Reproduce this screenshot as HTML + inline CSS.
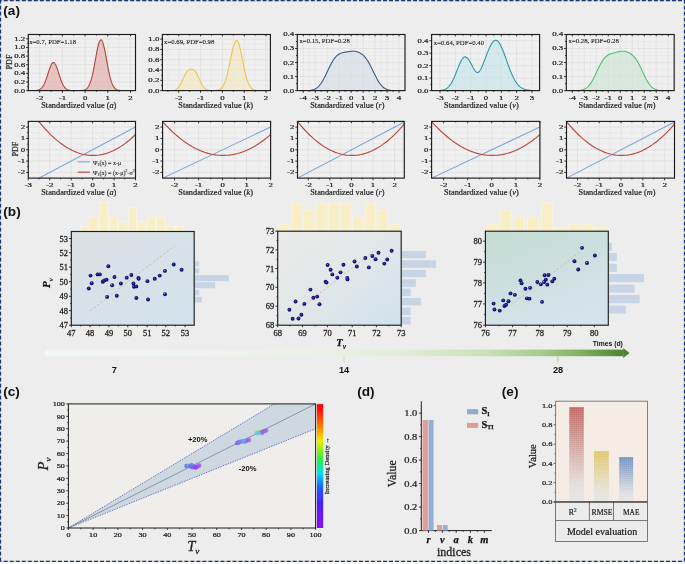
<!DOCTYPE html>
<html><head><meta charset="utf-8"><style>
html,body{margin:0;padding:0;width:685px;height:564px;overflow:hidden;background:#ededed;}
svg{display:block;will-change:transform;}
</style></head><body>
<svg width="685" height="564" viewBox="0 0 685 564">
<rect x="0" y="0" width="685" height="564" fill="#ededed"/>
<text transform="translate(3.3,14.5)" font-size="13.6" font-family="&quot;Liberation Sans&quot;, sans-serif" font-weight="bold" fill="#111" >(a)</text>
<text transform="translate(3.3,215.8)" font-size="13.6" font-family="&quot;Liberation Sans&quot;, sans-serif" font-weight="bold" fill="#111" >(b)</text>
<text transform="translate(3.2,395.8)" font-size="13.6" font-family="&quot;Liberation Sans&quot;, sans-serif" font-weight="bold" fill="#111" >(c)</text>
<text transform="translate(357.2,395.7)" font-size="13.6" font-family="&quot;Liberation Sans&quot;, sans-serif" font-weight="bold" fill="#111" >(d)</text>
<text transform="translate(501.8,395.7)" font-size="13.6" font-family="&quot;Liberation Sans&quot;, sans-serif" font-weight="bold" fill="#111" >(e)</text>
<rect x="28.3" y="34.5" width="107.2" height="56.1" fill="#f0f0f0" />
<line x1="51.01" y1="34.5" x2="51.01" y2="90.6" stroke="#e0e0e0" stroke-width="0.6" stroke-dasharray="1.6 1"/>
<line x1="73.72" y1="34.5" x2="73.72" y2="90.6" stroke="#e0e0e0" stroke-width="0.6" stroke-dasharray="1.6 1"/>
<line x1="96.44" y1="34.5" x2="96.44" y2="90.6" stroke="#e0e0e0" stroke-width="0.6" stroke-dasharray="1.6 1"/>
<line x1="119.15" y1="34.5" x2="119.15" y2="90.6" stroke="#e0e0e0" stroke-width="0.6" stroke-dasharray="1.6 1"/>
<line x1="28.3" y1="86.28" x2="135.5" y2="86.28" stroke="#e0e0e0" stroke-width="0.6" stroke-dasharray="1.6 1"/>
<line x1="28.3" y1="77.65" x2="135.5" y2="77.65" stroke="#e0e0e0" stroke-width="0.6" stroke-dasharray="1.6 1"/>
<line x1="28.3" y1="69.02" x2="135.5" y2="69.02" stroke="#e0e0e0" stroke-width="0.6" stroke-dasharray="1.6 1"/>
<line x1="28.3" y1="60.39" x2="135.5" y2="60.39" stroke="#e0e0e0" stroke-width="0.6" stroke-dasharray="1.6 1"/>
<line x1="28.3" y1="51.76" x2="135.5" y2="51.76" stroke="#e0e0e0" stroke-width="0.6" stroke-dasharray="1.6 1"/>
<line x1="28.3" y1="43.13" x2="135.5" y2="43.13" stroke="#e0e0e0" stroke-width="0.6" stroke-dasharray="1.6 1"/>
<line x1="39.66" y1="34.5" x2="39.66" y2="90.6" stroke="#dcdcdc" stroke-width="0.7" />
<line x1="62.37" y1="34.5" x2="62.37" y2="90.6" stroke="#dcdcdc" stroke-width="0.7" />
<line x1="85.08" y1="34.5" x2="85.08" y2="90.6" stroke="#dcdcdc" stroke-width="0.7" />
<line x1="107.79" y1="34.5" x2="107.79" y2="90.6" stroke="#dcdcdc" stroke-width="0.7" />
<line x1="130.5" y1="34.5" x2="130.5" y2="90.6" stroke="#dcdcdc" stroke-width="0.7" />
<line x1="28.3" y1="90.6" x2="135.5" y2="90.6" stroke="#dcdcdc" stroke-width="0.7" />
<line x1="28.3" y1="81.97" x2="135.5" y2="81.97" stroke="#dcdcdc" stroke-width="0.7" />
<line x1="28.3" y1="73.34" x2="135.5" y2="73.34" stroke="#dcdcdc" stroke-width="0.7" />
<line x1="28.3" y1="64.71" x2="135.5" y2="64.71" stroke="#dcdcdc" stroke-width="0.7" />
<line x1="28.3" y1="56.08" x2="135.5" y2="56.08" stroke="#dcdcdc" stroke-width="0.7" />
<line x1="28.3" y1="47.45" x2="135.5" y2="47.45" stroke="#dcdcdc" stroke-width="0.7" />
<line x1="28.3" y1="38.82" x2="135.5" y2="38.82" stroke="#dcdcdc" stroke-width="0.7" />
<path d="M28.3,90.6 L28.3,90.6 L29.2,90.6 L30.1,90.6 L31,90.59 L31.9,90.59 L32.8,90.58 L33.71,90.56 L34.61,90.53 L35.51,90.48 L36.41,90.4 L37.31,90.27 L38.21,90.06 L39.11,89.76 L40.01,89.31 L40.91,88.67 L41.81,87.8 L42.71,86.65 L43.61,85.19 L44.52,83.38 L45.42,81.23 L46.32,78.77 L47.22,76.08 L48.12,73.26 L49.02,70.46 L49.92,67.85 L50.82,65.61 L51.72,63.9 L52.62,62.85 L53.52,62.56 L54.42,63.03 L55.33,64.24 L56.23,66.09 L57.13,68.43 L58.03,71.1 L58.93,73.91 L59.83,76.71 L60.73,79.36 L61.63,81.75 L62.53,83.83 L63.43,85.56 L64.33,86.95 L65.23,88.03 L66.14,88.84 L67.04,89.43 L67.94,89.84 L68.84,90.12 L69.74,90.31 L70.64,90.42 L71.54,90.5 L72.44,90.54 L73.34,90.57 L74.24,90.58 L75.14,90.59 L76.04,90.59 L76.95,90.59 L77.85,90.59 L78.75,90.58 L79.65,90.57 L80.55,90.54 L81.45,90.49 L82.35,90.41 L83.25,90.28 L84.15,90.07 L85.05,89.75 L85.95,89.27 L86.85,88.57 L87.76,87.57 L88.66,86.21 L89.56,84.4 L90.46,82.07 L91.36,79.17 L92.26,75.68 L93.16,71.62 L94.06,67.08 L94.96,62.21 L95.86,57.23 L96.76,52.37 L97.66,47.95 L98.57,44.25 L99.47,41.52 L100.37,39.98 L101.27,39.75 L102.17,40.83 L103.07,43.15 L103.97,46.54 L104.87,50.74 L105.77,55.47 L106.67,60.44 L107.57,65.38 L108.47,70.05 L109.38,74.29 L110.28,78 L111.18,81.11 L112.08,83.64 L112.98,85.62 L113.88,87.14 L114.78,88.25 L115.68,89.05 L116.58,89.6 L117.48,89.97 L118.38,90.22 L119.28,90.37 L120.19,90.47 L121.09,90.53 L121.99,90.56 L122.89,90.58 L123.79,90.59 L124.69,90.59 L125.59,90.6 L126.49,90.6 L127.39,90.6 L128.29,90.6 L129.19,90.6 L130.09,90.6 L131,90.6 L131.9,90.6 L132.8,90.6 L133.7,90.6 L134.6,90.6 L135.5,90.6 L135.5,90.6 Z" fill="#e1a7a2" fill-opacity="0.6"/>
<path d="M35.51,90.48 L36.41,90.4 L37.31,90.27 L38.21,90.06 L39.11,89.76 L40.01,89.31 L40.91,88.67 L41.81,87.8 L42.71,86.65 L43.61,85.19 L44.52,83.38 L45.42,81.23 L46.32,78.77 L47.22,76.08 L48.12,73.26 L49.02,70.46 L49.92,67.85 L50.82,65.61 L51.72,63.9 L52.62,62.85 L53.52,62.56 L54.42,63.03 L55.33,64.24 L56.23,66.09 L57.13,68.43 L58.03,71.1 L58.93,73.91 L59.83,76.71 L60.73,79.36 L61.63,81.75 L62.53,83.83 L63.43,85.56 L64.33,86.95 L65.23,88.03 L66.14,88.84 L67.04,89.43 L67.94,89.84 L68.84,90.12 L69.74,90.31 L70.64,90.42 L71.54,90.5 L81.45,90.49 L82.35,90.41 L83.25,90.28 L84.15,90.07 L85.05,89.75 L85.95,89.27 L86.85,88.57 L87.76,87.57 L88.66,86.21 L89.56,84.4 L90.46,82.07 L91.36,79.17 L92.26,75.68 L93.16,71.62 L94.06,67.08 L94.96,62.21 L95.86,57.23 L96.76,52.37 L97.66,47.95 L98.57,44.25 L99.47,41.52 L100.37,39.98 L101.27,39.75 L102.17,40.83 L103.07,43.15 L103.97,46.54 L104.87,50.74 L105.77,55.47 L106.67,60.44 L107.57,65.38 L108.47,70.05 L109.38,74.29 L110.28,78 L111.18,81.11 L112.08,83.64 L112.98,85.62 L113.88,87.14 L114.78,88.25 L115.68,89.05 L116.58,89.6 L117.48,89.97 L118.38,90.22 L119.28,90.37 L120.19,90.47" stroke="#b5453d" stroke-width="1.1" fill="none" stroke-linejoin="round"/>
<line x1="26.1" y1="90.6" x2="28.3" y2="90.6" stroke="#1c1c1c" stroke-width="0.9" />
<line x1="26.1" y1="81.97" x2="28.3" y2="81.97" stroke="#1c1c1c" stroke-width="0.9" />
<line x1="26.1" y1="73.34" x2="28.3" y2="73.34" stroke="#1c1c1c" stroke-width="0.9" />
<line x1="26.1" y1="64.71" x2="28.3" y2="64.71" stroke="#1c1c1c" stroke-width="0.9" />
<line x1="26.1" y1="56.08" x2="28.3" y2="56.08" stroke="#1c1c1c" stroke-width="0.9" />
<line x1="26.1" y1="47.45" x2="28.3" y2="47.45" stroke="#1c1c1c" stroke-width="0.9" />
<line x1="26.1" y1="38.82" x2="28.3" y2="38.82" stroke="#1c1c1c" stroke-width="0.9" />
<line x1="27" y1="86.28" x2="28.3" y2="86.28" stroke="#1c1c1c" stroke-width="0.8" />
<line x1="27" y1="77.65" x2="28.3" y2="77.65" stroke="#1c1c1c" stroke-width="0.8" />
<line x1="27" y1="69.02" x2="28.3" y2="69.02" stroke="#1c1c1c" stroke-width="0.8" />
<line x1="27" y1="60.39" x2="28.3" y2="60.39" stroke="#1c1c1c" stroke-width="0.8" />
<line x1="27" y1="51.76" x2="28.3" y2="51.76" stroke="#1c1c1c" stroke-width="0.8" />
<line x1="27" y1="43.13" x2="28.3" y2="43.13" stroke="#1c1c1c" stroke-width="0.8" />
<line x1="39.66" y1="90.6" x2="39.66" y2="92.8" stroke="#1c1c1c" stroke-width="0.9" />
<line x1="39.66" y1="34.5" x2="39.66" y2="36.3" stroke="#1c1c1c" stroke-width="0.9" />
<line x1="62.37" y1="90.6" x2="62.37" y2="92.8" stroke="#1c1c1c" stroke-width="0.9" />
<line x1="62.37" y1="34.5" x2="62.37" y2="36.3" stroke="#1c1c1c" stroke-width="0.9" />
<line x1="85.08" y1="90.6" x2="85.08" y2="92.8" stroke="#1c1c1c" stroke-width="0.9" />
<line x1="85.08" y1="34.5" x2="85.08" y2="36.3" stroke="#1c1c1c" stroke-width="0.9" />
<line x1="107.79" y1="90.6" x2="107.79" y2="92.8" stroke="#1c1c1c" stroke-width="0.9" />
<line x1="107.79" y1="34.5" x2="107.79" y2="36.3" stroke="#1c1c1c" stroke-width="0.9" />
<line x1="130.5" y1="90.6" x2="130.5" y2="92.8" stroke="#1c1c1c" stroke-width="0.9" />
<line x1="130.5" y1="34.5" x2="130.5" y2="36.3" stroke="#1c1c1c" stroke-width="0.9" />
<line x1="51.01" y1="90.6" x2="51.01" y2="91.9" stroke="#1c1c1c" stroke-width="0.8" />
<line x1="51.01" y1="34.5" x2="51.01" y2="35.6" stroke="#1c1c1c" stroke-width="0.8" />
<line x1="73.72" y1="90.6" x2="73.72" y2="91.9" stroke="#1c1c1c" stroke-width="0.8" />
<line x1="73.72" y1="34.5" x2="73.72" y2="35.6" stroke="#1c1c1c" stroke-width="0.8" />
<line x1="96.44" y1="90.6" x2="96.44" y2="91.9" stroke="#1c1c1c" stroke-width="0.8" />
<line x1="96.44" y1="34.5" x2="96.44" y2="35.6" stroke="#1c1c1c" stroke-width="0.8" />
<line x1="119.15" y1="90.6" x2="119.15" y2="91.9" stroke="#1c1c1c" stroke-width="0.8" />
<line x1="119.15" y1="34.5" x2="119.15" y2="35.6" stroke="#1c1c1c" stroke-width="0.8" />
<rect x="28.3" y="34.5" width="107.2" height="56.1" fill="none" stroke="#1c1c1c" stroke-width="1.15"/>
<text transform="translate(25.2,92.55) scale(1,0.74)" font-size="8.8" text-anchor="end" font-family="&quot;Liberation Serif&quot;, serif" fill="#1c1c1c" stroke="#1c1c1c" stroke-width="0.28">0.0</text>
<text transform="translate(25.2,83.92) scale(1,0.74)" font-size="8.8" text-anchor="end" font-family="&quot;Liberation Serif&quot;, serif" fill="#1c1c1c" stroke="#1c1c1c" stroke-width="0.28">0.2</text>
<text transform="translate(25.2,75.29) scale(1,0.74)" font-size="8.8" text-anchor="end" font-family="&quot;Liberation Serif&quot;, serif" fill="#1c1c1c" stroke="#1c1c1c" stroke-width="0.28">0.4</text>
<text transform="translate(25.2,66.66) scale(1,0.74)" font-size="8.8" text-anchor="end" font-family="&quot;Liberation Serif&quot;, serif" fill="#1c1c1c" stroke="#1c1c1c" stroke-width="0.28">0.6</text>
<text transform="translate(25.2,58.03) scale(1,0.74)" font-size="8.8" text-anchor="end" font-family="&quot;Liberation Serif&quot;, serif" fill="#1c1c1c" stroke="#1c1c1c" stroke-width="0.28">0.8</text>
<text transform="translate(25.2,49.4) scale(1,0.74)" font-size="8.8" text-anchor="end" font-family="&quot;Liberation Serif&quot;, serif" fill="#1c1c1c" stroke="#1c1c1c" stroke-width="0.28">1.0</text>
<text transform="translate(25.2,40.77) scale(1,0.74)" font-size="8.8" text-anchor="end" font-family="&quot;Liberation Serif&quot;, serif" fill="#1c1c1c" stroke="#1c1c1c" stroke-width="0.28">1.2</text>
<text transform="translate(39.66,100.4) scale(1,0.74)" font-size="8.8" text-anchor="middle" font-family="&quot;Liberation Serif&quot;, serif" fill="#1c1c1c" stroke="#1c1c1c" stroke-width="0.28">-2</text>
<text transform="translate(62.37,100.4) scale(1,0.74)" font-size="8.8" text-anchor="middle" font-family="&quot;Liberation Serif&quot;, serif" fill="#1c1c1c" stroke="#1c1c1c" stroke-width="0.28">-1</text>
<text transform="translate(85.08,100.4) scale(1,0.74)" font-size="8.8" text-anchor="middle" font-family="&quot;Liberation Serif&quot;, serif" fill="#1c1c1c" stroke="#1c1c1c" stroke-width="0.28">0</text>
<text transform="translate(107.79,100.4) scale(1,0.74)" font-size="8.8" text-anchor="middle" font-family="&quot;Liberation Serif&quot;, serif" fill="#1c1c1c" stroke="#1c1c1c" stroke-width="0.28">1</text>
<text transform="translate(130.5,100.4) scale(1,0.74)" font-size="8.8" text-anchor="middle" font-family="&quot;Liberation Serif&quot;, serif" fill="#1c1c1c" stroke="#1c1c1c" stroke-width="0.28">2</text>
<text transform="translate(78.8,107.9)" font-size="8.3" text-anchor="middle" font-family="&quot;Liberation Serif&quot;, serif" fill="#1c1c1c"  stroke="#1c1c1c" stroke-width="0.20">Standardized value (<tspan font-style="italic">a</tspan>)</text>
<text transform="translate(29.2,43.5) scale(1,0.88)" font-size="6.75" font-family="&quot;Liberation Serif&quot;, serif" fill="#1c1c1c" stroke="#1c1c1c" stroke-width="0.12">x=0.7, PDF=1.18</text>
<rect x="162.4" y="34.5" width="108" height="56.1" fill="#f0f0f0" />
<line x1="167.85" y1="34.5" x2="167.85" y2="90.6" stroke="#e0e0e0" stroke-width="0.6" stroke-dasharray="1.6 1"/>
<line x1="189.67" y1="34.5" x2="189.67" y2="90.6" stroke="#e0e0e0" stroke-width="0.6" stroke-dasharray="1.6 1"/>
<line x1="211.49" y1="34.5" x2="211.49" y2="90.6" stroke="#e0e0e0" stroke-width="0.6" stroke-dasharray="1.6 1"/>
<line x1="233.31" y1="34.5" x2="233.31" y2="90.6" stroke="#e0e0e0" stroke-width="0.6" stroke-dasharray="1.6 1"/>
<line x1="255.13" y1="34.5" x2="255.13" y2="90.6" stroke="#e0e0e0" stroke-width="0.6" stroke-dasharray="1.6 1"/>
<line x1="162.4" y1="85.45" x2="270.4" y2="85.45" stroke="#e0e0e0" stroke-width="0.6" stroke-dasharray="1.6 1"/>
<line x1="162.4" y1="75.16" x2="270.4" y2="75.16" stroke="#e0e0e0" stroke-width="0.6" stroke-dasharray="1.6 1"/>
<line x1="162.4" y1="64.87" x2="270.4" y2="64.87" stroke="#e0e0e0" stroke-width="0.6" stroke-dasharray="1.6 1"/>
<line x1="162.4" y1="54.57" x2="270.4" y2="54.57" stroke="#e0e0e0" stroke-width="0.6" stroke-dasharray="1.6 1"/>
<line x1="162.4" y1="44.28" x2="270.4" y2="44.28" stroke="#e0e0e0" stroke-width="0.6" stroke-dasharray="1.6 1"/>
<line x1="178.76" y1="34.5" x2="178.76" y2="90.6" stroke="#dcdcdc" stroke-width="0.7" />
<line x1="200.58" y1="34.5" x2="200.58" y2="90.6" stroke="#dcdcdc" stroke-width="0.7" />
<line x1="222.4" y1="34.5" x2="222.4" y2="90.6" stroke="#dcdcdc" stroke-width="0.7" />
<line x1="244.22" y1="34.5" x2="244.22" y2="90.6" stroke="#dcdcdc" stroke-width="0.7" />
<line x1="266.04" y1="34.5" x2="266.04" y2="90.6" stroke="#dcdcdc" stroke-width="0.7" />
<line x1="162.4" y1="90.6" x2="270.4" y2="90.6" stroke="#dcdcdc" stroke-width="0.7" />
<line x1="162.4" y1="80.31" x2="270.4" y2="80.31" stroke="#dcdcdc" stroke-width="0.7" />
<line x1="162.4" y1="70.01" x2="270.4" y2="70.01" stroke="#dcdcdc" stroke-width="0.7" />
<line x1="162.4" y1="59.72" x2="270.4" y2="59.72" stroke="#dcdcdc" stroke-width="0.7" />
<line x1="162.4" y1="49.43" x2="270.4" y2="49.43" stroke="#dcdcdc" stroke-width="0.7" />
<line x1="162.4" y1="39.13" x2="270.4" y2="39.13" stroke="#dcdcdc" stroke-width="0.7" />
<path d="M162.4,90.6 L162.4,90.6 L163.31,90.6 L164.22,90.6 L165.12,90.6 L166.03,90.6 L166.94,90.6 L167.85,90.6 L168.75,90.59 L169.66,90.59 L170.57,90.57 L171.48,90.54 L172.38,90.48 L173.29,90.37 L174.2,90.2 L175.11,89.94 L176.01,89.53 L176.92,88.95 L177.83,88.15 L178.74,87.11 L179.64,85.81 L180.55,84.26 L181.46,82.5 L182.37,80.57 L183.27,78.57 L184.18,76.59 L185.09,74.72 L186,73.06 L186.9,71.68 L187.81,70.61 L188.72,69.87 L189.63,69.44 L190.53,69.26 L191.44,69.24 L192.35,69.33 L193.26,69.64 L194.16,70.23 L195.07,71.14 L195.98,72.38 L196.89,73.92 L197.79,75.7 L198.7,77.64 L199.61,79.64 L200.52,81.61 L201.43,83.46 L202.33,85.12 L203.24,86.54 L204.15,87.7 L205.06,88.61 L205.96,89.28 L206.87,89.77 L207.78,90.09 L208.69,90.3 L209.59,90.43 L210.5,90.51 L211.41,90.54 L212.32,90.56 L213.22,90.55 L214.13,90.53 L215.04,90.49 L215.95,90.42 L216.85,90.31 L217.76,90.14 L218.67,89.88 L219.58,89.5 L220.48,88.97 L221.39,88.22 L222.3,87.2 L223.21,85.85 L224.11,84.12 L225.02,81.94 L225.93,79.28 L226.84,76.13 L227.74,72.52 L228.65,68.49 L229.56,64.15 L230.47,59.65 L231.37,55.17 L232.28,50.94 L233.19,47.17 L234.1,44.07 L235.01,41.85 L235.91,40.63 L236.82,40.5 L237.73,41.47 L238.64,43.47 L239.54,46.37 L240.45,50 L241.36,54.15 L242.27,58.59 L243.17,63.1 L244.08,67.49 L244.99,71.61 L245.9,75.33 L246.8,78.59 L247.71,81.36 L248.62,83.65 L249.53,85.48 L250.43,86.91 L251.34,88 L252.25,88.81 L253.16,89.39 L254.06,89.81 L254.97,90.09 L255.88,90.28 L256.79,90.4 L257.69,90.48 L258.6,90.53 L259.51,90.56 L260.42,90.58 L261.32,90.59 L262.23,90.59 L263.14,90.6 L264.05,90.6 L264.95,90.6 L265.86,90.6 L266.77,90.6 L267.68,90.6 L268.58,90.6 L269.49,90.6 L270.4,90.6 L270.4,90.6 Z" fill="#f3e8be" fill-opacity="0.6"/>
<path d="M172.38,90.48 L173.29,90.37 L174.2,90.2 L175.11,89.94 L176.01,89.53 L176.92,88.95 L177.83,88.15 L178.74,87.11 L179.64,85.81 L180.55,84.26 L181.46,82.5 L182.37,80.57 L183.27,78.57 L184.18,76.59 L185.09,74.72 L186,73.06 L186.9,71.68 L187.81,70.61 L188.72,69.87 L189.63,69.44 L190.53,69.26 L191.44,69.24 L192.35,69.33 L193.26,69.64 L194.16,70.23 L195.07,71.14 L195.98,72.38 L196.89,73.92 L197.79,75.7 L198.7,77.64 L199.61,79.64 L200.52,81.61 L201.43,83.46 L202.33,85.12 L203.24,86.54 L204.15,87.7 L205.06,88.61 L205.96,89.28 L206.87,89.77 L207.78,90.09 L208.69,90.3 L209.59,90.43 L215.04,90.49 L215.95,90.42 L216.85,90.31 L217.76,90.14 L218.67,89.88 L219.58,89.5 L220.48,88.97 L221.39,88.22 L222.3,87.2 L223.21,85.85 L224.11,84.12 L225.02,81.94 L225.93,79.28 L226.84,76.13 L227.74,72.52 L228.65,68.49 L229.56,64.15 L230.47,59.65 L231.37,55.17 L232.28,50.94 L233.19,47.17 L234.1,44.07 L235.01,41.85 L235.91,40.63 L236.82,40.5 L237.73,41.47 L238.64,43.47 L239.54,46.37 L240.45,50 L241.36,54.15 L242.27,58.59 L243.17,63.1 L244.08,67.49 L244.99,71.61 L245.9,75.33 L246.8,78.59 L247.71,81.36 L248.62,83.65 L249.53,85.48 L250.43,86.91 L251.34,88 L252.25,88.81 L253.16,89.39 L254.06,89.81 L254.97,90.09 L255.88,90.28 L256.79,90.4 L257.69,90.48" stroke="#e9c84c" stroke-width="1.1" fill="none" stroke-linejoin="round"/>
<line x1="160.2" y1="90.6" x2="162.4" y2="90.6" stroke="#1c1c1c" stroke-width="0.9" />
<line x1="160.2" y1="80.31" x2="162.4" y2="80.31" stroke="#1c1c1c" stroke-width="0.9" />
<line x1="160.2" y1="70.01" x2="162.4" y2="70.01" stroke="#1c1c1c" stroke-width="0.9" />
<line x1="160.2" y1="59.72" x2="162.4" y2="59.72" stroke="#1c1c1c" stroke-width="0.9" />
<line x1="160.2" y1="49.43" x2="162.4" y2="49.43" stroke="#1c1c1c" stroke-width="0.9" />
<line x1="160.2" y1="39.13" x2="162.4" y2="39.13" stroke="#1c1c1c" stroke-width="0.9" />
<line x1="161.1" y1="85.45" x2="162.4" y2="85.45" stroke="#1c1c1c" stroke-width="0.8" />
<line x1="161.1" y1="75.16" x2="162.4" y2="75.16" stroke="#1c1c1c" stroke-width="0.8" />
<line x1="161.1" y1="64.87" x2="162.4" y2="64.87" stroke="#1c1c1c" stroke-width="0.8" />
<line x1="161.1" y1="54.57" x2="162.4" y2="54.57" stroke="#1c1c1c" stroke-width="0.8" />
<line x1="161.1" y1="44.28" x2="162.4" y2="44.28" stroke="#1c1c1c" stroke-width="0.8" />
<line x1="178.76" y1="90.6" x2="178.76" y2="92.8" stroke="#1c1c1c" stroke-width="0.9" />
<line x1="178.76" y1="34.5" x2="178.76" y2="36.3" stroke="#1c1c1c" stroke-width="0.9" />
<line x1="200.58" y1="90.6" x2="200.58" y2="92.8" stroke="#1c1c1c" stroke-width="0.9" />
<line x1="200.58" y1="34.5" x2="200.58" y2="36.3" stroke="#1c1c1c" stroke-width="0.9" />
<line x1="222.4" y1="90.6" x2="222.4" y2="92.8" stroke="#1c1c1c" stroke-width="0.9" />
<line x1="222.4" y1="34.5" x2="222.4" y2="36.3" stroke="#1c1c1c" stroke-width="0.9" />
<line x1="244.22" y1="90.6" x2="244.22" y2="92.8" stroke="#1c1c1c" stroke-width="0.9" />
<line x1="244.22" y1="34.5" x2="244.22" y2="36.3" stroke="#1c1c1c" stroke-width="0.9" />
<line x1="266.04" y1="90.6" x2="266.04" y2="92.8" stroke="#1c1c1c" stroke-width="0.9" />
<line x1="266.04" y1="34.5" x2="266.04" y2="36.3" stroke="#1c1c1c" stroke-width="0.9" />
<line x1="167.85" y1="90.6" x2="167.85" y2="91.9" stroke="#1c1c1c" stroke-width="0.8" />
<line x1="167.85" y1="34.5" x2="167.85" y2="35.6" stroke="#1c1c1c" stroke-width="0.8" />
<line x1="189.67" y1="90.6" x2="189.67" y2="91.9" stroke="#1c1c1c" stroke-width="0.8" />
<line x1="189.67" y1="34.5" x2="189.67" y2="35.6" stroke="#1c1c1c" stroke-width="0.8" />
<line x1="211.49" y1="90.6" x2="211.49" y2="91.9" stroke="#1c1c1c" stroke-width="0.8" />
<line x1="211.49" y1="34.5" x2="211.49" y2="35.6" stroke="#1c1c1c" stroke-width="0.8" />
<line x1="233.31" y1="90.6" x2="233.31" y2="91.9" stroke="#1c1c1c" stroke-width="0.8" />
<line x1="233.31" y1="34.5" x2="233.31" y2="35.6" stroke="#1c1c1c" stroke-width="0.8" />
<line x1="255.13" y1="90.6" x2="255.13" y2="91.9" stroke="#1c1c1c" stroke-width="0.8" />
<line x1="255.13" y1="34.5" x2="255.13" y2="35.6" stroke="#1c1c1c" stroke-width="0.8" />
<rect x="162.4" y="34.5" width="108" height="56.1" fill="none" stroke="#1c1c1c" stroke-width="1.15"/>
<text transform="translate(159.3,92.55) scale(1,0.74)" font-size="8.8" text-anchor="end" font-family="&quot;Liberation Serif&quot;, serif" fill="#1c1c1c" stroke="#1c1c1c" stroke-width="0.28">0.0</text>
<text transform="translate(159.3,82.26) scale(1,0.74)" font-size="8.8" text-anchor="end" font-family="&quot;Liberation Serif&quot;, serif" fill="#1c1c1c" stroke="#1c1c1c" stroke-width="0.28">0.2</text>
<text transform="translate(159.3,71.96) scale(1,0.74)" font-size="8.8" text-anchor="end" font-family="&quot;Liberation Serif&quot;, serif" fill="#1c1c1c" stroke="#1c1c1c" stroke-width="0.28">0.4</text>
<text transform="translate(159.3,61.67) scale(1,0.74)" font-size="8.8" text-anchor="end" font-family="&quot;Liberation Serif&quot;, serif" fill="#1c1c1c" stroke="#1c1c1c" stroke-width="0.28">0.6</text>
<text transform="translate(159.3,51.38) scale(1,0.74)" font-size="8.8" text-anchor="end" font-family="&quot;Liberation Serif&quot;, serif" fill="#1c1c1c" stroke="#1c1c1c" stroke-width="0.28">0.8</text>
<text transform="translate(159.3,41.08) scale(1,0.74)" font-size="8.8" text-anchor="end" font-family="&quot;Liberation Serif&quot;, serif" fill="#1c1c1c" stroke="#1c1c1c" stroke-width="0.28">1.0</text>
<text transform="translate(178.76,100.4) scale(1,0.74)" font-size="8.8" text-anchor="middle" font-family="&quot;Liberation Serif&quot;, serif" fill="#1c1c1c" stroke="#1c1c1c" stroke-width="0.28">-2</text>
<text transform="translate(200.58,100.4) scale(1,0.74)" font-size="8.8" text-anchor="middle" font-family="&quot;Liberation Serif&quot;, serif" fill="#1c1c1c" stroke="#1c1c1c" stroke-width="0.28">-1</text>
<text transform="translate(222.4,100.4) scale(1,0.74)" font-size="8.8" text-anchor="middle" font-family="&quot;Liberation Serif&quot;, serif" fill="#1c1c1c" stroke="#1c1c1c" stroke-width="0.28">0</text>
<text transform="translate(244.22,100.4) scale(1,0.74)" font-size="8.8" text-anchor="middle" font-family="&quot;Liberation Serif&quot;, serif" fill="#1c1c1c" stroke="#1c1c1c" stroke-width="0.28">1</text>
<text transform="translate(266.04,100.4) scale(1,0.74)" font-size="8.8" text-anchor="middle" font-family="&quot;Liberation Serif&quot;, serif" fill="#1c1c1c" stroke="#1c1c1c" stroke-width="0.28">2</text>
<text transform="translate(215.6,107.9)" font-size="8.3" text-anchor="middle" font-family="&quot;Liberation Serif&quot;, serif" fill="#1c1c1c"  stroke="#1c1c1c" stroke-width="0.20">Standardized value (<tspan font-style="italic">k</tspan>)</text>
<text transform="translate(164.1,43.6) scale(1,0.88)" font-size="6.75" font-family="&quot;Liberation Serif&quot;, serif" fill="#1c1c1c" stroke="#1c1c1c" stroke-width="0.12">x=0.69, PDF=0.98</text>
<rect x="297.3" y="34.5" width="107.7" height="56.1" fill="#f0f0f0" />
<line x1="309.27" y1="34.5" x2="309.27" y2="90.6" stroke="#e0e0e0" stroke-width="0.6" stroke-dasharray="1.6 1"/>
<line x1="321.23" y1="34.5" x2="321.23" y2="90.6" stroke="#e0e0e0" stroke-width="0.6" stroke-dasharray="1.6 1"/>
<line x1="333.2" y1="34.5" x2="333.2" y2="90.6" stroke="#e0e0e0" stroke-width="0.6" stroke-dasharray="1.6 1"/>
<line x1="345.17" y1="34.5" x2="345.17" y2="90.6" stroke="#e0e0e0" stroke-width="0.6" stroke-dasharray="1.6 1"/>
<line x1="357.13" y1="34.5" x2="357.13" y2="90.6" stroke="#e0e0e0" stroke-width="0.6" stroke-dasharray="1.6 1"/>
<line x1="369.1" y1="34.5" x2="369.1" y2="90.6" stroke="#e0e0e0" stroke-width="0.6" stroke-dasharray="1.6 1"/>
<line x1="381.07" y1="34.5" x2="381.07" y2="90.6" stroke="#e0e0e0" stroke-width="0.6" stroke-dasharray="1.6 1"/>
<line x1="393.03" y1="34.5" x2="393.03" y2="90.6" stroke="#e0e0e0" stroke-width="0.6" stroke-dasharray="1.6 1"/>
<line x1="297.3" y1="83.59" x2="405" y2="83.59" stroke="#e0e0e0" stroke-width="0.6" stroke-dasharray="1.6 1"/>
<line x1="297.3" y1="69.56" x2="405" y2="69.56" stroke="#e0e0e0" stroke-width="0.6" stroke-dasharray="1.6 1"/>
<line x1="297.3" y1="55.54" x2="405" y2="55.54" stroke="#e0e0e0" stroke-width="0.6" stroke-dasharray="1.6 1"/>
<line x1="297.3" y1="41.51" x2="405" y2="41.51" stroke="#e0e0e0" stroke-width="0.6" stroke-dasharray="1.6 1"/>
<line x1="303.28" y1="34.5" x2="303.28" y2="90.6" stroke="#dcdcdc" stroke-width="0.7" />
<line x1="315.25" y1="34.5" x2="315.25" y2="90.6" stroke="#dcdcdc" stroke-width="0.7" />
<line x1="327.22" y1="34.5" x2="327.22" y2="90.6" stroke="#dcdcdc" stroke-width="0.7" />
<line x1="339.18" y1="34.5" x2="339.18" y2="90.6" stroke="#dcdcdc" stroke-width="0.7" />
<line x1="351.15" y1="34.5" x2="351.15" y2="90.6" stroke="#dcdcdc" stroke-width="0.7" />
<line x1="363.12" y1="34.5" x2="363.12" y2="90.6" stroke="#dcdcdc" stroke-width="0.7" />
<line x1="375.08" y1="34.5" x2="375.08" y2="90.6" stroke="#dcdcdc" stroke-width="0.7" />
<line x1="387.05" y1="34.5" x2="387.05" y2="90.6" stroke="#dcdcdc" stroke-width="0.7" />
<line x1="399.02" y1="34.5" x2="399.02" y2="90.6" stroke="#dcdcdc" stroke-width="0.7" />
<line x1="297.3" y1="90.6" x2="405" y2="90.6" stroke="#dcdcdc" stroke-width="0.7" />
<line x1="297.3" y1="76.57" x2="405" y2="76.57" stroke="#dcdcdc" stroke-width="0.7" />
<line x1="297.3" y1="62.55" x2="405" y2="62.55" stroke="#dcdcdc" stroke-width="0.7" />
<line x1="297.3" y1="48.53" x2="405" y2="48.53" stroke="#dcdcdc" stroke-width="0.7" />
<line x1="297.3" y1="34.5" x2="405" y2="34.5" stroke="#dcdcdc" stroke-width="0.7" />
<path d="M297.3,90.6 L297.3,90.6 L298.21,90.6 L299.11,90.6 L300.02,90.6 L300.92,90.6 L301.83,90.59 L302.73,90.59 L303.64,90.58 L304.54,90.57 L305.45,90.56 L306.35,90.54 L307.26,90.5 L308.16,90.46 L309.07,90.4 L309.97,90.31 L310.88,90.19 L311.78,90.03 L312.69,89.83 L313.59,89.56 L314.5,89.22 L315.4,88.79 L316.31,88.26 L317.21,87.62 L318.12,86.86 L319.02,85.95 L319.93,84.91 L320.83,83.71 L321.74,82.37 L322.64,80.89 L323.55,79.28 L324.45,77.56 L325.36,75.74 L326.26,73.86 L327.17,71.93 L328.07,70 L328.98,68.08 L329.88,66.22 L330.79,64.43 L331.69,62.75 L332.6,61.18 L333.5,59.75 L334.41,58.46 L335.31,57.32 L336.22,56.33 L337.12,55.47 L338.03,54.75 L338.93,54.15 L339.84,53.66 L340.74,53.26 L341.65,52.94 L342.55,52.68 L343.46,52.48 L344.36,52.3 L345.27,52.16 L346.17,52.02 L347.08,51.89 L347.98,51.75 L348.89,51.62 L349.79,51.48 L350.7,51.36 L351.6,51.25 L352.51,51.18 L353.41,51.16 L354.32,51.19 L355.22,51.29 L356.13,51.46 L357.03,51.7 L357.94,52.01 L358.84,52.39 L359.75,52.84 L360.65,53.36 L361.56,53.95 L362.46,54.64 L363.37,55.42 L364.27,56.31 L365.18,57.32 L366.08,58.46 L366.99,59.73 L367.89,61.13 L368.8,62.65 L369.7,64.29 L370.61,66.02 L371.51,67.83 L372.42,69.68 L373.32,71.57 L374.23,73.44 L375.13,75.29 L376.04,77.08 L376.94,78.79 L377.85,80.39 L378.75,81.87 L379.66,83.23 L380.56,84.45 L381.47,85.52 L382.37,86.46 L383.28,87.27 L384.18,87.95 L385.09,88.52 L385.99,88.99 L386.9,89.37 L387.8,89.67 L388.71,89.91 L389.61,90.09 L390.52,90.23 L391.42,90.34 L392.33,90.41 L393.23,90.47 L394.14,90.51 L395.04,90.54 L395.95,90.56 L396.85,90.57 L397.76,90.58 L398.66,90.59 L399.57,90.59 L400.47,90.6 L401.38,90.6 L402.28,90.6 L403.19,90.6 L404.09,90.6 L405,90.6 L405,90.6 Z" fill="#d4dce8" fill-opacity="0.6"/>
<path d="M309.97,90.31 L310.88,90.19 L311.78,90.03 L312.69,89.83 L313.59,89.56 L314.5,89.22 L315.4,88.79 L316.31,88.26 L317.21,87.62 L318.12,86.86 L319.02,85.95 L319.93,84.91 L320.83,83.71 L321.74,82.37 L322.64,80.89 L323.55,79.28 L324.45,77.56 L325.36,75.74 L326.26,73.86 L327.17,71.93 L328.07,70 L328.98,68.08 L329.88,66.22 L330.79,64.43 L331.69,62.75 L332.6,61.18 L333.5,59.75 L334.41,58.46 L335.31,57.32 L336.22,56.33 L337.12,55.47 L338.03,54.75 L338.93,54.15 L339.84,53.66 L340.74,53.26 L341.65,52.94 L342.55,52.68 L343.46,52.48 L344.36,52.3 L345.27,52.16 L346.17,52.02 L347.08,51.89 L347.98,51.75 L348.89,51.62 L349.79,51.48 L350.7,51.36 L351.6,51.25 L352.51,51.18 L353.41,51.16 L354.32,51.19 L355.22,51.29 L356.13,51.46 L357.03,51.7 L357.94,52.01 L358.84,52.39 L359.75,52.84 L360.65,53.36 L361.56,53.95 L362.46,54.64 L363.37,55.42 L364.27,56.31 L365.18,57.32 L366.08,58.46 L366.99,59.73 L367.89,61.13 L368.8,62.65 L369.7,64.29 L370.61,66.02 L371.51,67.83 L372.42,69.68 L373.32,71.57 L374.23,73.44 L375.13,75.29 L376.04,77.08 L376.94,78.79 L377.85,80.39 L378.75,81.87 L379.66,83.23 L380.56,84.45 L381.47,85.52 L382.37,86.46 L383.28,87.27 L384.18,87.95 L385.09,88.52 L385.99,88.99 L386.9,89.37 L387.8,89.67 L388.71,89.91 L389.61,90.09 L390.52,90.23" stroke="#3b5b86" stroke-width="1.1" fill="none" stroke-linejoin="round"/>
<line x1="295.1" y1="90.6" x2="297.3" y2="90.6" stroke="#1c1c1c" stroke-width="0.9" />
<line x1="295.1" y1="76.57" x2="297.3" y2="76.57" stroke="#1c1c1c" stroke-width="0.9" />
<line x1="295.1" y1="62.55" x2="297.3" y2="62.55" stroke="#1c1c1c" stroke-width="0.9" />
<line x1="295.1" y1="48.53" x2="297.3" y2="48.53" stroke="#1c1c1c" stroke-width="0.9" />
<line x1="295.1" y1="34.5" x2="297.3" y2="34.5" stroke="#1c1c1c" stroke-width="0.9" />
<line x1="296" y1="83.59" x2="297.3" y2="83.59" stroke="#1c1c1c" stroke-width="0.8" />
<line x1="296" y1="69.56" x2="297.3" y2="69.56" stroke="#1c1c1c" stroke-width="0.8" />
<line x1="296" y1="55.54" x2="297.3" y2="55.54" stroke="#1c1c1c" stroke-width="0.8" />
<line x1="296" y1="41.51" x2="297.3" y2="41.51" stroke="#1c1c1c" stroke-width="0.8" />
<line x1="303.28" y1="90.6" x2="303.28" y2="92.8" stroke="#1c1c1c" stroke-width="0.9" />
<line x1="303.28" y1="34.5" x2="303.28" y2="36.3" stroke="#1c1c1c" stroke-width="0.9" />
<line x1="315.25" y1="90.6" x2="315.25" y2="92.8" stroke="#1c1c1c" stroke-width="0.9" />
<line x1="315.25" y1="34.5" x2="315.25" y2="36.3" stroke="#1c1c1c" stroke-width="0.9" />
<line x1="327.22" y1="90.6" x2="327.22" y2="92.8" stroke="#1c1c1c" stroke-width="0.9" />
<line x1="327.22" y1="34.5" x2="327.22" y2="36.3" stroke="#1c1c1c" stroke-width="0.9" />
<line x1="339.18" y1="90.6" x2="339.18" y2="92.8" stroke="#1c1c1c" stroke-width="0.9" />
<line x1="339.18" y1="34.5" x2="339.18" y2="36.3" stroke="#1c1c1c" stroke-width="0.9" />
<line x1="351.15" y1="90.6" x2="351.15" y2="92.8" stroke="#1c1c1c" stroke-width="0.9" />
<line x1="351.15" y1="34.5" x2="351.15" y2="36.3" stroke="#1c1c1c" stroke-width="0.9" />
<line x1="363.12" y1="90.6" x2="363.12" y2="92.8" stroke="#1c1c1c" stroke-width="0.9" />
<line x1="363.12" y1="34.5" x2="363.12" y2="36.3" stroke="#1c1c1c" stroke-width="0.9" />
<line x1="375.08" y1="90.6" x2="375.08" y2="92.8" stroke="#1c1c1c" stroke-width="0.9" />
<line x1="375.08" y1="34.5" x2="375.08" y2="36.3" stroke="#1c1c1c" stroke-width="0.9" />
<line x1="387.05" y1="90.6" x2="387.05" y2="92.8" stroke="#1c1c1c" stroke-width="0.9" />
<line x1="387.05" y1="34.5" x2="387.05" y2="36.3" stroke="#1c1c1c" stroke-width="0.9" />
<line x1="399.02" y1="90.6" x2="399.02" y2="92.8" stroke="#1c1c1c" stroke-width="0.9" />
<line x1="399.02" y1="34.5" x2="399.02" y2="36.3" stroke="#1c1c1c" stroke-width="0.9" />
<line x1="309.27" y1="90.6" x2="309.27" y2="91.9" stroke="#1c1c1c" stroke-width="0.8" />
<line x1="309.27" y1="34.5" x2="309.27" y2="35.6" stroke="#1c1c1c" stroke-width="0.8" />
<line x1="321.23" y1="90.6" x2="321.23" y2="91.9" stroke="#1c1c1c" stroke-width="0.8" />
<line x1="321.23" y1="34.5" x2="321.23" y2="35.6" stroke="#1c1c1c" stroke-width="0.8" />
<line x1="333.2" y1="90.6" x2="333.2" y2="91.9" stroke="#1c1c1c" stroke-width="0.8" />
<line x1="333.2" y1="34.5" x2="333.2" y2="35.6" stroke="#1c1c1c" stroke-width="0.8" />
<line x1="345.17" y1="90.6" x2="345.17" y2="91.9" stroke="#1c1c1c" stroke-width="0.8" />
<line x1="345.17" y1="34.5" x2="345.17" y2="35.6" stroke="#1c1c1c" stroke-width="0.8" />
<line x1="357.13" y1="90.6" x2="357.13" y2="91.9" stroke="#1c1c1c" stroke-width="0.8" />
<line x1="357.13" y1="34.5" x2="357.13" y2="35.6" stroke="#1c1c1c" stroke-width="0.8" />
<line x1="369.1" y1="90.6" x2="369.1" y2="91.9" stroke="#1c1c1c" stroke-width="0.8" />
<line x1="369.1" y1="34.5" x2="369.1" y2="35.6" stroke="#1c1c1c" stroke-width="0.8" />
<line x1="381.07" y1="90.6" x2="381.07" y2="91.9" stroke="#1c1c1c" stroke-width="0.8" />
<line x1="381.07" y1="34.5" x2="381.07" y2="35.6" stroke="#1c1c1c" stroke-width="0.8" />
<line x1="393.03" y1="90.6" x2="393.03" y2="91.9" stroke="#1c1c1c" stroke-width="0.8" />
<line x1="393.03" y1="34.5" x2="393.03" y2="35.6" stroke="#1c1c1c" stroke-width="0.8" />
<rect x="297.3" y="34.5" width="107.7" height="56.1" fill="none" stroke="#1c1c1c" stroke-width="1.15"/>
<text transform="translate(294.2,92.55) scale(1,0.74)" font-size="8.8" text-anchor="end" font-family="&quot;Liberation Serif&quot;, serif" fill="#1c1c1c" stroke="#1c1c1c" stroke-width="0.28">0.0</text>
<text transform="translate(294.2,78.52) scale(1,0.74)" font-size="8.8" text-anchor="end" font-family="&quot;Liberation Serif&quot;, serif" fill="#1c1c1c" stroke="#1c1c1c" stroke-width="0.28">0.1</text>
<text transform="translate(294.2,64.5) scale(1,0.74)" font-size="8.8" text-anchor="end" font-family="&quot;Liberation Serif&quot;, serif" fill="#1c1c1c" stroke="#1c1c1c" stroke-width="0.28">0.2</text>
<text transform="translate(294.2,50.48) scale(1,0.74)" font-size="8.8" text-anchor="end" font-family="&quot;Liberation Serif&quot;, serif" fill="#1c1c1c" stroke="#1c1c1c" stroke-width="0.28">0.3</text>
<text transform="translate(294.2,36.45) scale(1,0.74)" font-size="8.8" text-anchor="end" font-family="&quot;Liberation Serif&quot;, serif" fill="#1c1c1c" stroke="#1c1c1c" stroke-width="0.28">0.4</text>
<text transform="translate(303.28,100.4) scale(1,0.74)" font-size="8.8" text-anchor="middle" font-family="&quot;Liberation Serif&quot;, serif" fill="#1c1c1c" stroke="#1c1c1c" stroke-width="0.28">-4</text>
<text transform="translate(315.25,100.4) scale(1,0.74)" font-size="8.8" text-anchor="middle" font-family="&quot;Liberation Serif&quot;, serif" fill="#1c1c1c" stroke="#1c1c1c" stroke-width="0.28">-3</text>
<text transform="translate(327.22,100.4) scale(1,0.74)" font-size="8.8" text-anchor="middle" font-family="&quot;Liberation Serif&quot;, serif" fill="#1c1c1c" stroke="#1c1c1c" stroke-width="0.28">-2</text>
<text transform="translate(339.18,100.4) scale(1,0.74)" font-size="8.8" text-anchor="middle" font-family="&quot;Liberation Serif&quot;, serif" fill="#1c1c1c" stroke="#1c1c1c" stroke-width="0.28">-1</text>
<text transform="translate(351.15,100.4) scale(1,0.74)" font-size="8.8" text-anchor="middle" font-family="&quot;Liberation Serif&quot;, serif" fill="#1c1c1c" stroke="#1c1c1c" stroke-width="0.28">0</text>
<text transform="translate(363.12,100.4) scale(1,0.74)" font-size="8.8" text-anchor="middle" font-family="&quot;Liberation Serif&quot;, serif" fill="#1c1c1c" stroke="#1c1c1c" stroke-width="0.28">1</text>
<text transform="translate(375.08,100.4) scale(1,0.74)" font-size="8.8" text-anchor="middle" font-family="&quot;Liberation Serif&quot;, serif" fill="#1c1c1c" stroke="#1c1c1c" stroke-width="0.28">2</text>
<text transform="translate(387.05,100.4) scale(1,0.74)" font-size="8.8" text-anchor="middle" font-family="&quot;Liberation Serif&quot;, serif" fill="#1c1c1c" stroke="#1c1c1c" stroke-width="0.28">3</text>
<text transform="translate(399.02,100.4) scale(1,0.74)" font-size="8.8" text-anchor="middle" font-family="&quot;Liberation Serif&quot;, serif" fill="#1c1c1c" stroke="#1c1c1c" stroke-width="0.28">4</text>
<text transform="translate(347.3,107.9)" font-size="8.3" text-anchor="middle" font-family="&quot;Liberation Serif&quot;, serif" fill="#1c1c1c"  stroke="#1c1c1c" stroke-width="0.20">Standardized value (<tspan font-style="italic">r</tspan>)</text>
<text transform="translate(299.5,43.2) scale(1,0.88)" font-size="6.75" font-family="&quot;Liberation Serif&quot;, serif" fill="#1c1c1c" stroke="#1c1c1c" stroke-width="0.12">x=0.15, PDF=0.28</text>
<rect x="431.6" y="34.5" width="108" height="56.1" fill="#f0f0f0" />
<line x1="447.69" y1="34.5" x2="447.69" y2="90.6" stroke="#e0e0e0" stroke-width="0.6" stroke-dasharray="1.6 1"/>
<line x1="463" y1="34.5" x2="463" y2="90.6" stroke="#e0e0e0" stroke-width="0.6" stroke-dasharray="1.6 1"/>
<line x1="478.32" y1="34.5" x2="478.32" y2="90.6" stroke="#e0e0e0" stroke-width="0.6" stroke-dasharray="1.6 1"/>
<line x1="493.64" y1="34.5" x2="493.64" y2="90.6" stroke="#e0e0e0" stroke-width="0.6" stroke-dasharray="1.6 1"/>
<line x1="508.96" y1="34.5" x2="508.96" y2="90.6" stroke="#e0e0e0" stroke-width="0.6" stroke-dasharray="1.6 1"/>
<line x1="524.28" y1="34.5" x2="524.28" y2="90.6" stroke="#e0e0e0" stroke-width="0.6" stroke-dasharray="1.6 1"/>
<line x1="431.6" y1="84.37" x2="539.6" y2="84.37" stroke="#e0e0e0" stroke-width="0.6" stroke-dasharray="1.6 1"/>
<line x1="431.6" y1="71.9" x2="539.6" y2="71.9" stroke="#e0e0e0" stroke-width="0.6" stroke-dasharray="1.6 1"/>
<line x1="431.6" y1="59.43" x2="539.6" y2="59.43" stroke="#e0e0e0" stroke-width="0.6" stroke-dasharray="1.6 1"/>
<line x1="431.6" y1="46.97" x2="539.6" y2="46.97" stroke="#e0e0e0" stroke-width="0.6" stroke-dasharray="1.6 1"/>
<line x1="440.03" y1="34.5" x2="440.03" y2="90.6" stroke="#dcdcdc" stroke-width="0.7" />
<line x1="455.34" y1="34.5" x2="455.34" y2="90.6" stroke="#dcdcdc" stroke-width="0.7" />
<line x1="470.66" y1="34.5" x2="470.66" y2="90.6" stroke="#dcdcdc" stroke-width="0.7" />
<line x1="485.98" y1="34.5" x2="485.98" y2="90.6" stroke="#dcdcdc" stroke-width="0.7" />
<line x1="501.3" y1="34.5" x2="501.3" y2="90.6" stroke="#dcdcdc" stroke-width="0.7" />
<line x1="516.62" y1="34.5" x2="516.62" y2="90.6" stroke="#dcdcdc" stroke-width="0.7" />
<line x1="531.94" y1="34.5" x2="531.94" y2="90.6" stroke="#dcdcdc" stroke-width="0.7" />
<line x1="431.6" y1="90.6" x2="539.6" y2="90.6" stroke="#dcdcdc" stroke-width="0.7" />
<line x1="431.6" y1="78.13" x2="539.6" y2="78.13" stroke="#dcdcdc" stroke-width="0.7" />
<line x1="431.6" y1="65.67" x2="539.6" y2="65.67" stroke="#dcdcdc" stroke-width="0.7" />
<line x1="431.6" y1="53.2" x2="539.6" y2="53.2" stroke="#dcdcdc" stroke-width="0.7" />
<line x1="431.6" y1="40.73" x2="539.6" y2="40.73" stroke="#dcdcdc" stroke-width="0.7" />
<path d="M431.6,90.6 L431.6,90.6 L432.51,90.59 L433.42,90.59 L434.32,90.58 L435.23,90.58 L436.14,90.56 L437.05,90.54 L437.95,90.51 L438.86,90.47 L439.77,90.41 L440.68,90.33 L441.58,90.21 L442.49,90.05 L443.4,89.84 L444.31,89.56 L445.21,89.2 L446.12,88.74 L447.03,88.15 L447.94,87.42 L448.84,86.54 L449.75,85.48 L450.66,84.22 L451.57,82.77 L452.47,81.12 L453.38,79.28 L454.29,77.25 L455.2,75.08 L456.1,72.8 L457.01,70.46 L457.92,68.12 L458.83,65.84 L459.73,63.68 L460.64,61.73 L461.55,60.05 L462.46,58.68 L463.36,57.68 L464.27,57.08 L465.18,56.88 L466.09,57.09 L466.99,57.67 L467.9,58.59 L468.81,59.8 L469.72,61.24 L470.63,62.85 L471.53,64.56 L472.44,66.31 L473.35,68.03 L474.26,69.61 L475.16,70.96 L476.07,71.97 L476.98,72.52 L477.89,72.55 L478.79,72.03 L479.7,70.99 L480.61,69.5 L481.52,67.67 L482.42,65.59 L483.33,63.34 L484.24,61.01 L485.15,58.63 L486.05,56.24 L486.96,53.88 L487.87,51.58 L488.78,49.39 L489.68,47.34 L490.59,45.49 L491.5,43.87 L492.41,42.52 L493.31,41.46 L494.22,40.73 L495.13,40.35 L496.04,40.31 L496.94,40.63 L497.85,41.3 L498.76,42.3 L499.67,43.62 L500.57,45.22 L501.48,47.08 L502.39,49.16 L503.3,51.42 L504.21,53.81 L505.11,56.31 L506.02,58.86 L506.93,61.43 L507.84,63.98 L508.74,66.48 L509.65,68.9 L510.56,71.21 L511.47,73.4 L512.37,75.45 L513.28,77.35 L514.19,79.1 L515.1,80.68 L516,82.11 L516.91,83.38 L517.82,84.51 L518.73,85.5 L519.63,86.35 L520.54,87.09 L521.45,87.72 L522.36,88.26 L523.26,88.7 L524.17,89.08 L525.08,89.39 L525.99,89.64 L526.89,89.84 L527.8,90.01 L528.71,90.14 L529.62,90.25 L530.52,90.33 L531.43,90.4 L532.34,90.45 L533.25,90.49 L534.15,90.51 L535.06,90.54 L535.97,90.55 L536.88,90.57 L537.78,90.58 L538.69,90.58 L539.6,90.59 L539.6,90.6 Z" fill="#c3e4eb" fill-opacity="0.6"/>
<path d="M440.68,90.33 L441.58,90.21 L442.49,90.05 L443.4,89.84 L444.31,89.56 L445.21,89.2 L446.12,88.74 L447.03,88.15 L447.94,87.42 L448.84,86.54 L449.75,85.48 L450.66,84.22 L451.57,82.77 L452.47,81.12 L453.38,79.28 L454.29,77.25 L455.2,75.08 L456.1,72.8 L457.01,70.46 L457.92,68.12 L458.83,65.84 L459.73,63.68 L460.64,61.73 L461.55,60.05 L462.46,58.68 L463.36,57.68 L464.27,57.08 L465.18,56.88 L466.09,57.09 L466.99,57.67 L467.9,58.59 L468.81,59.8 L469.72,61.24 L470.63,62.85 L471.53,64.56 L472.44,66.31 L473.35,68.03 L474.26,69.61 L475.16,70.96 L476.07,71.97 L476.98,72.52 L477.89,72.55 L478.79,72.03 L479.7,70.99 L480.61,69.5 L481.52,67.67 L482.42,65.59 L483.33,63.34 L484.24,61.01 L485.15,58.63 L486.05,56.24 L486.96,53.88 L487.87,51.58 L488.78,49.39 L489.68,47.34 L490.59,45.49 L491.5,43.87 L492.41,42.52 L493.31,41.46 L494.22,40.73 L495.13,40.35 L496.04,40.31 L496.94,40.63 L497.85,41.3 L498.76,42.3 L499.67,43.62 L500.57,45.22 L501.48,47.08 L502.39,49.16 L503.3,51.42 L504.21,53.81 L505.11,56.31 L506.02,58.86 L506.93,61.43 L507.84,63.98 L508.74,66.48 L509.65,68.9 L510.56,71.21 L511.47,73.4 L512.37,75.45 L513.28,77.35 L514.19,79.1 L515.1,80.68 L516,82.11 L516.91,83.38 L517.82,84.51 L518.73,85.5 L519.63,86.35 L520.54,87.09 L521.45,87.72 L522.36,88.26 L523.26,88.7 L524.17,89.08 L525.08,89.39 L525.99,89.64 L526.89,89.84 L527.8,90.01 L528.71,90.14 L529.62,90.25 L530.52,90.33" stroke="#2a9aa6" stroke-width="1.1" fill="none" stroke-linejoin="round"/>
<line x1="429.4" y1="90.6" x2="431.6" y2="90.6" stroke="#1c1c1c" stroke-width="0.9" />
<line x1="429.4" y1="78.13" x2="431.6" y2="78.13" stroke="#1c1c1c" stroke-width="0.9" />
<line x1="429.4" y1="65.67" x2="431.6" y2="65.67" stroke="#1c1c1c" stroke-width="0.9" />
<line x1="429.4" y1="53.2" x2="431.6" y2="53.2" stroke="#1c1c1c" stroke-width="0.9" />
<line x1="429.4" y1="40.73" x2="431.6" y2="40.73" stroke="#1c1c1c" stroke-width="0.9" />
<line x1="430.3" y1="84.37" x2="431.6" y2="84.37" stroke="#1c1c1c" stroke-width="0.8" />
<line x1="430.3" y1="71.9" x2="431.6" y2="71.9" stroke="#1c1c1c" stroke-width="0.8" />
<line x1="430.3" y1="59.43" x2="431.6" y2="59.43" stroke="#1c1c1c" stroke-width="0.8" />
<line x1="430.3" y1="46.97" x2="431.6" y2="46.97" stroke="#1c1c1c" stroke-width="0.8" />
<line x1="440.03" y1="90.6" x2="440.03" y2="92.8" stroke="#1c1c1c" stroke-width="0.9" />
<line x1="440.03" y1="34.5" x2="440.03" y2="36.3" stroke="#1c1c1c" stroke-width="0.9" />
<line x1="455.34" y1="90.6" x2="455.34" y2="92.8" stroke="#1c1c1c" stroke-width="0.9" />
<line x1="455.34" y1="34.5" x2="455.34" y2="36.3" stroke="#1c1c1c" stroke-width="0.9" />
<line x1="470.66" y1="90.6" x2="470.66" y2="92.8" stroke="#1c1c1c" stroke-width="0.9" />
<line x1="470.66" y1="34.5" x2="470.66" y2="36.3" stroke="#1c1c1c" stroke-width="0.9" />
<line x1="485.98" y1="90.6" x2="485.98" y2="92.8" stroke="#1c1c1c" stroke-width="0.9" />
<line x1="485.98" y1="34.5" x2="485.98" y2="36.3" stroke="#1c1c1c" stroke-width="0.9" />
<line x1="501.3" y1="90.6" x2="501.3" y2="92.8" stroke="#1c1c1c" stroke-width="0.9" />
<line x1="501.3" y1="34.5" x2="501.3" y2="36.3" stroke="#1c1c1c" stroke-width="0.9" />
<line x1="516.62" y1="90.6" x2="516.62" y2="92.8" stroke="#1c1c1c" stroke-width="0.9" />
<line x1="516.62" y1="34.5" x2="516.62" y2="36.3" stroke="#1c1c1c" stroke-width="0.9" />
<line x1="531.94" y1="90.6" x2="531.94" y2="92.8" stroke="#1c1c1c" stroke-width="0.9" />
<line x1="531.94" y1="34.5" x2="531.94" y2="36.3" stroke="#1c1c1c" stroke-width="0.9" />
<line x1="447.69" y1="90.6" x2="447.69" y2="91.9" stroke="#1c1c1c" stroke-width="0.8" />
<line x1="447.69" y1="34.5" x2="447.69" y2="35.6" stroke="#1c1c1c" stroke-width="0.8" />
<line x1="463" y1="90.6" x2="463" y2="91.9" stroke="#1c1c1c" stroke-width="0.8" />
<line x1="463" y1="34.5" x2="463" y2="35.6" stroke="#1c1c1c" stroke-width="0.8" />
<line x1="478.32" y1="90.6" x2="478.32" y2="91.9" stroke="#1c1c1c" stroke-width="0.8" />
<line x1="478.32" y1="34.5" x2="478.32" y2="35.6" stroke="#1c1c1c" stroke-width="0.8" />
<line x1="493.64" y1="90.6" x2="493.64" y2="91.9" stroke="#1c1c1c" stroke-width="0.8" />
<line x1="493.64" y1="34.5" x2="493.64" y2="35.6" stroke="#1c1c1c" stroke-width="0.8" />
<line x1="508.96" y1="90.6" x2="508.96" y2="91.9" stroke="#1c1c1c" stroke-width="0.8" />
<line x1="508.96" y1="34.5" x2="508.96" y2="35.6" stroke="#1c1c1c" stroke-width="0.8" />
<line x1="524.28" y1="90.6" x2="524.28" y2="91.9" stroke="#1c1c1c" stroke-width="0.8" />
<line x1="524.28" y1="34.5" x2="524.28" y2="35.6" stroke="#1c1c1c" stroke-width="0.8" />
<rect x="431.6" y="34.5" width="108" height="56.1" fill="none" stroke="#1c1c1c" stroke-width="1.15"/>
<text transform="translate(428.5,92.55) scale(1,0.74)" font-size="8.8" text-anchor="end" font-family="&quot;Liberation Serif&quot;, serif" fill="#1c1c1c" stroke="#1c1c1c" stroke-width="0.28">0.0</text>
<text transform="translate(428.5,80.08) scale(1,0.74)" font-size="8.8" text-anchor="end" font-family="&quot;Liberation Serif&quot;, serif" fill="#1c1c1c" stroke="#1c1c1c" stroke-width="0.28">0.1</text>
<text transform="translate(428.5,67.62) scale(1,0.74)" font-size="8.8" text-anchor="end" font-family="&quot;Liberation Serif&quot;, serif" fill="#1c1c1c" stroke="#1c1c1c" stroke-width="0.28">0.2</text>
<text transform="translate(428.5,55.15) scale(1,0.74)" font-size="8.8" text-anchor="end" font-family="&quot;Liberation Serif&quot;, serif" fill="#1c1c1c" stroke="#1c1c1c" stroke-width="0.28">0.3</text>
<text transform="translate(428.5,42.68) scale(1,0.74)" font-size="8.8" text-anchor="end" font-family="&quot;Liberation Serif&quot;, serif" fill="#1c1c1c" stroke="#1c1c1c" stroke-width="0.28">0.4</text>
<text transform="translate(440.03,100.4) scale(1,0.74)" font-size="8.8" text-anchor="middle" font-family="&quot;Liberation Serif&quot;, serif" fill="#1c1c1c" stroke="#1c1c1c" stroke-width="0.28">-3</text>
<text transform="translate(455.34,100.4) scale(1,0.74)" font-size="8.8" text-anchor="middle" font-family="&quot;Liberation Serif&quot;, serif" fill="#1c1c1c" stroke="#1c1c1c" stroke-width="0.28">-2</text>
<text transform="translate(470.66,100.4) scale(1,0.74)" font-size="8.8" text-anchor="middle" font-family="&quot;Liberation Serif&quot;, serif" fill="#1c1c1c" stroke="#1c1c1c" stroke-width="0.28">-1</text>
<text transform="translate(485.98,100.4) scale(1,0.74)" font-size="8.8" text-anchor="middle" font-family="&quot;Liberation Serif&quot;, serif" fill="#1c1c1c" stroke="#1c1c1c" stroke-width="0.28">0</text>
<text transform="translate(501.3,100.4) scale(1,0.74)" font-size="8.8" text-anchor="middle" font-family="&quot;Liberation Serif&quot;, serif" fill="#1c1c1c" stroke="#1c1c1c" stroke-width="0.28">1</text>
<text transform="translate(516.62,100.4) scale(1,0.74)" font-size="8.8" text-anchor="middle" font-family="&quot;Liberation Serif&quot;, serif" fill="#1c1c1c" stroke="#1c1c1c" stroke-width="0.28">2</text>
<text transform="translate(531.94,100.4) scale(1,0.74)" font-size="8.8" text-anchor="middle" font-family="&quot;Liberation Serif&quot;, serif" fill="#1c1c1c" stroke="#1c1c1c" stroke-width="0.28">3</text>
<text transform="translate(481.4,107.9)" font-size="8.3" text-anchor="middle" font-family="&quot;Liberation Serif&quot;, serif" fill="#1c1c1c"  stroke="#1c1c1c" stroke-width="0.20">Standardized value (<tspan font-style="italic">v</tspan>)</text>
<text transform="translate(433.8,44.7) scale(1,0.88)" font-size="6.75" font-family="&quot;Liberation Serif&quot;, serif" fill="#1c1c1c" stroke="#1c1c1c" stroke-width="0.12">x=0.64, PDF=0.40</text>
<rect x="566.3" y="34.5" width="107.9" height="56.1" fill="#f0f0f0" />
<line x1="578.29" y1="34.5" x2="578.29" y2="90.6" stroke="#e0e0e0" stroke-width="0.6" stroke-dasharray="1.6 1"/>
<line x1="590.28" y1="34.5" x2="590.28" y2="90.6" stroke="#e0e0e0" stroke-width="0.6" stroke-dasharray="1.6 1"/>
<line x1="602.27" y1="34.5" x2="602.27" y2="90.6" stroke="#e0e0e0" stroke-width="0.6" stroke-dasharray="1.6 1"/>
<line x1="614.26" y1="34.5" x2="614.26" y2="90.6" stroke="#e0e0e0" stroke-width="0.6" stroke-dasharray="1.6 1"/>
<line x1="626.24" y1="34.5" x2="626.24" y2="90.6" stroke="#e0e0e0" stroke-width="0.6" stroke-dasharray="1.6 1"/>
<line x1="638.23" y1="34.5" x2="638.23" y2="90.6" stroke="#e0e0e0" stroke-width="0.6" stroke-dasharray="1.6 1"/>
<line x1="650.22" y1="34.5" x2="650.22" y2="90.6" stroke="#e0e0e0" stroke-width="0.6" stroke-dasharray="1.6 1"/>
<line x1="662.21" y1="34.5" x2="662.21" y2="90.6" stroke="#e0e0e0" stroke-width="0.6" stroke-dasharray="1.6 1"/>
<line x1="566.3" y1="83.59" x2="674.2" y2="83.59" stroke="#e0e0e0" stroke-width="0.6" stroke-dasharray="1.6 1"/>
<line x1="566.3" y1="69.56" x2="674.2" y2="69.56" stroke="#e0e0e0" stroke-width="0.6" stroke-dasharray="1.6 1"/>
<line x1="566.3" y1="55.54" x2="674.2" y2="55.54" stroke="#e0e0e0" stroke-width="0.6" stroke-dasharray="1.6 1"/>
<line x1="566.3" y1="41.51" x2="674.2" y2="41.51" stroke="#e0e0e0" stroke-width="0.6" stroke-dasharray="1.6 1"/>
<line x1="572.29" y1="34.5" x2="572.29" y2="90.6" stroke="#dcdcdc" stroke-width="0.7" />
<line x1="584.28" y1="34.5" x2="584.28" y2="90.6" stroke="#dcdcdc" stroke-width="0.7" />
<line x1="596.27" y1="34.5" x2="596.27" y2="90.6" stroke="#dcdcdc" stroke-width="0.7" />
<line x1="608.26" y1="34.5" x2="608.26" y2="90.6" stroke="#dcdcdc" stroke-width="0.7" />
<line x1="620.25" y1="34.5" x2="620.25" y2="90.6" stroke="#dcdcdc" stroke-width="0.7" />
<line x1="632.24" y1="34.5" x2="632.24" y2="90.6" stroke="#dcdcdc" stroke-width="0.7" />
<line x1="644.23" y1="34.5" x2="644.23" y2="90.6" stroke="#dcdcdc" stroke-width="0.7" />
<line x1="656.22" y1="34.5" x2="656.22" y2="90.6" stroke="#dcdcdc" stroke-width="0.7" />
<line x1="668.21" y1="34.5" x2="668.21" y2="90.6" stroke="#dcdcdc" stroke-width="0.7" />
<line x1="566.3" y1="90.6" x2="674.2" y2="90.6" stroke="#dcdcdc" stroke-width="0.7" />
<line x1="566.3" y1="76.57" x2="674.2" y2="76.57" stroke="#dcdcdc" stroke-width="0.7" />
<line x1="566.3" y1="62.55" x2="674.2" y2="62.55" stroke="#dcdcdc" stroke-width="0.7" />
<line x1="566.3" y1="48.53" x2="674.2" y2="48.53" stroke="#dcdcdc" stroke-width="0.7" />
<line x1="566.3" y1="34.5" x2="674.2" y2="34.5" stroke="#dcdcdc" stroke-width="0.7" />
<path d="M566.3,90.6 L566.3,90.6 L567.21,90.6 L568.11,90.6 L569.02,90.6 L569.93,90.6 L570.83,90.6 L571.74,90.59 L572.65,90.59 L573.55,90.58 L574.46,90.57 L575.37,90.56 L576.27,90.54 L577.18,90.5 L578.09,90.46 L578.99,90.39 L579.9,90.3 L580.81,90.17 L581.71,90 L582.62,89.78 L583.53,89.49 L584.43,89.12 L585.34,88.65 L586.25,88.08 L587.15,87.38 L588.06,86.55 L588.97,85.57 L589.87,84.44 L590.78,83.16 L591.69,81.73 L592.59,80.16 L593.5,78.47 L594.41,76.68 L595.32,74.8 L596.22,72.88 L597.13,70.95 L598.04,69.03 L598.94,67.15 L599.85,65.35 L600.76,63.66 L601.66,62.09 L602.57,60.65 L603.48,59.37 L604.38,58.23 L605.29,57.24 L606.2,56.39 L607.1,55.67 L608.01,55.06 L608.92,54.56 L609.82,54.13 L610.73,53.77 L611.64,53.46 L612.54,53.19 L613.45,52.93 L614.36,52.69 L615.26,52.46 L616.17,52.24 L617.08,52.02 L617.98,51.81 L618.89,51.62 L619.8,51.45 L620.7,51.32 L621.61,51.23 L622.52,51.19 L623.42,51.21 L624.33,51.3 L625.24,51.44 L626.14,51.66 L627.05,51.94 L627.96,52.29 L628.86,52.72 L629.77,53.21 L630.68,53.79 L631.58,54.46 L632.49,55.22 L633.4,56.09 L634.3,57.08 L635.21,58.19 L636.12,59.44 L637.02,60.82 L637.93,62.34 L638.84,63.98 L639.74,65.73 L640.65,67.57 L641.56,69.48 L642.46,71.42 L643.37,73.37 L644.28,75.29 L645.18,77.15 L646.09,78.93 L647,80.6 L647.91,82.14 L648.81,83.53 L649.72,84.77 L650.63,85.86 L651.53,86.8 L652.44,87.6 L653.35,88.26 L654.25,88.8 L655.16,89.24 L656.07,89.58 L656.97,89.85 L657.88,90.06 L658.79,90.21 L659.69,90.33 L660.6,90.41 L661.51,90.47 L662.41,90.51 L663.32,90.54 L664.23,90.56 L665.13,90.58 L666.04,90.59 L666.95,90.59 L667.85,90.59 L668.76,90.6 L669.67,90.6 L670.57,90.6 L671.48,90.6 L672.39,90.6 L673.29,90.6 L674.2,90.6 L674.2,90.6 Z" fill="#cbe4d2" fill-opacity="0.6"/>
<path d="M579.9,90.3 L580.81,90.17 L581.71,90 L582.62,89.78 L583.53,89.49 L584.43,89.12 L585.34,88.65 L586.25,88.08 L587.15,87.38 L588.06,86.55 L588.97,85.57 L589.87,84.44 L590.78,83.16 L591.69,81.73 L592.59,80.16 L593.5,78.47 L594.41,76.68 L595.32,74.8 L596.22,72.88 L597.13,70.95 L598.04,69.03 L598.94,67.15 L599.85,65.35 L600.76,63.66 L601.66,62.09 L602.57,60.65 L603.48,59.37 L604.38,58.23 L605.29,57.24 L606.2,56.39 L607.1,55.67 L608.01,55.06 L608.92,54.56 L609.82,54.13 L610.73,53.77 L611.64,53.46 L612.54,53.19 L613.45,52.93 L614.36,52.69 L615.26,52.46 L616.17,52.24 L617.08,52.02 L617.98,51.81 L618.89,51.62 L619.8,51.45 L620.7,51.32 L621.61,51.23 L622.52,51.19 L623.42,51.21 L624.33,51.3 L625.24,51.44 L626.14,51.66 L627.05,51.94 L627.96,52.29 L628.86,52.72 L629.77,53.21 L630.68,53.79 L631.58,54.46 L632.49,55.22 L633.4,56.09 L634.3,57.08 L635.21,58.19 L636.12,59.44 L637.02,60.82 L637.93,62.34 L638.84,63.98 L639.74,65.73 L640.65,67.57 L641.56,69.48 L642.46,71.42 L643.37,73.37 L644.28,75.29 L645.18,77.15 L646.09,78.93 L647,80.6 L647.91,82.14 L648.81,83.53 L649.72,84.77 L650.63,85.86 L651.53,86.8 L652.44,87.6 L653.35,88.26 L654.25,88.8 L655.16,89.24 L656.07,89.58 L656.97,89.85 L657.88,90.06 L658.79,90.21" stroke="#4cc26e" stroke-width="1.1" fill="none" stroke-linejoin="round"/>
<line x1="564.1" y1="90.6" x2="566.3" y2="90.6" stroke="#1c1c1c" stroke-width="0.9" />
<line x1="564.1" y1="76.57" x2="566.3" y2="76.57" stroke="#1c1c1c" stroke-width="0.9" />
<line x1="564.1" y1="62.55" x2="566.3" y2="62.55" stroke="#1c1c1c" stroke-width="0.9" />
<line x1="564.1" y1="48.53" x2="566.3" y2="48.53" stroke="#1c1c1c" stroke-width="0.9" />
<line x1="564.1" y1="34.5" x2="566.3" y2="34.5" stroke="#1c1c1c" stroke-width="0.9" />
<line x1="565" y1="83.59" x2="566.3" y2="83.59" stroke="#1c1c1c" stroke-width="0.8" />
<line x1="565" y1="69.56" x2="566.3" y2="69.56" stroke="#1c1c1c" stroke-width="0.8" />
<line x1="565" y1="55.54" x2="566.3" y2="55.54" stroke="#1c1c1c" stroke-width="0.8" />
<line x1="565" y1="41.51" x2="566.3" y2="41.51" stroke="#1c1c1c" stroke-width="0.8" />
<line x1="572.29" y1="90.6" x2="572.29" y2="92.8" stroke="#1c1c1c" stroke-width="0.9" />
<line x1="572.29" y1="34.5" x2="572.29" y2="36.3" stroke="#1c1c1c" stroke-width="0.9" />
<line x1="584.28" y1="90.6" x2="584.28" y2="92.8" stroke="#1c1c1c" stroke-width="0.9" />
<line x1="584.28" y1="34.5" x2="584.28" y2="36.3" stroke="#1c1c1c" stroke-width="0.9" />
<line x1="596.27" y1="90.6" x2="596.27" y2="92.8" stroke="#1c1c1c" stroke-width="0.9" />
<line x1="596.27" y1="34.5" x2="596.27" y2="36.3" stroke="#1c1c1c" stroke-width="0.9" />
<line x1="608.26" y1="90.6" x2="608.26" y2="92.8" stroke="#1c1c1c" stroke-width="0.9" />
<line x1="608.26" y1="34.5" x2="608.26" y2="36.3" stroke="#1c1c1c" stroke-width="0.9" />
<line x1="620.25" y1="90.6" x2="620.25" y2="92.8" stroke="#1c1c1c" stroke-width="0.9" />
<line x1="620.25" y1="34.5" x2="620.25" y2="36.3" stroke="#1c1c1c" stroke-width="0.9" />
<line x1="632.24" y1="90.6" x2="632.24" y2="92.8" stroke="#1c1c1c" stroke-width="0.9" />
<line x1="632.24" y1="34.5" x2="632.24" y2="36.3" stroke="#1c1c1c" stroke-width="0.9" />
<line x1="644.23" y1="90.6" x2="644.23" y2="92.8" stroke="#1c1c1c" stroke-width="0.9" />
<line x1="644.23" y1="34.5" x2="644.23" y2="36.3" stroke="#1c1c1c" stroke-width="0.9" />
<line x1="656.22" y1="90.6" x2="656.22" y2="92.8" stroke="#1c1c1c" stroke-width="0.9" />
<line x1="656.22" y1="34.5" x2="656.22" y2="36.3" stroke="#1c1c1c" stroke-width="0.9" />
<line x1="668.21" y1="90.6" x2="668.21" y2="92.8" stroke="#1c1c1c" stroke-width="0.9" />
<line x1="668.21" y1="34.5" x2="668.21" y2="36.3" stroke="#1c1c1c" stroke-width="0.9" />
<line x1="578.29" y1="90.6" x2="578.29" y2="91.9" stroke="#1c1c1c" stroke-width="0.8" />
<line x1="578.29" y1="34.5" x2="578.29" y2="35.6" stroke="#1c1c1c" stroke-width="0.8" />
<line x1="590.28" y1="90.6" x2="590.28" y2="91.9" stroke="#1c1c1c" stroke-width="0.8" />
<line x1="590.28" y1="34.5" x2="590.28" y2="35.6" stroke="#1c1c1c" stroke-width="0.8" />
<line x1="602.27" y1="90.6" x2="602.27" y2="91.9" stroke="#1c1c1c" stroke-width="0.8" />
<line x1="602.27" y1="34.5" x2="602.27" y2="35.6" stroke="#1c1c1c" stroke-width="0.8" />
<line x1="614.26" y1="90.6" x2="614.26" y2="91.9" stroke="#1c1c1c" stroke-width="0.8" />
<line x1="614.26" y1="34.5" x2="614.26" y2="35.6" stroke="#1c1c1c" stroke-width="0.8" />
<line x1="626.24" y1="90.6" x2="626.24" y2="91.9" stroke="#1c1c1c" stroke-width="0.8" />
<line x1="626.24" y1="34.5" x2="626.24" y2="35.6" stroke="#1c1c1c" stroke-width="0.8" />
<line x1="638.23" y1="90.6" x2="638.23" y2="91.9" stroke="#1c1c1c" stroke-width="0.8" />
<line x1="638.23" y1="34.5" x2="638.23" y2="35.6" stroke="#1c1c1c" stroke-width="0.8" />
<line x1="650.22" y1="90.6" x2="650.22" y2="91.9" stroke="#1c1c1c" stroke-width="0.8" />
<line x1="650.22" y1="34.5" x2="650.22" y2="35.6" stroke="#1c1c1c" stroke-width="0.8" />
<line x1="662.21" y1="90.6" x2="662.21" y2="91.9" stroke="#1c1c1c" stroke-width="0.8" />
<line x1="662.21" y1="34.5" x2="662.21" y2="35.6" stroke="#1c1c1c" stroke-width="0.8" />
<rect x="566.3" y="34.5" width="107.9" height="56.1" fill="none" stroke="#1c1c1c" stroke-width="1.15"/>
<text transform="translate(563.2,92.55) scale(1,0.74)" font-size="8.8" text-anchor="end" font-family="&quot;Liberation Serif&quot;, serif" fill="#1c1c1c" stroke="#1c1c1c" stroke-width="0.28">0.0</text>
<text transform="translate(563.2,78.52) scale(1,0.74)" font-size="8.8" text-anchor="end" font-family="&quot;Liberation Serif&quot;, serif" fill="#1c1c1c" stroke="#1c1c1c" stroke-width="0.28">0.1</text>
<text transform="translate(563.2,64.5) scale(1,0.74)" font-size="8.8" text-anchor="end" font-family="&quot;Liberation Serif&quot;, serif" fill="#1c1c1c" stroke="#1c1c1c" stroke-width="0.28">0.2</text>
<text transform="translate(563.2,50.48) scale(1,0.74)" font-size="8.8" text-anchor="end" font-family="&quot;Liberation Serif&quot;, serif" fill="#1c1c1c" stroke="#1c1c1c" stroke-width="0.28">0.3</text>
<text transform="translate(563.2,36.45) scale(1,0.74)" font-size="8.8" text-anchor="end" font-family="&quot;Liberation Serif&quot;, serif" fill="#1c1c1c" stroke="#1c1c1c" stroke-width="0.28">0.4</text>
<text transform="translate(572.29,100.4) scale(1,0.74)" font-size="8.8" text-anchor="middle" font-family="&quot;Liberation Serif&quot;, serif" fill="#1c1c1c" stroke="#1c1c1c" stroke-width="0.28">-4</text>
<text transform="translate(584.28,100.4) scale(1,0.74)" font-size="8.8" text-anchor="middle" font-family="&quot;Liberation Serif&quot;, serif" fill="#1c1c1c" stroke="#1c1c1c" stroke-width="0.28">-3</text>
<text transform="translate(596.27,100.4) scale(1,0.74)" font-size="8.8" text-anchor="middle" font-family="&quot;Liberation Serif&quot;, serif" fill="#1c1c1c" stroke="#1c1c1c" stroke-width="0.28">-2</text>
<text transform="translate(608.26,100.4) scale(1,0.74)" font-size="8.8" text-anchor="middle" font-family="&quot;Liberation Serif&quot;, serif" fill="#1c1c1c" stroke="#1c1c1c" stroke-width="0.28">-1</text>
<text transform="translate(620.25,100.4) scale(1,0.74)" font-size="8.8" text-anchor="middle" font-family="&quot;Liberation Serif&quot;, serif" fill="#1c1c1c" stroke="#1c1c1c" stroke-width="0.28">0</text>
<text transform="translate(632.24,100.4) scale(1,0.74)" font-size="8.8" text-anchor="middle" font-family="&quot;Liberation Serif&quot;, serif" fill="#1c1c1c" stroke="#1c1c1c" stroke-width="0.28">1</text>
<text transform="translate(644.23,100.4) scale(1,0.74)" font-size="8.8" text-anchor="middle" font-family="&quot;Liberation Serif&quot;, serif" fill="#1c1c1c" stroke="#1c1c1c" stroke-width="0.28">2</text>
<text transform="translate(656.22,100.4) scale(1,0.74)" font-size="8.8" text-anchor="middle" font-family="&quot;Liberation Serif&quot;, serif" fill="#1c1c1c" stroke="#1c1c1c" stroke-width="0.28">3</text>
<text transform="translate(668.21,100.4) scale(1,0.74)" font-size="8.8" text-anchor="middle" font-family="&quot;Liberation Serif&quot;, serif" fill="#1c1c1c" stroke="#1c1c1c" stroke-width="0.28">4</text>
<text transform="translate(617,107.9)" font-size="8.3" text-anchor="middle" font-family="&quot;Liberation Serif&quot;, serif" fill="#1c1c1c"  stroke="#1c1c1c" stroke-width="0.20">Standardized value (<tspan font-style="italic">m</tspan>)</text>
<text transform="translate(568.6,43.3) scale(1,0.88)" font-size="6.75" font-family="&quot;Liberation Serif&quot;, serif" fill="#1c1c1c" stroke="#1c1c1c" stroke-width="0.12">x=0.28, PDF=0.28</text>
<text transform="translate(11.6,62) rotate(-90)" font-size="8.1" text-anchor="middle" font-family="&quot;Liberation Serif&quot;, serif" fill="#1c1c1c"  stroke="#1c1c1c" stroke-width="0.19">PDF</text>
<rect x="28.3" y="121.4" width="107.2" height="56.7" fill="#f0f0f0" />
<line x1="39.02" y1="121.4" x2="39.02" y2="178.1" stroke="#e0e0e0" stroke-width="0.6" stroke-dasharray="1.6 1"/>
<line x1="60.46" y1="121.4" x2="60.46" y2="178.1" stroke="#e0e0e0" stroke-width="0.6" stroke-dasharray="1.6 1"/>
<line x1="81.9" y1="121.4" x2="81.9" y2="178.1" stroke="#e0e0e0" stroke-width="0.6" stroke-dasharray="1.6 1"/>
<line x1="103.34" y1="121.4" x2="103.34" y2="178.1" stroke="#e0e0e0" stroke-width="0.6" stroke-dasharray="1.6 1"/>
<line x1="124.78" y1="121.4" x2="124.78" y2="178.1" stroke="#e0e0e0" stroke-width="0.6" stroke-dasharray="1.6 1"/>
<line x1="28.3" y1="166.76" x2="135.5" y2="166.76" stroke="#e0e0e0" stroke-width="0.6" stroke-dasharray="1.6 1"/>
<line x1="28.3" y1="155.42" x2="135.5" y2="155.42" stroke="#e0e0e0" stroke-width="0.6" stroke-dasharray="1.6 1"/>
<line x1="28.3" y1="144.08" x2="135.5" y2="144.08" stroke="#e0e0e0" stroke-width="0.6" stroke-dasharray="1.6 1"/>
<line x1="28.3" y1="132.74" x2="135.5" y2="132.74" stroke="#e0e0e0" stroke-width="0.6" stroke-dasharray="1.6 1"/>
<line x1="28.3" y1="121.4" x2="28.3" y2="178.1" stroke="#dcdcdc" stroke-width="0.7" />
<line x1="49.74" y1="121.4" x2="49.74" y2="178.1" stroke="#dcdcdc" stroke-width="0.7" />
<line x1="71.18" y1="121.4" x2="71.18" y2="178.1" stroke="#dcdcdc" stroke-width="0.7" />
<line x1="92.62" y1="121.4" x2="92.62" y2="178.1" stroke="#dcdcdc" stroke-width="0.7" />
<line x1="114.06" y1="121.4" x2="114.06" y2="178.1" stroke="#dcdcdc" stroke-width="0.7" />
<line x1="135.5" y1="121.4" x2="135.5" y2="178.1" stroke="#dcdcdc" stroke-width="0.7" />
<line x1="28.3" y1="172.43" x2="135.5" y2="172.43" stroke="#dcdcdc" stroke-width="0.7" />
<line x1="28.3" y1="161.09" x2="135.5" y2="161.09" stroke="#dcdcdc" stroke-width="0.7" />
<line x1="28.3" y1="149.75" x2="135.5" y2="149.75" stroke="#dcdcdc" stroke-width="0.7" />
<line x1="28.3" y1="138.41" x2="135.5" y2="138.41" stroke="#dcdcdc" stroke-width="0.7" />
<line x1="28.3" y1="127.07" x2="135.5" y2="127.07" stroke="#dcdcdc" stroke-width="0.7" />
<clipPath id="c20"><rect x="28.3" y="121.4" width="107.2" height="56.7"/></clipPath>
<line x1="28.3" y1="183.77" x2="135.5" y2="127.07" stroke="#7aa3d8" stroke-width="1.05" clip-path="url(#c20)"/>
<path d="M28.3,106.81 L30.12,109.5 L31.93,112.11 L33.75,114.65 L35.57,117.11 L37.38,119.49 L39.2,121.8 L41.02,124.03 L42.84,126.19 L44.65,128.26 L46.47,130.26 L48.29,132.19 L50.1,134.04 L51.92,135.81 L53.74,137.5 L55.55,139.12 L57.37,140.66 L59.19,142.13 L61.01,143.51 L62.82,144.83 L64.64,146.06 L66.46,147.22 L68.27,148.3 L70.09,149.31 L71.91,150.24 L73.72,151.09 L75.54,151.87 L77.36,152.57 L79.17,153.19 L80.99,153.73 L82.81,154.2 L84.63,154.6 L86.44,154.91 L88.26,155.15 L90.08,155.32 L91.89,155.4 L93.71,155.41 L95.53,155.35 L97.34,155.21 L99.16,154.99 L100.98,154.69 L102.79,154.32 L104.61,153.87 L106.43,153.34 L108.25,152.74 L110.06,152.06 L111.88,151.31 L113.7,150.48 L115.51,149.57 L117.33,148.58 L119.15,147.52 L120.96,146.38 L122.78,145.17 L124.6,143.88 L126.42,142.51 L128.23,141.07 L130.05,139.55 L131.87,137.95 L133.68,136.28 L135.5,134.53" stroke="#b94a40" stroke-width="1.15" fill="none" clip-path="url(#c20)"/>
<line x1="26.1" y1="172.43" x2="28.3" y2="172.43" stroke="#1c1c1c" stroke-width="0.9" />
<line x1="26.1" y1="161.09" x2="28.3" y2="161.09" stroke="#1c1c1c" stroke-width="0.9" />
<line x1="26.1" y1="149.75" x2="28.3" y2="149.75" stroke="#1c1c1c" stroke-width="0.9" />
<line x1="26.1" y1="138.41" x2="28.3" y2="138.41" stroke="#1c1c1c" stroke-width="0.9" />
<line x1="26.1" y1="127.07" x2="28.3" y2="127.07" stroke="#1c1c1c" stroke-width="0.9" />
<line x1="27" y1="166.76" x2="28.3" y2="166.76" stroke="#1c1c1c" stroke-width="0.8" />
<line x1="27" y1="155.42" x2="28.3" y2="155.42" stroke="#1c1c1c" stroke-width="0.8" />
<line x1="27" y1="144.08" x2="28.3" y2="144.08" stroke="#1c1c1c" stroke-width="0.8" />
<line x1="27" y1="132.74" x2="28.3" y2="132.74" stroke="#1c1c1c" stroke-width="0.8" />
<line x1="28.3" y1="178.1" x2="28.3" y2="180.3" stroke="#1c1c1c" stroke-width="0.9" />
<line x1="28.3" y1="121.4" x2="28.3" y2="123.2" stroke="#1c1c1c" stroke-width="0.9" />
<line x1="49.74" y1="178.1" x2="49.74" y2="180.3" stroke="#1c1c1c" stroke-width="0.9" />
<line x1="49.74" y1="121.4" x2="49.74" y2="123.2" stroke="#1c1c1c" stroke-width="0.9" />
<line x1="71.18" y1="178.1" x2="71.18" y2="180.3" stroke="#1c1c1c" stroke-width="0.9" />
<line x1="71.18" y1="121.4" x2="71.18" y2="123.2" stroke="#1c1c1c" stroke-width="0.9" />
<line x1="92.62" y1="178.1" x2="92.62" y2="180.3" stroke="#1c1c1c" stroke-width="0.9" />
<line x1="92.62" y1="121.4" x2="92.62" y2="123.2" stroke="#1c1c1c" stroke-width="0.9" />
<line x1="114.06" y1="178.1" x2="114.06" y2="180.3" stroke="#1c1c1c" stroke-width="0.9" />
<line x1="114.06" y1="121.4" x2="114.06" y2="123.2" stroke="#1c1c1c" stroke-width="0.9" />
<line x1="135.5" y1="178.1" x2="135.5" y2="180.3" stroke="#1c1c1c" stroke-width="0.9" />
<line x1="135.5" y1="121.4" x2="135.5" y2="123.2" stroke="#1c1c1c" stroke-width="0.9" />
<line x1="39.02" y1="178.1" x2="39.02" y2="179.4" stroke="#1c1c1c" stroke-width="0.8" />
<line x1="39.02" y1="121.4" x2="39.02" y2="122.5" stroke="#1c1c1c" stroke-width="0.8" />
<line x1="60.46" y1="178.1" x2="60.46" y2="179.4" stroke="#1c1c1c" stroke-width="0.8" />
<line x1="60.46" y1="121.4" x2="60.46" y2="122.5" stroke="#1c1c1c" stroke-width="0.8" />
<line x1="81.9" y1="178.1" x2="81.9" y2="179.4" stroke="#1c1c1c" stroke-width="0.8" />
<line x1="81.9" y1="121.4" x2="81.9" y2="122.5" stroke="#1c1c1c" stroke-width="0.8" />
<line x1="103.34" y1="178.1" x2="103.34" y2="179.4" stroke="#1c1c1c" stroke-width="0.8" />
<line x1="103.34" y1="121.4" x2="103.34" y2="122.5" stroke="#1c1c1c" stroke-width="0.8" />
<line x1="124.78" y1="178.1" x2="124.78" y2="179.4" stroke="#1c1c1c" stroke-width="0.8" />
<line x1="124.78" y1="121.4" x2="124.78" y2="122.5" stroke="#1c1c1c" stroke-width="0.8" />
<rect x="28.3" y="121.4" width="107.2" height="56.7" fill="none" stroke="#1c1c1c" stroke-width="1.15"/>
<text transform="translate(25.2,174.38) scale(1,0.74)" font-size="8.8" text-anchor="end" font-family="&quot;Liberation Serif&quot;, serif" fill="#1c1c1c" stroke="#1c1c1c" stroke-width="0.28">-2</text>
<text transform="translate(25.2,163.04) scale(1,0.74)" font-size="8.8" text-anchor="end" font-family="&quot;Liberation Serif&quot;, serif" fill="#1c1c1c" stroke="#1c1c1c" stroke-width="0.28">-1</text>
<text transform="translate(25.2,151.7) scale(1,0.74)" font-size="8.8" text-anchor="end" font-family="&quot;Liberation Serif&quot;, serif" fill="#1c1c1c" stroke="#1c1c1c" stroke-width="0.28">0</text>
<text transform="translate(25.2,140.36) scale(1,0.74)" font-size="8.8" text-anchor="end" font-family="&quot;Liberation Serif&quot;, serif" fill="#1c1c1c" stroke="#1c1c1c" stroke-width="0.28">1</text>
<text transform="translate(25.2,129.02) scale(1,0.74)" font-size="8.8" text-anchor="end" font-family="&quot;Liberation Serif&quot;, serif" fill="#1c1c1c" stroke="#1c1c1c" stroke-width="0.28">2</text>
<text transform="translate(28.3,187.4) scale(1,0.74)" font-size="8.8" text-anchor="middle" font-family="&quot;Liberation Serif&quot;, serif" fill="#1c1c1c" stroke="#1c1c1c" stroke-width="0.28">-3</text>
<text transform="translate(49.74,187.4) scale(1,0.74)" font-size="8.8" text-anchor="middle" font-family="&quot;Liberation Serif&quot;, serif" fill="#1c1c1c" stroke="#1c1c1c" stroke-width="0.28">-2</text>
<text transform="translate(71.18,187.4) scale(1,0.74)" font-size="8.8" text-anchor="middle" font-family="&quot;Liberation Serif&quot;, serif" fill="#1c1c1c" stroke="#1c1c1c" stroke-width="0.28">-1</text>
<text transform="translate(92.62,187.4) scale(1,0.74)" font-size="8.8" text-anchor="middle" font-family="&quot;Liberation Serif&quot;, serif" fill="#1c1c1c" stroke="#1c1c1c" stroke-width="0.28">0</text>
<text transform="translate(114.06,187.4) scale(1,0.74)" font-size="8.8" text-anchor="middle" font-family="&quot;Liberation Serif&quot;, serif" fill="#1c1c1c" stroke="#1c1c1c" stroke-width="0.28">1</text>
<text transform="translate(135.5,187.4) scale(1,0.74)" font-size="8.8" text-anchor="middle" font-family="&quot;Liberation Serif&quot;, serif" fill="#1c1c1c" stroke="#1c1c1c" stroke-width="0.28">2</text>
<text transform="translate(78.8,194.9)" font-size="8.3" text-anchor="middle" font-family="&quot;Liberation Serif&quot;, serif" fill="#1c1c1c"  stroke="#1c1c1c" stroke-width="0.20">Standardized value (<tspan font-style="italic">a</tspan>)</text>
<line x1="77.7" y1="161.8" x2="89.9" y2="161.8" stroke="#8aaed8" stroke-width="1.3" />
<line x1="77.7" y1="172.2" x2="89.9" y2="172.2" stroke="#c0554c" stroke-width="1.3" />
<text transform="translate(93,164.6)" font-size="6.1" font-family="&quot;Liberation Serif&quot;, serif" fill="#1c1c1c" stroke="#1c1c1c" stroke-width="0.1">Ψ<tspan font-size="3.9" dy="1.2">1</tspan><tspan dy="-1.2">(x) = x-μ</tspan></text>
<text transform="translate(93,174.5)" font-size="6.1" font-family="&quot;Liberation Serif&quot;, serif" fill="#1c1c1c" stroke="#1c1c1c" stroke-width="0.1">Ψ<tspan font-size="3.9" dy="1.2">1</tspan><tspan dy="-1.2">(x) = (x-μ)</tspan><tspan font-size="3.9" dy="-2.4">2</tspan><tspan dy="2.4">-σ</tspan><tspan font-size="3.9" dy="-2.4">2</tspan></text>
<rect x="162.6" y="121.4" width="108" height="56.7" fill="#f0f0f0" />
<line x1="186.6" y1="121.4" x2="186.6" y2="178.1" stroke="#e0e0e0" stroke-width="0.6" stroke-dasharray="1.6 1"/>
<line x1="210.6" y1="121.4" x2="210.6" y2="178.1" stroke="#e0e0e0" stroke-width="0.6" stroke-dasharray="1.6 1"/>
<line x1="234.6" y1="121.4" x2="234.6" y2="178.1" stroke="#e0e0e0" stroke-width="0.6" stroke-dasharray="1.6 1"/>
<line x1="258.6" y1="121.4" x2="258.6" y2="178.1" stroke="#e0e0e0" stroke-width="0.6" stroke-dasharray="1.6 1"/>
<line x1="162.6" y1="166.76" x2="270.6" y2="166.76" stroke="#e0e0e0" stroke-width="0.6" stroke-dasharray="1.6 1"/>
<line x1="162.6" y1="155.42" x2="270.6" y2="155.42" stroke="#e0e0e0" stroke-width="0.6" stroke-dasharray="1.6 1"/>
<line x1="162.6" y1="144.08" x2="270.6" y2="144.08" stroke="#e0e0e0" stroke-width="0.6" stroke-dasharray="1.6 1"/>
<line x1="162.6" y1="132.74" x2="270.6" y2="132.74" stroke="#e0e0e0" stroke-width="0.6" stroke-dasharray="1.6 1"/>
<line x1="174.6" y1="121.4" x2="174.6" y2="178.1" stroke="#dcdcdc" stroke-width="0.7" />
<line x1="198.6" y1="121.4" x2="198.6" y2="178.1" stroke="#dcdcdc" stroke-width="0.7" />
<line x1="222.6" y1="121.4" x2="222.6" y2="178.1" stroke="#dcdcdc" stroke-width="0.7" />
<line x1="246.6" y1="121.4" x2="246.6" y2="178.1" stroke="#dcdcdc" stroke-width="0.7" />
<line x1="270.6" y1="121.4" x2="270.6" y2="178.1" stroke="#dcdcdc" stroke-width="0.7" />
<line x1="162.6" y1="172.43" x2="270.6" y2="172.43" stroke="#dcdcdc" stroke-width="0.7" />
<line x1="162.6" y1="161.09" x2="270.6" y2="161.09" stroke="#dcdcdc" stroke-width="0.7" />
<line x1="162.6" y1="149.75" x2="270.6" y2="149.75" stroke="#dcdcdc" stroke-width="0.7" />
<line x1="162.6" y1="138.41" x2="270.6" y2="138.41" stroke="#dcdcdc" stroke-width="0.7" />
<line x1="162.6" y1="127.07" x2="270.6" y2="127.07" stroke="#dcdcdc" stroke-width="0.7" />
<clipPath id="c21"><rect x="162.6" y="121.4" width="108" height="56.7"/></clipPath>
<line x1="162.6" y1="178.1" x2="270.6" y2="127.07" stroke="#7aa3d8" stroke-width="1.05" clip-path="url(#c21)"/>
<path d="M162.6,121.57 L164.43,123.59 L166.26,125.55 L168.09,127.44 L169.92,129.27 L171.75,131.04 L173.58,132.75 L175.41,134.4 L177.24,135.98 L179.07,137.5 L180.91,138.96 L182.74,140.36 L184.57,141.69 L186.4,142.97 L188.23,144.18 L190.06,145.33 L191.89,146.42 L193.72,147.44 L195.55,148.41 L197.38,149.31 L199.21,150.15 L201.04,150.93 L202.87,151.64 L204.7,152.29 L206.53,152.89 L208.36,153.42 L210.19,153.88 L212.02,154.29 L213.85,154.63 L215.68,154.91 L217.52,155.13 L219.35,155.29 L221.18,155.39 L223.01,155.42 L224.84,155.39 L226.67,155.3 L228.5,155.15 L230.33,154.93 L232.16,154.66 L233.99,154.32 L235.82,153.92 L237.65,153.46 L239.48,152.93 L241.31,152.34 L243.14,151.7 L244.97,150.98 L246.8,150.21 L248.63,149.38 L250.46,148.48 L252.29,147.52 L254.13,146.5 L255.96,145.42 L257.79,144.27 L259.62,143.07 L261.45,141.8 L263.28,140.47 L265.11,139.08 L266.94,137.62 L268.77,136.1 L270.6,134.53" stroke="#b94a40" stroke-width="1.15" fill="none" clip-path="url(#c21)"/>
<line x1="160.4" y1="172.43" x2="162.6" y2="172.43" stroke="#1c1c1c" stroke-width="0.9" />
<line x1="160.4" y1="161.09" x2="162.6" y2="161.09" stroke="#1c1c1c" stroke-width="0.9" />
<line x1="160.4" y1="149.75" x2="162.6" y2="149.75" stroke="#1c1c1c" stroke-width="0.9" />
<line x1="160.4" y1="138.41" x2="162.6" y2="138.41" stroke="#1c1c1c" stroke-width="0.9" />
<line x1="160.4" y1="127.07" x2="162.6" y2="127.07" stroke="#1c1c1c" stroke-width="0.9" />
<line x1="161.3" y1="166.76" x2="162.6" y2="166.76" stroke="#1c1c1c" stroke-width="0.8" />
<line x1="161.3" y1="155.42" x2="162.6" y2="155.42" stroke="#1c1c1c" stroke-width="0.8" />
<line x1="161.3" y1="144.08" x2="162.6" y2="144.08" stroke="#1c1c1c" stroke-width="0.8" />
<line x1="161.3" y1="132.74" x2="162.6" y2="132.74" stroke="#1c1c1c" stroke-width="0.8" />
<line x1="174.6" y1="178.1" x2="174.6" y2="180.3" stroke="#1c1c1c" stroke-width="0.9" />
<line x1="174.6" y1="121.4" x2="174.6" y2="123.2" stroke="#1c1c1c" stroke-width="0.9" />
<line x1="198.6" y1="178.1" x2="198.6" y2="180.3" stroke="#1c1c1c" stroke-width="0.9" />
<line x1="198.6" y1="121.4" x2="198.6" y2="123.2" stroke="#1c1c1c" stroke-width="0.9" />
<line x1="222.6" y1="178.1" x2="222.6" y2="180.3" stroke="#1c1c1c" stroke-width="0.9" />
<line x1="222.6" y1="121.4" x2="222.6" y2="123.2" stroke="#1c1c1c" stroke-width="0.9" />
<line x1="246.6" y1="178.1" x2="246.6" y2="180.3" stroke="#1c1c1c" stroke-width="0.9" />
<line x1="246.6" y1="121.4" x2="246.6" y2="123.2" stroke="#1c1c1c" stroke-width="0.9" />
<line x1="270.6" y1="178.1" x2="270.6" y2="180.3" stroke="#1c1c1c" stroke-width="0.9" />
<line x1="270.6" y1="121.4" x2="270.6" y2="123.2" stroke="#1c1c1c" stroke-width="0.9" />
<line x1="186.6" y1="178.1" x2="186.6" y2="179.4" stroke="#1c1c1c" stroke-width="0.8" />
<line x1="186.6" y1="121.4" x2="186.6" y2="122.5" stroke="#1c1c1c" stroke-width="0.8" />
<line x1="210.6" y1="178.1" x2="210.6" y2="179.4" stroke="#1c1c1c" stroke-width="0.8" />
<line x1="210.6" y1="121.4" x2="210.6" y2="122.5" stroke="#1c1c1c" stroke-width="0.8" />
<line x1="234.6" y1="178.1" x2="234.6" y2="179.4" stroke="#1c1c1c" stroke-width="0.8" />
<line x1="234.6" y1="121.4" x2="234.6" y2="122.5" stroke="#1c1c1c" stroke-width="0.8" />
<line x1="258.6" y1="178.1" x2="258.6" y2="179.4" stroke="#1c1c1c" stroke-width="0.8" />
<line x1="258.6" y1="121.4" x2="258.6" y2="122.5" stroke="#1c1c1c" stroke-width="0.8" />
<rect x="162.6" y="121.4" width="108" height="56.7" fill="none" stroke="#1c1c1c" stroke-width="1.15"/>
<text transform="translate(159.5,174.38) scale(1,0.74)" font-size="8.8" text-anchor="end" font-family="&quot;Liberation Serif&quot;, serif" fill="#1c1c1c" stroke="#1c1c1c" stroke-width="0.28">-2</text>
<text transform="translate(159.5,163.04) scale(1,0.74)" font-size="8.8" text-anchor="end" font-family="&quot;Liberation Serif&quot;, serif" fill="#1c1c1c" stroke="#1c1c1c" stroke-width="0.28">-1</text>
<text transform="translate(159.5,151.7) scale(1,0.74)" font-size="8.8" text-anchor="end" font-family="&quot;Liberation Serif&quot;, serif" fill="#1c1c1c" stroke="#1c1c1c" stroke-width="0.28">0</text>
<text transform="translate(159.5,140.36) scale(1,0.74)" font-size="8.8" text-anchor="end" font-family="&quot;Liberation Serif&quot;, serif" fill="#1c1c1c" stroke="#1c1c1c" stroke-width="0.28">1</text>
<text transform="translate(159.5,129.02) scale(1,0.74)" font-size="8.8" text-anchor="end" font-family="&quot;Liberation Serif&quot;, serif" fill="#1c1c1c" stroke="#1c1c1c" stroke-width="0.28">2</text>
<text transform="translate(174.6,187.4) scale(1,0.74)" font-size="8.8" text-anchor="middle" font-family="&quot;Liberation Serif&quot;, serif" fill="#1c1c1c" stroke="#1c1c1c" stroke-width="0.28">-2</text>
<text transform="translate(198.6,187.4) scale(1,0.74)" font-size="8.8" text-anchor="middle" font-family="&quot;Liberation Serif&quot;, serif" fill="#1c1c1c" stroke="#1c1c1c" stroke-width="0.28">-1</text>
<text transform="translate(222.6,187.4) scale(1,0.74)" font-size="8.8" text-anchor="middle" font-family="&quot;Liberation Serif&quot;, serif" fill="#1c1c1c" stroke="#1c1c1c" stroke-width="0.28">0</text>
<text transform="translate(246.6,187.4) scale(1,0.74)" font-size="8.8" text-anchor="middle" font-family="&quot;Liberation Serif&quot;, serif" fill="#1c1c1c" stroke="#1c1c1c" stroke-width="0.28">1</text>
<text transform="translate(270.6,187.4) scale(1,0.74)" font-size="8.8" text-anchor="middle" font-family="&quot;Liberation Serif&quot;, serif" fill="#1c1c1c" stroke="#1c1c1c" stroke-width="0.28">2</text>
<text transform="translate(215.6,194.9)" font-size="8.3" text-anchor="middle" font-family="&quot;Liberation Serif&quot;, serif" fill="#1c1c1c"  stroke="#1c1c1c" stroke-width="0.20">Standardized value (<tspan font-style="italic">k</tspan>)</text>
<rect x="297.5" y="121.4" width="106.8" height="56.7" fill="#f0f0f0" />
<line x1="319.08" y1="121.4" x2="319.08" y2="178.1" stroke="#e0e0e0" stroke-width="0.6" stroke-dasharray="1.6 1"/>
<line x1="340.65" y1="121.4" x2="340.65" y2="178.1" stroke="#e0e0e0" stroke-width="0.6" stroke-dasharray="1.6 1"/>
<line x1="362.23" y1="121.4" x2="362.23" y2="178.1" stroke="#e0e0e0" stroke-width="0.6" stroke-dasharray="1.6 1"/>
<line x1="383.8" y1="121.4" x2="383.8" y2="178.1" stroke="#e0e0e0" stroke-width="0.6" stroke-dasharray="1.6 1"/>
<line x1="297.5" y1="166.76" x2="404.3" y2="166.76" stroke="#e0e0e0" stroke-width="0.6" stroke-dasharray="1.6 1"/>
<line x1="297.5" y1="155.42" x2="404.3" y2="155.42" stroke="#e0e0e0" stroke-width="0.6" stroke-dasharray="1.6 1"/>
<line x1="297.5" y1="144.08" x2="404.3" y2="144.08" stroke="#e0e0e0" stroke-width="0.6" stroke-dasharray="1.6 1"/>
<line x1="297.5" y1="132.74" x2="404.3" y2="132.74" stroke="#e0e0e0" stroke-width="0.6" stroke-dasharray="1.6 1"/>
<line x1="308.29" y1="121.4" x2="308.29" y2="178.1" stroke="#dcdcdc" stroke-width="0.7" />
<line x1="329.86" y1="121.4" x2="329.86" y2="178.1" stroke="#dcdcdc" stroke-width="0.7" />
<line x1="351.44" y1="121.4" x2="351.44" y2="178.1" stroke="#dcdcdc" stroke-width="0.7" />
<line x1="373.02" y1="121.4" x2="373.02" y2="178.1" stroke="#dcdcdc" stroke-width="0.7" />
<line x1="394.59" y1="121.4" x2="394.59" y2="178.1" stroke="#dcdcdc" stroke-width="0.7" />
<line x1="297.5" y1="172.43" x2="404.3" y2="172.43" stroke="#dcdcdc" stroke-width="0.7" />
<line x1="297.5" y1="161.09" x2="404.3" y2="161.09" stroke="#dcdcdc" stroke-width="0.7" />
<line x1="297.5" y1="149.75" x2="404.3" y2="149.75" stroke="#dcdcdc" stroke-width="0.7" />
<line x1="297.5" y1="138.41" x2="404.3" y2="138.41" stroke="#dcdcdc" stroke-width="0.7" />
<line x1="297.5" y1="127.07" x2="404.3" y2="127.07" stroke="#dcdcdc" stroke-width="0.7" />
<clipPath id="c22"><rect x="297.5" y="121.4" width="106.8" height="56.7"/></clipPath>
<line x1="297.5" y1="178.1" x2="404.3" y2="121.97" stroke="#7aa3d8" stroke-width="1.05" clip-path="url(#c22)"/>
<path d="M297.5,121.57 L299.31,123.79 L301.12,125.93 L302.93,128 L304.74,129.99 L306.55,131.9 L308.36,133.75 L310.17,135.51 L311.98,137.2 L313.79,138.82 L315.6,140.36 L317.41,141.82 L319.22,143.22 L321.03,144.53 L322.84,145.77 L324.65,146.94 L326.46,148.03 L328.27,149.04 L330.08,149.98 L331.89,150.85 L333.7,151.64 L335.51,152.36 L337.32,153 L339.13,153.56 L340.94,154.05 L342.75,154.47 L344.56,154.81 L346.37,155.07 L348.18,155.26 L349.99,155.38 L351.81,155.42 L353.62,155.39 L355.43,155.28 L357.24,155.09 L359.05,154.83 L360.86,154.5 L362.67,154.09 L364.48,153.6 L366.29,153.04 L368.1,152.41 L369.91,151.7 L371.72,150.91 L373.53,150.05 L375.34,149.12 L377.15,148.1 L378.96,147.02 L380.77,145.86 L382.58,144.62 L384.39,143.31 L386.2,141.93 L388.01,140.47 L389.82,138.93 L391.63,137.32 L393.44,135.64 L395.25,133.88 L397.06,132.04 L398.87,130.13 L400.68,128.14 L402.49,126.08 L404.3,123.95" stroke="#b94a40" stroke-width="1.15" fill="none" clip-path="url(#c22)"/>
<line x1="295.3" y1="172.43" x2="297.5" y2="172.43" stroke="#1c1c1c" stroke-width="0.9" />
<line x1="295.3" y1="161.09" x2="297.5" y2="161.09" stroke="#1c1c1c" stroke-width="0.9" />
<line x1="295.3" y1="149.75" x2="297.5" y2="149.75" stroke="#1c1c1c" stroke-width="0.9" />
<line x1="295.3" y1="138.41" x2="297.5" y2="138.41" stroke="#1c1c1c" stroke-width="0.9" />
<line x1="295.3" y1="127.07" x2="297.5" y2="127.07" stroke="#1c1c1c" stroke-width="0.9" />
<line x1="296.2" y1="166.76" x2="297.5" y2="166.76" stroke="#1c1c1c" stroke-width="0.8" />
<line x1="296.2" y1="155.42" x2="297.5" y2="155.42" stroke="#1c1c1c" stroke-width="0.8" />
<line x1="296.2" y1="144.08" x2="297.5" y2="144.08" stroke="#1c1c1c" stroke-width="0.8" />
<line x1="296.2" y1="132.74" x2="297.5" y2="132.74" stroke="#1c1c1c" stroke-width="0.8" />
<line x1="308.29" y1="178.1" x2="308.29" y2="180.3" stroke="#1c1c1c" stroke-width="0.9" />
<line x1="308.29" y1="121.4" x2="308.29" y2="123.2" stroke="#1c1c1c" stroke-width="0.9" />
<line x1="329.86" y1="178.1" x2="329.86" y2="180.3" stroke="#1c1c1c" stroke-width="0.9" />
<line x1="329.86" y1="121.4" x2="329.86" y2="123.2" stroke="#1c1c1c" stroke-width="0.9" />
<line x1="351.44" y1="178.1" x2="351.44" y2="180.3" stroke="#1c1c1c" stroke-width="0.9" />
<line x1="351.44" y1="121.4" x2="351.44" y2="123.2" stroke="#1c1c1c" stroke-width="0.9" />
<line x1="373.02" y1="178.1" x2="373.02" y2="180.3" stroke="#1c1c1c" stroke-width="0.9" />
<line x1="373.02" y1="121.4" x2="373.02" y2="123.2" stroke="#1c1c1c" stroke-width="0.9" />
<line x1="394.59" y1="178.1" x2="394.59" y2="180.3" stroke="#1c1c1c" stroke-width="0.9" />
<line x1="394.59" y1="121.4" x2="394.59" y2="123.2" stroke="#1c1c1c" stroke-width="0.9" />
<line x1="319.08" y1="178.1" x2="319.08" y2="179.4" stroke="#1c1c1c" stroke-width="0.8" />
<line x1="319.08" y1="121.4" x2="319.08" y2="122.5" stroke="#1c1c1c" stroke-width="0.8" />
<line x1="340.65" y1="178.1" x2="340.65" y2="179.4" stroke="#1c1c1c" stroke-width="0.8" />
<line x1="340.65" y1="121.4" x2="340.65" y2="122.5" stroke="#1c1c1c" stroke-width="0.8" />
<line x1="362.23" y1="178.1" x2="362.23" y2="179.4" stroke="#1c1c1c" stroke-width="0.8" />
<line x1="362.23" y1="121.4" x2="362.23" y2="122.5" stroke="#1c1c1c" stroke-width="0.8" />
<line x1="383.8" y1="178.1" x2="383.8" y2="179.4" stroke="#1c1c1c" stroke-width="0.8" />
<line x1="383.8" y1="121.4" x2="383.8" y2="122.5" stroke="#1c1c1c" stroke-width="0.8" />
<rect x="297.5" y="121.4" width="106.8" height="56.7" fill="none" stroke="#1c1c1c" stroke-width="1.15"/>
<text transform="translate(294.4,174.38) scale(1,0.74)" font-size="8.8" text-anchor="end" font-family="&quot;Liberation Serif&quot;, serif" fill="#1c1c1c" stroke="#1c1c1c" stroke-width="0.28">-2</text>
<text transform="translate(294.4,163.04) scale(1,0.74)" font-size="8.8" text-anchor="end" font-family="&quot;Liberation Serif&quot;, serif" fill="#1c1c1c" stroke="#1c1c1c" stroke-width="0.28">-1</text>
<text transform="translate(294.4,151.7) scale(1,0.74)" font-size="8.8" text-anchor="end" font-family="&quot;Liberation Serif&quot;, serif" fill="#1c1c1c" stroke="#1c1c1c" stroke-width="0.28">0</text>
<text transform="translate(294.4,140.36) scale(1,0.74)" font-size="8.8" text-anchor="end" font-family="&quot;Liberation Serif&quot;, serif" fill="#1c1c1c" stroke="#1c1c1c" stroke-width="0.28">1</text>
<text transform="translate(294.4,129.02) scale(1,0.74)" font-size="8.8" text-anchor="end" font-family="&quot;Liberation Serif&quot;, serif" fill="#1c1c1c" stroke="#1c1c1c" stroke-width="0.28">2</text>
<text transform="translate(308.29,187.4) scale(1,0.74)" font-size="8.8" text-anchor="middle" font-family="&quot;Liberation Serif&quot;, serif" fill="#1c1c1c" stroke="#1c1c1c" stroke-width="0.28">-2</text>
<text transform="translate(329.86,187.4) scale(1,0.74)" font-size="8.8" text-anchor="middle" font-family="&quot;Liberation Serif&quot;, serif" fill="#1c1c1c" stroke="#1c1c1c" stroke-width="0.28">-1</text>
<text transform="translate(351.44,187.4) scale(1,0.74)" font-size="8.8" text-anchor="middle" font-family="&quot;Liberation Serif&quot;, serif" fill="#1c1c1c" stroke="#1c1c1c" stroke-width="0.28">0</text>
<text transform="translate(373.02,187.4) scale(1,0.74)" font-size="8.8" text-anchor="middle" font-family="&quot;Liberation Serif&quot;, serif" fill="#1c1c1c" stroke="#1c1c1c" stroke-width="0.28">1</text>
<text transform="translate(394.59,187.4) scale(1,0.74)" font-size="8.8" text-anchor="middle" font-family="&quot;Liberation Serif&quot;, serif" fill="#1c1c1c" stroke="#1c1c1c" stroke-width="0.28">2</text>
<text transform="translate(347.3,194.9)" font-size="8.3" text-anchor="middle" font-family="&quot;Liberation Serif&quot;, serif" fill="#1c1c1c"  stroke="#1c1c1c" stroke-width="0.20">Standardized value (<tspan font-style="italic">r</tspan>)</text>
<rect x="431.6" y="121.4" width="108.3" height="56.7" fill="#f0f0f0" />
<line x1="455.67" y1="121.4" x2="455.67" y2="178.1" stroke="#e0e0e0" stroke-width="0.6" stroke-dasharray="1.6 1"/>
<line x1="479.73" y1="121.4" x2="479.73" y2="178.1" stroke="#e0e0e0" stroke-width="0.6" stroke-dasharray="1.6 1"/>
<line x1="503.8" y1="121.4" x2="503.8" y2="178.1" stroke="#e0e0e0" stroke-width="0.6" stroke-dasharray="1.6 1"/>
<line x1="527.87" y1="121.4" x2="527.87" y2="178.1" stroke="#e0e0e0" stroke-width="0.6" stroke-dasharray="1.6 1"/>
<line x1="431.6" y1="166.76" x2="539.9" y2="166.76" stroke="#e0e0e0" stroke-width="0.6" stroke-dasharray="1.6 1"/>
<line x1="431.6" y1="155.42" x2="539.9" y2="155.42" stroke="#e0e0e0" stroke-width="0.6" stroke-dasharray="1.6 1"/>
<line x1="431.6" y1="144.08" x2="539.9" y2="144.08" stroke="#e0e0e0" stroke-width="0.6" stroke-dasharray="1.6 1"/>
<line x1="431.6" y1="132.74" x2="539.9" y2="132.74" stroke="#e0e0e0" stroke-width="0.6" stroke-dasharray="1.6 1"/>
<line x1="443.63" y1="121.4" x2="443.63" y2="178.1" stroke="#dcdcdc" stroke-width="0.7" />
<line x1="467.7" y1="121.4" x2="467.7" y2="178.1" stroke="#dcdcdc" stroke-width="0.7" />
<line x1="491.77" y1="121.4" x2="491.77" y2="178.1" stroke="#dcdcdc" stroke-width="0.7" />
<line x1="515.83" y1="121.4" x2="515.83" y2="178.1" stroke="#dcdcdc" stroke-width="0.7" />
<line x1="539.9" y1="121.4" x2="539.9" y2="178.1" stroke="#dcdcdc" stroke-width="0.7" />
<line x1="431.6" y1="172.43" x2="539.9" y2="172.43" stroke="#dcdcdc" stroke-width="0.7" />
<line x1="431.6" y1="161.09" x2="539.9" y2="161.09" stroke="#dcdcdc" stroke-width="0.7" />
<line x1="431.6" y1="149.75" x2="539.9" y2="149.75" stroke="#dcdcdc" stroke-width="0.7" />
<line x1="431.6" y1="138.41" x2="539.9" y2="138.41" stroke="#dcdcdc" stroke-width="0.7" />
<line x1="431.6" y1="127.07" x2="539.9" y2="127.07" stroke="#dcdcdc" stroke-width="0.7" />
<clipPath id="c23"><rect x="431.6" y="121.4" width="108.3" height="56.7"/></clipPath>
<line x1="431.6" y1="178.1" x2="539.9" y2="127.07" stroke="#7aa3d8" stroke-width="1.05" clip-path="url(#c23)"/>
<path d="M431.6,121.57 L433.44,123.59 L435.27,125.55 L437.11,127.44 L438.94,129.27 L440.78,131.04 L442.61,132.75 L444.45,134.4 L446.28,135.98 L448.12,137.5 L449.96,138.96 L451.79,140.36 L453.63,141.69 L455.46,142.97 L457.3,144.18 L459.13,145.33 L460.97,146.42 L462.81,147.44 L464.64,148.41 L466.48,149.31 L468.31,150.15 L470.15,150.93 L471.98,151.64 L473.82,152.29 L475.65,152.89 L477.49,153.42 L479.33,153.88 L481.16,154.29 L483,154.63 L484.83,154.91 L486.67,155.13 L488.5,155.29 L490.34,155.39 L492.17,155.42 L494.01,155.39 L495.85,155.3 L497.68,155.15 L499.52,154.93 L501.35,154.66 L503.19,154.32 L505.02,153.92 L506.86,153.46 L508.69,152.93 L510.53,152.34 L512.37,151.7 L514.2,150.98 L516.04,150.21 L517.87,149.38 L519.71,148.48 L521.54,147.52 L523.38,146.5 L525.22,145.42 L527.05,144.27 L528.89,143.07 L530.72,141.8 L532.56,140.47 L534.39,139.08 L536.23,137.62 L538.06,136.1 L539.9,134.53" stroke="#b94a40" stroke-width="1.15" fill="none" clip-path="url(#c23)"/>
<line x1="429.4" y1="172.43" x2="431.6" y2="172.43" stroke="#1c1c1c" stroke-width="0.9" />
<line x1="429.4" y1="161.09" x2="431.6" y2="161.09" stroke="#1c1c1c" stroke-width="0.9" />
<line x1="429.4" y1="149.75" x2="431.6" y2="149.75" stroke="#1c1c1c" stroke-width="0.9" />
<line x1="429.4" y1="138.41" x2="431.6" y2="138.41" stroke="#1c1c1c" stroke-width="0.9" />
<line x1="429.4" y1="127.07" x2="431.6" y2="127.07" stroke="#1c1c1c" stroke-width="0.9" />
<line x1="430.3" y1="166.76" x2="431.6" y2="166.76" stroke="#1c1c1c" stroke-width="0.8" />
<line x1="430.3" y1="155.42" x2="431.6" y2="155.42" stroke="#1c1c1c" stroke-width="0.8" />
<line x1="430.3" y1="144.08" x2="431.6" y2="144.08" stroke="#1c1c1c" stroke-width="0.8" />
<line x1="430.3" y1="132.74" x2="431.6" y2="132.74" stroke="#1c1c1c" stroke-width="0.8" />
<line x1="443.63" y1="178.1" x2="443.63" y2="180.3" stroke="#1c1c1c" stroke-width="0.9" />
<line x1="443.63" y1="121.4" x2="443.63" y2="123.2" stroke="#1c1c1c" stroke-width="0.9" />
<line x1="467.7" y1="178.1" x2="467.7" y2="180.3" stroke="#1c1c1c" stroke-width="0.9" />
<line x1="467.7" y1="121.4" x2="467.7" y2="123.2" stroke="#1c1c1c" stroke-width="0.9" />
<line x1="491.77" y1="178.1" x2="491.77" y2="180.3" stroke="#1c1c1c" stroke-width="0.9" />
<line x1="491.77" y1="121.4" x2="491.77" y2="123.2" stroke="#1c1c1c" stroke-width="0.9" />
<line x1="515.83" y1="178.1" x2="515.83" y2="180.3" stroke="#1c1c1c" stroke-width="0.9" />
<line x1="515.83" y1="121.4" x2="515.83" y2="123.2" stroke="#1c1c1c" stroke-width="0.9" />
<line x1="539.9" y1="178.1" x2="539.9" y2="180.3" stroke="#1c1c1c" stroke-width="0.9" />
<line x1="539.9" y1="121.4" x2="539.9" y2="123.2" stroke="#1c1c1c" stroke-width="0.9" />
<line x1="455.67" y1="178.1" x2="455.67" y2="179.4" stroke="#1c1c1c" stroke-width="0.8" />
<line x1="455.67" y1="121.4" x2="455.67" y2="122.5" stroke="#1c1c1c" stroke-width="0.8" />
<line x1="479.73" y1="178.1" x2="479.73" y2="179.4" stroke="#1c1c1c" stroke-width="0.8" />
<line x1="479.73" y1="121.4" x2="479.73" y2="122.5" stroke="#1c1c1c" stroke-width="0.8" />
<line x1="503.8" y1="178.1" x2="503.8" y2="179.4" stroke="#1c1c1c" stroke-width="0.8" />
<line x1="503.8" y1="121.4" x2="503.8" y2="122.5" stroke="#1c1c1c" stroke-width="0.8" />
<line x1="527.87" y1="178.1" x2="527.87" y2="179.4" stroke="#1c1c1c" stroke-width="0.8" />
<line x1="527.87" y1="121.4" x2="527.87" y2="122.5" stroke="#1c1c1c" stroke-width="0.8" />
<rect x="431.6" y="121.4" width="108.3" height="56.7" fill="none" stroke="#1c1c1c" stroke-width="1.15"/>
<text transform="translate(428.5,174.38) scale(1,0.74)" font-size="8.8" text-anchor="end" font-family="&quot;Liberation Serif&quot;, serif" fill="#1c1c1c" stroke="#1c1c1c" stroke-width="0.28">-2</text>
<text transform="translate(428.5,163.04) scale(1,0.74)" font-size="8.8" text-anchor="end" font-family="&quot;Liberation Serif&quot;, serif" fill="#1c1c1c" stroke="#1c1c1c" stroke-width="0.28">-1</text>
<text transform="translate(428.5,151.7) scale(1,0.74)" font-size="8.8" text-anchor="end" font-family="&quot;Liberation Serif&quot;, serif" fill="#1c1c1c" stroke="#1c1c1c" stroke-width="0.28">0</text>
<text transform="translate(428.5,140.36) scale(1,0.74)" font-size="8.8" text-anchor="end" font-family="&quot;Liberation Serif&quot;, serif" fill="#1c1c1c" stroke="#1c1c1c" stroke-width="0.28">1</text>
<text transform="translate(428.5,129.02) scale(1,0.74)" font-size="8.8" text-anchor="end" font-family="&quot;Liberation Serif&quot;, serif" fill="#1c1c1c" stroke="#1c1c1c" stroke-width="0.28">2</text>
<text transform="translate(443.63,187.4) scale(1,0.74)" font-size="8.8" text-anchor="middle" font-family="&quot;Liberation Serif&quot;, serif" fill="#1c1c1c" stroke="#1c1c1c" stroke-width="0.28">-2</text>
<text transform="translate(467.7,187.4) scale(1,0.74)" font-size="8.8" text-anchor="middle" font-family="&quot;Liberation Serif&quot;, serif" fill="#1c1c1c" stroke="#1c1c1c" stroke-width="0.28">-1</text>
<text transform="translate(491.77,187.4) scale(1,0.74)" font-size="8.8" text-anchor="middle" font-family="&quot;Liberation Serif&quot;, serif" fill="#1c1c1c" stroke="#1c1c1c" stroke-width="0.28">0</text>
<text transform="translate(515.83,187.4) scale(1,0.74)" font-size="8.8" text-anchor="middle" font-family="&quot;Liberation Serif&quot;, serif" fill="#1c1c1c" stroke="#1c1c1c" stroke-width="0.28">1</text>
<text transform="translate(539.9,187.4) scale(1,0.74)" font-size="8.8" text-anchor="middle" font-family="&quot;Liberation Serif&quot;, serif" fill="#1c1c1c" stroke="#1c1c1c" stroke-width="0.28">2</text>
<text transform="translate(481.4,194.9)" font-size="8.3" text-anchor="middle" font-family="&quot;Liberation Serif&quot;, serif" fill="#1c1c1c"  stroke="#1c1c1c" stroke-width="0.20">Standardized value (<tspan font-style="italic">v</tspan>)</text>
<rect x="566.5" y="121.4" width="108" height="56.7" fill="#f0f0f0" />
<line x1="588.32" y1="121.4" x2="588.32" y2="178.1" stroke="#e0e0e0" stroke-width="0.6" stroke-dasharray="1.6 1"/>
<line x1="610.14" y1="121.4" x2="610.14" y2="178.1" stroke="#e0e0e0" stroke-width="0.6" stroke-dasharray="1.6 1"/>
<line x1="631.95" y1="121.4" x2="631.95" y2="178.1" stroke="#e0e0e0" stroke-width="0.6" stroke-dasharray="1.6 1"/>
<line x1="653.77" y1="121.4" x2="653.77" y2="178.1" stroke="#e0e0e0" stroke-width="0.6" stroke-dasharray="1.6 1"/>
<line x1="566.5" y1="166.76" x2="674.5" y2="166.76" stroke="#e0e0e0" stroke-width="0.6" stroke-dasharray="1.6 1"/>
<line x1="566.5" y1="155.42" x2="674.5" y2="155.42" stroke="#e0e0e0" stroke-width="0.6" stroke-dasharray="1.6 1"/>
<line x1="566.5" y1="144.08" x2="674.5" y2="144.08" stroke="#e0e0e0" stroke-width="0.6" stroke-dasharray="1.6 1"/>
<line x1="566.5" y1="132.74" x2="674.5" y2="132.74" stroke="#e0e0e0" stroke-width="0.6" stroke-dasharray="1.6 1"/>
<line x1="577.41" y1="121.4" x2="577.41" y2="178.1" stroke="#dcdcdc" stroke-width="0.7" />
<line x1="599.23" y1="121.4" x2="599.23" y2="178.1" stroke="#dcdcdc" stroke-width="0.7" />
<line x1="621.05" y1="121.4" x2="621.05" y2="178.1" stroke="#dcdcdc" stroke-width="0.7" />
<line x1="642.86" y1="121.4" x2="642.86" y2="178.1" stroke="#dcdcdc" stroke-width="0.7" />
<line x1="664.68" y1="121.4" x2="664.68" y2="178.1" stroke="#dcdcdc" stroke-width="0.7" />
<line x1="566.5" y1="172.43" x2="674.5" y2="172.43" stroke="#dcdcdc" stroke-width="0.7" />
<line x1="566.5" y1="161.09" x2="674.5" y2="161.09" stroke="#dcdcdc" stroke-width="0.7" />
<line x1="566.5" y1="149.75" x2="674.5" y2="149.75" stroke="#dcdcdc" stroke-width="0.7" />
<line x1="566.5" y1="138.41" x2="674.5" y2="138.41" stroke="#dcdcdc" stroke-width="0.7" />
<line x1="566.5" y1="127.07" x2="674.5" y2="127.07" stroke="#dcdcdc" stroke-width="0.7" />
<clipPath id="c24"><rect x="566.5" y="121.4" width="108" height="56.7"/></clipPath>
<line x1="566.5" y1="178.1" x2="674.5" y2="121.97" stroke="#7aa3d8" stroke-width="1.05" clip-path="url(#c24)"/>
<path d="M566.5,121.57 L568.33,123.79 L570.16,125.93 L571.99,128 L573.82,129.99 L575.65,131.9 L577.48,133.75 L579.31,135.51 L581.14,137.2 L582.97,138.82 L584.81,140.36 L586.64,141.82 L588.47,143.22 L590.3,144.53 L592.13,145.77 L593.96,146.94 L595.79,148.03 L597.62,149.04 L599.45,149.98 L601.28,150.85 L603.11,151.64 L604.94,152.36 L606.77,153 L608.6,153.56 L610.43,154.05 L612.26,154.47 L614.09,154.81 L615.92,155.07 L617.75,155.26 L619.58,155.38 L621.42,155.42 L623.25,155.39 L625.08,155.28 L626.91,155.09 L628.74,154.83 L630.57,154.5 L632.4,154.09 L634.23,153.6 L636.06,153.04 L637.89,152.41 L639.72,151.7 L641.55,150.91 L643.38,150.05 L645.21,149.12 L647.04,148.1 L648.87,147.02 L650.7,145.86 L652.53,144.62 L654.36,143.31 L656.19,141.93 L658.03,140.47 L659.86,138.93 L661.69,137.32 L663.52,135.64 L665.35,133.88 L667.18,132.04 L669.01,130.13 L670.84,128.14 L672.67,126.08 L674.5,123.95" stroke="#b94a40" stroke-width="1.15" fill="none" clip-path="url(#c24)"/>
<line x1="564.3" y1="172.43" x2="566.5" y2="172.43" stroke="#1c1c1c" stroke-width="0.9" />
<line x1="564.3" y1="161.09" x2="566.5" y2="161.09" stroke="#1c1c1c" stroke-width="0.9" />
<line x1="564.3" y1="149.75" x2="566.5" y2="149.75" stroke="#1c1c1c" stroke-width="0.9" />
<line x1="564.3" y1="138.41" x2="566.5" y2="138.41" stroke="#1c1c1c" stroke-width="0.9" />
<line x1="564.3" y1="127.07" x2="566.5" y2="127.07" stroke="#1c1c1c" stroke-width="0.9" />
<line x1="565.2" y1="166.76" x2="566.5" y2="166.76" stroke="#1c1c1c" stroke-width="0.8" />
<line x1="565.2" y1="155.42" x2="566.5" y2="155.42" stroke="#1c1c1c" stroke-width="0.8" />
<line x1="565.2" y1="144.08" x2="566.5" y2="144.08" stroke="#1c1c1c" stroke-width="0.8" />
<line x1="565.2" y1="132.74" x2="566.5" y2="132.74" stroke="#1c1c1c" stroke-width="0.8" />
<line x1="577.41" y1="178.1" x2="577.41" y2="180.3" stroke="#1c1c1c" stroke-width="0.9" />
<line x1="577.41" y1="121.4" x2="577.41" y2="123.2" stroke="#1c1c1c" stroke-width="0.9" />
<line x1="599.23" y1="178.1" x2="599.23" y2="180.3" stroke="#1c1c1c" stroke-width="0.9" />
<line x1="599.23" y1="121.4" x2="599.23" y2="123.2" stroke="#1c1c1c" stroke-width="0.9" />
<line x1="621.05" y1="178.1" x2="621.05" y2="180.3" stroke="#1c1c1c" stroke-width="0.9" />
<line x1="621.05" y1="121.4" x2="621.05" y2="123.2" stroke="#1c1c1c" stroke-width="0.9" />
<line x1="642.86" y1="178.1" x2="642.86" y2="180.3" stroke="#1c1c1c" stroke-width="0.9" />
<line x1="642.86" y1="121.4" x2="642.86" y2="123.2" stroke="#1c1c1c" stroke-width="0.9" />
<line x1="664.68" y1="178.1" x2="664.68" y2="180.3" stroke="#1c1c1c" stroke-width="0.9" />
<line x1="664.68" y1="121.4" x2="664.68" y2="123.2" stroke="#1c1c1c" stroke-width="0.9" />
<line x1="588.32" y1="178.1" x2="588.32" y2="179.4" stroke="#1c1c1c" stroke-width="0.8" />
<line x1="588.32" y1="121.4" x2="588.32" y2="122.5" stroke="#1c1c1c" stroke-width="0.8" />
<line x1="610.14" y1="178.1" x2="610.14" y2="179.4" stroke="#1c1c1c" stroke-width="0.8" />
<line x1="610.14" y1="121.4" x2="610.14" y2="122.5" stroke="#1c1c1c" stroke-width="0.8" />
<line x1="631.95" y1="178.1" x2="631.95" y2="179.4" stroke="#1c1c1c" stroke-width="0.8" />
<line x1="631.95" y1="121.4" x2="631.95" y2="122.5" stroke="#1c1c1c" stroke-width="0.8" />
<line x1="653.77" y1="178.1" x2="653.77" y2="179.4" stroke="#1c1c1c" stroke-width="0.8" />
<line x1="653.77" y1="121.4" x2="653.77" y2="122.5" stroke="#1c1c1c" stroke-width="0.8" />
<rect x="566.5" y="121.4" width="108" height="56.7" fill="none" stroke="#1c1c1c" stroke-width="1.15"/>
<text transform="translate(563.4,174.38) scale(1,0.74)" font-size="8.8" text-anchor="end" font-family="&quot;Liberation Serif&quot;, serif" fill="#1c1c1c" stroke="#1c1c1c" stroke-width="0.28">-2</text>
<text transform="translate(563.4,163.04) scale(1,0.74)" font-size="8.8" text-anchor="end" font-family="&quot;Liberation Serif&quot;, serif" fill="#1c1c1c" stroke="#1c1c1c" stroke-width="0.28">-1</text>
<text transform="translate(563.4,151.7) scale(1,0.74)" font-size="8.8" text-anchor="end" font-family="&quot;Liberation Serif&quot;, serif" fill="#1c1c1c" stroke="#1c1c1c" stroke-width="0.28">0</text>
<text transform="translate(563.4,140.36) scale(1,0.74)" font-size="8.8" text-anchor="end" font-family="&quot;Liberation Serif&quot;, serif" fill="#1c1c1c" stroke="#1c1c1c" stroke-width="0.28">1</text>
<text transform="translate(563.4,129.02) scale(1,0.74)" font-size="8.8" text-anchor="end" font-family="&quot;Liberation Serif&quot;, serif" fill="#1c1c1c" stroke="#1c1c1c" stroke-width="0.28">2</text>
<text transform="translate(577.41,187.4) scale(1,0.74)" font-size="8.8" text-anchor="middle" font-family="&quot;Liberation Serif&quot;, serif" fill="#1c1c1c" stroke="#1c1c1c" stroke-width="0.28">-2</text>
<text transform="translate(599.23,187.4) scale(1,0.74)" font-size="8.8" text-anchor="middle" font-family="&quot;Liberation Serif&quot;, serif" fill="#1c1c1c" stroke="#1c1c1c" stroke-width="0.28">-1</text>
<text transform="translate(621.05,187.4) scale(1,0.74)" font-size="8.8" text-anchor="middle" font-family="&quot;Liberation Serif&quot;, serif" fill="#1c1c1c" stroke="#1c1c1c" stroke-width="0.28">0</text>
<text transform="translate(642.86,187.4) scale(1,0.74)" font-size="8.8" text-anchor="middle" font-family="&quot;Liberation Serif&quot;, serif" fill="#1c1c1c" stroke="#1c1c1c" stroke-width="0.28">1</text>
<text transform="translate(664.68,187.4) scale(1,0.74)" font-size="8.8" text-anchor="middle" font-family="&quot;Liberation Serif&quot;, serif" fill="#1c1c1c" stroke="#1c1c1c" stroke-width="0.28">2</text>
<text transform="translate(617,194.9)" font-size="8.3" text-anchor="middle" font-family="&quot;Liberation Serif&quot;, serif" fill="#1c1c1c"  stroke="#1c1c1c" stroke-width="0.20">Standardized value (<tspan font-style="italic">m</tspan>)</text>
<text transform="translate(18.1,149.1) rotate(-90)" font-size="8.1" text-anchor="middle" font-family="&quot;Liberation Serif&quot;, serif" fill="#1c1c1c"  stroke="#1c1c1c" stroke-width="0.19">PDF</text>
<defs><radialGradient id="ball" cx="0.5" cy="0.5" r="0.5" fx="0.36" fy="0.32"><stop offset="0" stop-color="#e0e0ff"/><stop offset="0.2" stop-color="#4040b8"/><stop offset="0.55" stop-color="#16168a"/><stop offset="1" stop-color="#08084e"/></radialGradient></defs>
<defs><linearGradient id="bbg0" x1="0" y1="0" x2="1" y2="1"><stop offset="0" stop-color="#dce0e4"/><stop offset="1" stop-color="#d2e3ed"/></linearGradient></defs>
<rect x="80.88" y="226.24" width="8.18" height="5.26" fill="#f8efc6" stroke="#fbf7ea" stroke-width="0.6"/>
<rect x="89.64" y="216.9" width="8.76" height="14.6" fill="#f8efc6" stroke="#fbf7ea" stroke-width="0.6"/>
<rect x="99.85" y="202.3" width="8.18" height="29.2" fill="#f8efc6" stroke="#fbf7ea" stroke-width="0.6"/>
<rect x="109.2" y="216.9" width="8.18" height="14.6" fill="#f8efc6" stroke="#fbf7ea" stroke-width="0.6"/>
<rect x="118.83" y="221.86" width="7.88" height="9.64" fill="#f8efc6" stroke="#fbf7ea" stroke-width="0.6"/>
<rect x="128.47" y="207.26" width="7.88" height="24.24" fill="#f8efc6" stroke="#fbf7ea" stroke-width="0.6"/>
<rect x="137.81" y="221.86" width="7.88" height="9.64" fill="#f8efc6" stroke="#fbf7ea" stroke-width="0.6"/>
<rect x="147.15" y="216.9" width="8.18" height="14.6" fill="#f8efc6" stroke="#fbf7ea" stroke-width="0.6"/>
<rect x="156.79" y="216.9" width="8.18" height="14.6" fill="#f8efc6" stroke="#fbf7ea" stroke-width="0.6"/>
<rect x="166.42" y="226.24" width="7.88" height="5.26" fill="#f8efc6" stroke="#fbf7ea" stroke-width="0.6"/>
<rect x="175.77" y="226.24" width="7.88" height="5.26" fill="#f8efc6" stroke="#fbf7ea" stroke-width="0.6"/>
<rect x="194.2" y="261.17" width="4.92" height="5.18" fill="#c6d4e6" />
<rect x="194.2" y="268.18" width="4.92" height="5.18" fill="#c6d4e6" />
<rect x="194.2" y="275.18" width="34.71" height="6.06" fill="#c6d4e6" />
<rect x="194.2" y="282.19" width="20.98" height="6.06" fill="#c6d4e6" />
<rect x="194.2" y="289.78" width="4.92" height="5.47" fill="#c6d4e6" />
<rect x="194.2" y="296.79" width="7.84" height="5.76" fill="#c6d4e6" />
<rect x="71.3" y="231.5" width="122.9" height="93.7" fill="url(#bbg0)" />
<line x1="90.22" y1="310.91" x2="174.89" y2="245.51" stroke="#e4a498" stroke-width="0.8" stroke-dasharray="2.2 2.2"/>
<circle cx="88.76" cy="288.43" r="1.95" fill="url(#ball)"/>
<circle cx="90.51" cy="275.58" r="1.95" fill="url(#ball)"/>
<circle cx="91.68" cy="283.18" r="1.95" fill="url(#ball)"/>
<circle cx="97.52" cy="274.42" r="1.95" fill="url(#ball)"/>
<circle cx="99.85" cy="274.42" r="1.95" fill="url(#ball)"/>
<circle cx="102.77" cy="281.72" r="1.95" fill="url(#ball)"/>
<circle cx="104.23" cy="280.55" r="1.95" fill="url(#ball)"/>
<circle cx="106.57" cy="279.67" r="1.95" fill="url(#ball)"/>
<circle cx="108.32" cy="266.24" r="1.95" fill="url(#ball)"/>
<circle cx="107.15" cy="296.9" r="1.95" fill="url(#ball)"/>
<circle cx="112.12" cy="285.22" r="1.95" fill="url(#ball)"/>
<circle cx="114.45" cy="277.04" r="1.95" fill="url(#ball)"/>
<circle cx="116.79" cy="295.73" r="1.95" fill="url(#ball)"/>
<circle cx="120.88" cy="283.47" r="1.95" fill="url(#ball)"/>
<circle cx="126.72" cy="277.63" r="1.95" fill="url(#ball)"/>
<circle cx="131.39" cy="275" r="1.95" fill="url(#ball)"/>
<circle cx="133.43" cy="283.47" r="1.95" fill="url(#ball)"/>
<circle cx="134.01" cy="286.68" r="1.95" fill="url(#ball)"/>
<circle cx="136.35" cy="286.39" r="1.95" fill="url(#ball)"/>
<circle cx="136.35" cy="298.07" r="1.95" fill="url(#ball)"/>
<circle cx="138.39" cy="277.92" r="1.95" fill="url(#ball)"/>
<circle cx="138.69" cy="278.8" r="1.95" fill="url(#ball)"/>
<circle cx="147.45" cy="281.13" r="1.95" fill="url(#ball)"/>
<circle cx="148.03" cy="299.53" r="1.95" fill="url(#ball)"/>
<circle cx="154.74" cy="278.8" r="1.95" fill="url(#ball)"/>
<circle cx="159.71" cy="275.58" r="1.95" fill="url(#ball)"/>
<circle cx="164.96" cy="270.91" r="1.95" fill="url(#ball)"/>
<circle cx="164.96" cy="294.27" r="1.95" fill="url(#ball)"/>
<circle cx="173.72" cy="264.49" r="1.95" fill="url(#ball)"/>
<circle cx="181.61" cy="269.74" r="1.95" fill="url(#ball)"/>
<rect x="71.3" y="231.5" width="122.9" height="93.7" fill="none" stroke="#1c1c1c" stroke-width="1.15"/>
<line x1="69" y1="325.2" x2="71.3" y2="325.2" stroke="#1c1c1c" stroke-width="0.9" />
<text transform="translate(67.9,328.3) scale(1,0.9)" font-size="8.5" text-anchor="end" font-family="&quot;Liberation Serif&quot;, serif" fill="#1c1c1c" stroke="#1c1c1c" stroke-width="0.28">47</text>
<line x1="69" y1="310.6" x2="71.3" y2="310.6" stroke="#1c1c1c" stroke-width="0.9" />
<text transform="translate(67.9,313.7) scale(1,0.9)" font-size="8.5" text-anchor="end" font-family="&quot;Liberation Serif&quot;, serif" fill="#1c1c1c" stroke="#1c1c1c" stroke-width="0.28">48</text>
<line x1="69" y1="296.3" x2="71.3" y2="296.3" stroke="#1c1c1c" stroke-width="0.9" />
<text transform="translate(67.9,299.4) scale(1,0.9)" font-size="8.5" text-anchor="end" font-family="&quot;Liberation Serif&quot;, serif" fill="#1c1c1c" stroke="#1c1c1c" stroke-width="0.28">49</text>
<line x1="69" y1="281.7" x2="71.3" y2="281.7" stroke="#1c1c1c" stroke-width="0.9" />
<text transform="translate(67.9,284.8) scale(1,0.9)" font-size="8.5" text-anchor="end" font-family="&quot;Liberation Serif&quot;, serif" fill="#1c1c1c" stroke="#1c1c1c" stroke-width="0.28">50</text>
<line x1="69" y1="267.1" x2="71.3" y2="267.1" stroke="#1c1c1c" stroke-width="0.9" />
<text transform="translate(67.9,270.2) scale(1,0.9)" font-size="8.5" text-anchor="end" font-family="&quot;Liberation Serif&quot;, serif" fill="#1c1c1c" stroke="#1c1c1c" stroke-width="0.28">51</text>
<line x1="69" y1="252.8" x2="71.3" y2="252.8" stroke="#1c1c1c" stroke-width="0.9" />
<text transform="translate(67.9,255.9) scale(1,0.9)" font-size="8.5" text-anchor="end" font-family="&quot;Liberation Serif&quot;, serif" fill="#1c1c1c" stroke="#1c1c1c" stroke-width="0.28">52</text>
<line x1="69" y1="238.5" x2="71.3" y2="238.5" stroke="#1c1c1c" stroke-width="0.9" />
<text transform="translate(67.9,241.6) scale(1,0.9)" font-size="8.5" text-anchor="end" font-family="&quot;Liberation Serif&quot;, serif" fill="#1c1c1c" stroke="#1c1c1c" stroke-width="0.28">53</text>
<line x1="70" y1="317.9" x2="71.3" y2="317.9" stroke="#1c1c1c" stroke-width="0.75" />
<line x1="70" y1="303.45" x2="71.3" y2="303.45" stroke="#1c1c1c" stroke-width="0.75" />
<line x1="70" y1="289" x2="71.3" y2="289" stroke="#1c1c1c" stroke-width="0.75" />
<line x1="70" y1="274.4" x2="71.3" y2="274.4" stroke="#1c1c1c" stroke-width="0.75" />
<line x1="70" y1="259.95" x2="71.3" y2="259.95" stroke="#1c1c1c" stroke-width="0.75" />
<line x1="70" y1="245.65" x2="71.3" y2="245.65" stroke="#1c1c1c" stroke-width="0.75" />
<line x1="71.3" y1="325.2" x2="71.3" y2="327.2" stroke="#1c1c1c" stroke-width="0.9" />
<text transform="translate(71.3,335.6) scale(1,0.9)" font-size="8.5" text-anchor="middle" font-family="&quot;Liberation Serif&quot;, serif" fill="#1c1c1c" stroke="#1c1c1c" stroke-width="0.28">47</text>
<line x1="90.1" y1="325.2" x2="90.1" y2="327.2" stroke="#1c1c1c" stroke-width="0.9" />
<text transform="translate(90.1,335.6) scale(1,0.9)" font-size="8.5" text-anchor="middle" font-family="&quot;Liberation Serif&quot;, serif" fill="#1c1c1c" stroke="#1c1c1c" stroke-width="0.28">48</text>
<line x1="108.9" y1="325.2" x2="108.9" y2="327.2" stroke="#1c1c1c" stroke-width="0.9" />
<text transform="translate(108.9,335.6) scale(1,0.9)" font-size="8.5" text-anchor="middle" font-family="&quot;Liberation Serif&quot;, serif" fill="#1c1c1c" stroke="#1c1c1c" stroke-width="0.28">49</text>
<line x1="127.8" y1="325.2" x2="127.8" y2="327.2" stroke="#1c1c1c" stroke-width="0.9" />
<text transform="translate(127.8,335.6) scale(1,0.9)" font-size="8.5" text-anchor="middle" font-family="&quot;Liberation Serif&quot;, serif" fill="#1c1c1c" stroke="#1c1c1c" stroke-width="0.28">50</text>
<line x1="147.2" y1="325.2" x2="147.2" y2="327.2" stroke="#1c1c1c" stroke-width="0.9" />
<text transform="translate(147.2,335.6) scale(1,0.9)" font-size="8.5" text-anchor="middle" font-family="&quot;Liberation Serif&quot;, serif" fill="#1c1c1c" stroke="#1c1c1c" stroke-width="0.28">51</text>
<line x1="165.8" y1="325.2" x2="165.8" y2="327.2" stroke="#1c1c1c" stroke-width="0.9" />
<text transform="translate(165.8,335.6) scale(1,0.9)" font-size="8.5" text-anchor="middle" font-family="&quot;Liberation Serif&quot;, serif" fill="#1c1c1c" stroke="#1c1c1c" stroke-width="0.28">52</text>
<line x1="185.1" y1="325.2" x2="185.1" y2="327.2" stroke="#1c1c1c" stroke-width="0.9" />
<text transform="translate(185.1,335.6) scale(1,0.9)" font-size="8.5" text-anchor="middle" font-family="&quot;Liberation Serif&quot;, serif" fill="#1c1c1c" stroke="#1c1c1c" stroke-width="0.28">53</text>
<line x1="80.7" y1="325.2" x2="80.7" y2="326.5" stroke="#1c1c1c" stroke-width="0.75" />
<line x1="99.5" y1="325.2" x2="99.5" y2="326.5" stroke="#1c1c1c" stroke-width="0.75" />
<line x1="118.35" y1="325.2" x2="118.35" y2="326.5" stroke="#1c1c1c" stroke-width="0.75" />
<line x1="137.5" y1="325.2" x2="137.5" y2="326.5" stroke="#1c1c1c" stroke-width="0.75" />
<line x1="156.5" y1="325.2" x2="156.5" y2="326.5" stroke="#1c1c1c" stroke-width="0.75" />
<line x1="175.45" y1="325.2" x2="175.45" y2="326.5" stroke="#1c1c1c" stroke-width="0.75" />
<defs><linearGradient id="bbg1" x1="0" y1="0" x2="1" y2="1"><stop offset="0" stop-color="#eaebe8"/><stop offset="0.4" stop-color="#e4e8e8"/><stop offset="1" stop-color="#d0e2ed"/></linearGradient></defs>
<rect x="278.61" y="224.2" width="10.22" height="7" fill="#f8efc6" stroke="#fbf7ea" stroke-width="0.6"/>
<rect x="291.17" y="203.18" width="10.22" height="28.02" fill="#f8efc6" stroke="#fbf7ea" stroke-width="0.6"/>
<rect x="303.43" y="210.18" width="9.93" height="21.02" fill="#f8efc6" stroke="#fbf7ea" stroke-width="0.6"/>
<rect x="315.99" y="203.18" width="10.22" height="28.02" fill="#f8efc6" stroke="#fbf7ea" stroke-width="0.6"/>
<rect x="328.25" y="203.18" width="10.22" height="28.02" fill="#f8efc6" stroke="#fbf7ea" stroke-width="0.6"/>
<rect x="340.51" y="203.18" width="10.22" height="28.02" fill="#f8efc6" stroke="#fbf7ea" stroke-width="0.6"/>
<rect x="352.77" y="217.19" width="10.22" height="14.01" fill="#f8efc6" stroke="#fbf7ea" stroke-width="0.6"/>
<rect x="365.33" y="203.18" width="10.22" height="28.02" fill="#f8efc6" stroke="#fbf7ea" stroke-width="0.6"/>
<rect x="377.59" y="210.18" width="10.22" height="21.02" fill="#f8efc6" stroke="#fbf7ea" stroke-width="0.6"/>
<rect x="389.85" y="224.2" width="10.22" height="7" fill="#f8efc6" stroke="#fbf7ea" stroke-width="0.6"/>
<rect x="401.2" y="250.95" width="24.86" height="7.22" fill="#c6d4e6" />
<rect x="401.2" y="260.29" width="34.79" height="7.52" fill="#c6d4e6" />
<rect x="401.2" y="269.93" width="24.86" height="7.22" fill="#c6d4e6" />
<rect x="401.2" y="279.27" width="14.64" height="7.52" fill="#c6d4e6" />
<rect x="401.2" y="288.61" width="9.38" height="7.52" fill="#c6d4e6" />
<rect x="401.2" y="297.96" width="19.6" height="7.52" fill="#c6d4e6" />
<rect x="401.2" y="307.59" width="9.38" height="7.52" fill="#c6d4e6" />
<rect x="401.2" y="316.94" width="9.38" height="7.52" fill="#c6d4e6" />
<rect x="277.7" y="231.2" width="123.5" height="94" fill="url(#bbg1)" />
<line x1="302.55" y1="306.53" x2="376.13" y2="249.31" stroke="#e4a498" stroke-width="0.8" stroke-dasharray="2.2 2.2"/>
<circle cx="289.42" cy="309.74" r="1.95" fill="url(#ball)"/>
<circle cx="292.63" cy="318.8" r="1.95" fill="url(#ball)"/>
<circle cx="295.55" cy="301.57" r="1.95" fill="url(#ball)"/>
<circle cx="298.47" cy="318.5" r="1.95" fill="url(#ball)"/>
<circle cx="301.39" cy="314.71" r="1.95" fill="url(#ball)"/>
<circle cx="304.31" cy="303.91" r="1.95" fill="url(#ball)"/>
<circle cx="310.44" cy="289.6" r="1.95" fill="url(#ball)"/>
<circle cx="313.36" cy="297.77" r="1.95" fill="url(#ball)"/>
<circle cx="317.15" cy="296.61" r="1.95" fill="url(#ball)"/>
<circle cx="319.49" cy="304.2" r="1.95" fill="url(#ball)"/>
<circle cx="325.62" cy="281.72" r="1.95" fill="url(#ball)"/>
<circle cx="326.5" cy="282.59" r="1.95" fill="url(#ball)"/>
<circle cx="327.66" cy="265.07" r="1.95" fill="url(#ball)"/>
<circle cx="330.58" cy="269.74" r="1.95" fill="url(#ball)"/>
<circle cx="332.34" cy="274.42" r="1.95" fill="url(#ball)"/>
<circle cx="337.3" cy="277.63" r="1.95" fill="url(#ball)"/>
<circle cx="340.51" cy="272.37" r="1.95" fill="url(#ball)"/>
<circle cx="343.43" cy="264.78" r="1.95" fill="url(#ball)"/>
<circle cx="347.23" cy="277.92" r="1.95" fill="url(#ball)"/>
<circle cx="347.52" cy="279.38" r="1.95" fill="url(#ball)"/>
<circle cx="354.53" cy="261.57" r="1.95" fill="url(#ball)"/>
<circle cx="356.86" cy="266.53" r="1.95" fill="url(#ball)"/>
<circle cx="365.33" cy="258.07" r="1.95" fill="url(#ball)"/>
<circle cx="368.83" cy="267.41" r="1.95" fill="url(#ball)"/>
<circle cx="372.34" cy="256.02" r="1.95" fill="url(#ball)"/>
<circle cx="375.55" cy="259.23" r="1.95" fill="url(#ball)"/>
<circle cx="378.47" cy="252.81" r="1.95" fill="url(#ball)"/>
<circle cx="384.31" cy="263.61" r="1.95" fill="url(#ball)"/>
<circle cx="387.23" cy="259.53" r="1.95" fill="url(#ball)"/>
<circle cx="391.61" cy="250.77" r="1.95" fill="url(#ball)"/>
<rect x="277.7" y="231.2" width="123.5" height="94" fill="none" stroke="#1c1c1c" stroke-width="1.15"/>
<line x1="275.4" y1="325.2" x2="277.7" y2="325.2" stroke="#1c1c1c" stroke-width="0.9" />
<text transform="translate(274.3,328.3) scale(1,0.9)" font-size="8.5" text-anchor="end" font-family="&quot;Liberation Serif&quot;, serif" fill="#1c1c1c" stroke="#1c1c1c" stroke-width="0.28">68</text>
<line x1="275.4" y1="306.2" x2="277.7" y2="306.2" stroke="#1c1c1c" stroke-width="0.9" />
<text transform="translate(274.3,309.3) scale(1,0.9)" font-size="8.5" text-anchor="end" font-family="&quot;Liberation Serif&quot;, serif" fill="#1c1c1c" stroke="#1c1c1c" stroke-width="0.28">69</text>
<line x1="275.4" y1="287.3" x2="277.7" y2="287.3" stroke="#1c1c1c" stroke-width="0.9" />
<text transform="translate(274.3,290.4) scale(1,0.9)" font-size="8.5" text-anchor="end" font-family="&quot;Liberation Serif&quot;, serif" fill="#1c1c1c" stroke="#1c1c1c" stroke-width="0.28">70</text>
<line x1="275.4" y1="268.6" x2="277.7" y2="268.6" stroke="#1c1c1c" stroke-width="0.9" />
<text transform="translate(274.3,271.7) scale(1,0.9)" font-size="8.5" text-anchor="end" font-family="&quot;Liberation Serif&quot;, serif" fill="#1c1c1c" stroke="#1c1c1c" stroke-width="0.28">71</text>
<line x1="275.4" y1="249.9" x2="277.7" y2="249.9" stroke="#1c1c1c" stroke-width="0.9" />
<text transform="translate(274.3,253) scale(1,0.9)" font-size="8.5" text-anchor="end" font-family="&quot;Liberation Serif&quot;, serif" fill="#1c1c1c" stroke="#1c1c1c" stroke-width="0.28">72</text>
<line x1="275.4" y1="231.2" x2="277.7" y2="231.2" stroke="#1c1c1c" stroke-width="0.9" />
<text transform="translate(274.3,234.3) scale(1,0.9)" font-size="8.5" text-anchor="end" font-family="&quot;Liberation Serif&quot;, serif" fill="#1c1c1c" stroke="#1c1c1c" stroke-width="0.28">73</text>
<line x1="276.4" y1="315.7" x2="277.7" y2="315.7" stroke="#1c1c1c" stroke-width="0.75" />
<line x1="276.4" y1="296.75" x2="277.7" y2="296.75" stroke="#1c1c1c" stroke-width="0.75" />
<line x1="276.4" y1="277.95" x2="277.7" y2="277.95" stroke="#1c1c1c" stroke-width="0.75" />
<line x1="276.4" y1="259.25" x2="277.7" y2="259.25" stroke="#1c1c1c" stroke-width="0.75" />
<line x1="276.4" y1="240.55" x2="277.7" y2="240.55" stroke="#1c1c1c" stroke-width="0.75" />
<line x1="277.7" y1="325.2" x2="277.7" y2="327.2" stroke="#1c1c1c" stroke-width="0.9" />
<text transform="translate(277.7,335.6) scale(1,0.9)" font-size="8.5" text-anchor="middle" font-family="&quot;Liberation Serif&quot;, serif" fill="#1c1c1c" stroke="#1c1c1c" stroke-width="0.28">68</text>
<line x1="302.6" y1="325.2" x2="302.6" y2="327.2" stroke="#1c1c1c" stroke-width="0.9" />
<text transform="translate(302.6,335.6) scale(1,0.9)" font-size="8.5" text-anchor="middle" font-family="&quot;Liberation Serif&quot;, serif" fill="#1c1c1c" stroke="#1c1c1c" stroke-width="0.28">69</text>
<line x1="327.4" y1="325.2" x2="327.4" y2="327.2" stroke="#1c1c1c" stroke-width="0.9" />
<text transform="translate(327.4,335.6) scale(1,0.9)" font-size="8.5" text-anchor="middle" font-family="&quot;Liberation Serif&quot;, serif" fill="#1c1c1c" stroke="#1c1c1c" stroke-width="0.28">70</text>
<line x1="352.2" y1="325.2" x2="352.2" y2="327.2" stroke="#1c1c1c" stroke-width="0.9" />
<text transform="translate(352.2,335.6) scale(1,0.9)" font-size="8.5" text-anchor="middle" font-family="&quot;Liberation Serif&quot;, serif" fill="#1c1c1c" stroke="#1c1c1c" stroke-width="0.28">71</text>
<line x1="376.4" y1="325.2" x2="376.4" y2="327.2" stroke="#1c1c1c" stroke-width="0.9" />
<text transform="translate(376.4,335.6) scale(1,0.9)" font-size="8.5" text-anchor="middle" font-family="&quot;Liberation Serif&quot;, serif" fill="#1c1c1c" stroke="#1c1c1c" stroke-width="0.28">72</text>
<line x1="401.2" y1="325.2" x2="401.2" y2="327.2" stroke="#1c1c1c" stroke-width="0.9" />
<text transform="translate(401.2,335.6) scale(1,0.9)" font-size="8.5" text-anchor="middle" font-family="&quot;Liberation Serif&quot;, serif" fill="#1c1c1c" stroke="#1c1c1c" stroke-width="0.28">73</text>
<line x1="290.15" y1="325.2" x2="290.15" y2="326.5" stroke="#1c1c1c" stroke-width="0.75" />
<line x1="315" y1="325.2" x2="315" y2="326.5" stroke="#1c1c1c" stroke-width="0.75" />
<line x1="339.8" y1="325.2" x2="339.8" y2="326.5" stroke="#1c1c1c" stroke-width="0.75" />
<line x1="364.3" y1="325.2" x2="364.3" y2="326.5" stroke="#1c1c1c" stroke-width="0.75" />
<line x1="388.8" y1="325.2" x2="388.8" y2="326.5" stroke="#1c1c1c" stroke-width="0.75" />
<defs><linearGradient id="bbg2" x1="0" y1="0" x2="0.5" y2="1"><stop offset="0" stop-color="#c3dbd1"/><stop offset="1" stop-color="#d5e3eb"/></linearGradient></defs>
<rect x="486.28" y="224.2" width="11.09" height="7" fill="#f8efc6" stroke="#fbf7ea" stroke-width="0.6"/>
<rect x="500" y="210.18" width="11.09" height="21.02" fill="#f8efc6" stroke="#fbf7ea" stroke-width="0.6"/>
<rect x="513.72" y="217.19" width="11.09" height="14.01" fill="#f8efc6" stroke="#fbf7ea" stroke-width="0.6"/>
<rect x="527.45" y="217.19" width="11.09" height="14.01" fill="#f8efc6" stroke="#fbf7ea" stroke-width="0.6"/>
<rect x="541.17" y="203.18" width="11.09" height="28.02" fill="#f8efc6" stroke="#fbf7ea" stroke-width="0.6"/>
<rect x="554.6" y="227.7" width="11.09" height="3.5" fill="#f8efc6" stroke="#fbf7ea" stroke-width="0.6"/>
<rect x="568.32" y="224.2" width="11.09" height="7" fill="#f8efc6" stroke="#fbf7ea" stroke-width="0.6"/>
<rect x="582.04" y="224.2" width="11.09" height="7" fill="#f8efc6" stroke="#fbf7ea" stroke-width="0.6"/>
<rect x="595.77" y="227.7" width="11.09" height="3.5" fill="#f8efc6" stroke="#fbf7ea" stroke-width="0.6"/>
<rect x="608.3" y="242.78" width="3.52" height="8.1" fill="#c6d4e6" />
<rect x="608.3" y="252.99" width="8.49" height="8.1" fill="#c6d4e6" />
<rect x="608.3" y="263.8" width="8.49" height="8.1" fill="#c6d4e6" />
<rect x="608.3" y="274.02" width="35.64" height="8.1" fill="#c6d4e6" />
<rect x="608.3" y="284.53" width="26.3" height="8.1" fill="#c6d4e6" />
<rect x="608.3" y="295.04" width="31.26" height="8.1" fill="#c6d4e6" />
<rect x="608.3" y="305.55" width="17.54" height="8.1" fill="#c6d4e6" />
<rect x="485.4" y="231.2" width="122.9" height="94" fill="url(#bbg2)" />
<line x1="511.68" y1="304.49" x2="580.58" y2="251.64" stroke="#e4a498" stroke-width="0.8" stroke-dasharray="2.2 2.2"/>
<circle cx="493.58" cy="303.61" r="1.95" fill="url(#ball)"/>
<circle cx="494.45" cy="309.45" r="1.95" fill="url(#ball)"/>
<circle cx="499.71" cy="310.62" r="1.95" fill="url(#ball)"/>
<circle cx="503.21" cy="300.4" r="1.95" fill="url(#ball)"/>
<circle cx="504.38" cy="305.95" r="1.95" fill="url(#ball)"/>
<circle cx="506.13" cy="304.78" r="1.95" fill="url(#ball)"/>
<circle cx="508.47" cy="301.28" r="1.95" fill="url(#ball)"/>
<circle cx="510.51" cy="293.39" r="1.95" fill="url(#ball)"/>
<circle cx="514.89" cy="294.85" r="1.95" fill="url(#ball)"/>
<circle cx="520.44" cy="280.55" r="1.95" fill="url(#ball)"/>
<circle cx="521.61" cy="283.18" r="1.95" fill="url(#ball)"/>
<circle cx="525.4" cy="288.72" r="1.95" fill="url(#ball)"/>
<circle cx="526.86" cy="298.36" r="1.95" fill="url(#ball)"/>
<circle cx="530.07" cy="287.85" r="1.95" fill="url(#ball)"/>
<circle cx="529.49" cy="298.65" r="1.95" fill="url(#ball)"/>
<circle cx="537.37" cy="282.01" r="1.95" fill="url(#ball)"/>
<circle cx="540.88" cy="284.34" r="1.95" fill="url(#ball)"/>
<circle cx="542.04" cy="301.86" r="1.95" fill="url(#ball)"/>
<circle cx="544.09" cy="282.01" r="1.95" fill="url(#ball)"/>
<circle cx="544.67" cy="275.29" r="1.95" fill="url(#ball)"/>
<circle cx="545.84" cy="279.67" r="1.95" fill="url(#ball)"/>
<circle cx="547.3" cy="284.64" r="1.95" fill="url(#ball)"/>
<circle cx="548.47" cy="275" r="1.95" fill="url(#ball)"/>
<circle cx="552.26" cy="281.42" r="1.95" fill="url(#ball)"/>
<circle cx="554.31" cy="278.8" r="1.95" fill="url(#ball)"/>
<circle cx="574.45" cy="261.28" r="1.95" fill="url(#ball)"/>
<circle cx="578.25" cy="269.45" r="1.95" fill="url(#ball)"/>
<circle cx="582.04" cy="247.85" r="1.95" fill="url(#ball)"/>
<circle cx="587.01" cy="263.03" r="1.95" fill="url(#ball)"/>
<circle cx="594.89" cy="255.44" r="1.95" fill="url(#ball)"/>
<rect x="485.4" y="231.2" width="122.9" height="94" fill="none" stroke="#1c1c1c" stroke-width="1.15"/>
<line x1="483.1" y1="325.2" x2="485.4" y2="325.2" stroke="#1c1c1c" stroke-width="0.9" />
<text transform="translate(482,328.3) scale(1,0.9)" font-size="8.5" text-anchor="end" font-family="&quot;Liberation Serif&quot;, serif" fill="#1c1c1c" stroke="#1c1c1c" stroke-width="0.28">76</text>
<line x1="483.1" y1="303.9" x2="485.4" y2="303.9" stroke="#1c1c1c" stroke-width="0.9" />
<text transform="translate(482,307) scale(1,0.9)" font-size="8.5" text-anchor="end" font-family="&quot;Liberation Serif&quot;, serif" fill="#1c1c1c" stroke="#1c1c1c" stroke-width="0.28">77</text>
<line x1="483.1" y1="282.9" x2="485.4" y2="282.9" stroke="#1c1c1c" stroke-width="0.9" />
<text transform="translate(482,286) scale(1,0.9)" font-size="8.5" text-anchor="end" font-family="&quot;Liberation Serif&quot;, serif" fill="#1c1c1c" stroke="#1c1c1c" stroke-width="0.28">78</text>
<line x1="483.1" y1="262.2" x2="485.4" y2="262.2" stroke="#1c1c1c" stroke-width="0.9" />
<text transform="translate(482,265.3) scale(1,0.9)" font-size="8.5" text-anchor="end" font-family="&quot;Liberation Serif&quot;, serif" fill="#1c1c1c" stroke="#1c1c1c" stroke-width="0.28">79</text>
<line x1="483.1" y1="241.1" x2="485.4" y2="241.1" stroke="#1c1c1c" stroke-width="0.9" />
<text transform="translate(482,244.2) scale(1,0.9)" font-size="8.5" text-anchor="end" font-family="&quot;Liberation Serif&quot;, serif" fill="#1c1c1c" stroke="#1c1c1c" stroke-width="0.28">80</text>
<line x1="484.1" y1="314.55" x2="485.4" y2="314.55" stroke="#1c1c1c" stroke-width="0.75" />
<line x1="484.1" y1="293.4" x2="485.4" y2="293.4" stroke="#1c1c1c" stroke-width="0.75" />
<line x1="484.1" y1="272.55" x2="485.4" y2="272.55" stroke="#1c1c1c" stroke-width="0.75" />
<line x1="484.1" y1="251.65" x2="485.4" y2="251.65" stroke="#1c1c1c" stroke-width="0.75" />
<line x1="485.4" y1="325.2" x2="485.4" y2="327.2" stroke="#1c1c1c" stroke-width="0.9" />
<text transform="translate(485.4,335.6) scale(1,0.9)" font-size="8.5" text-anchor="middle" font-family="&quot;Liberation Serif&quot;, serif" fill="#1c1c1c" stroke="#1c1c1c" stroke-width="0.28">76</text>
<line x1="512.6" y1="325.2" x2="512.6" y2="327.2" stroke="#1c1c1c" stroke-width="0.9" />
<text transform="translate(512.6,335.6) scale(1,0.9)" font-size="8.5" text-anchor="middle" font-family="&quot;Liberation Serif&quot;, serif" fill="#1c1c1c" stroke="#1c1c1c" stroke-width="0.28">77</text>
<line x1="539.7" y1="325.2" x2="539.7" y2="327.2" stroke="#1c1c1c" stroke-width="0.9" />
<text transform="translate(539.7,335.6) scale(1,0.9)" font-size="8.5" text-anchor="middle" font-family="&quot;Liberation Serif&quot;, serif" fill="#1c1c1c" stroke="#1c1c1c" stroke-width="0.28">78</text>
<line x1="567.2" y1="325.2" x2="567.2" y2="327.2" stroke="#1c1c1c" stroke-width="0.9" />
<text transform="translate(567.2,335.6) scale(1,0.9)" font-size="8.5" text-anchor="middle" font-family="&quot;Liberation Serif&quot;, serif" fill="#1c1c1c" stroke="#1c1c1c" stroke-width="0.28">79</text>
<line x1="594.3" y1="325.2" x2="594.3" y2="327.2" stroke="#1c1c1c" stroke-width="0.9" />
<text transform="translate(594.3,335.6) scale(1,0.9)" font-size="8.5" text-anchor="middle" font-family="&quot;Liberation Serif&quot;, serif" fill="#1c1c1c" stroke="#1c1c1c" stroke-width="0.28">80</text>
<line x1="499" y1="325.2" x2="499" y2="326.5" stroke="#1c1c1c" stroke-width="0.75" />
<line x1="526.15" y1="325.2" x2="526.15" y2="326.5" stroke="#1c1c1c" stroke-width="0.75" />
<line x1="553.45" y1="325.2" x2="553.45" y2="326.5" stroke="#1c1c1c" stroke-width="0.75" />
<line x1="580.75" y1="325.2" x2="580.75" y2="326.5" stroke="#1c1c1c" stroke-width="0.75" />
<text transform="translate(50.1,283.3) rotate(-90)" font-size="11" text-anchor="middle" font-family="&quot;Liberation Serif&quot;, serif" font-weight="bold" font-style="italic" fill="#111"  stroke="#111" stroke-width="0.26">P<tspan font-size="6.4" dy="2.7" font-weight="normal">v</tspan></text>
<text transform="translate(341.1,345.8)" font-size="10.5" text-anchor="middle" font-family="&quot;Liberation Serif&quot;, serif" font-weight="bold" font-style="italic" fill="#111"  stroke="#111" stroke-width="0.25">T<tspan font-size="7.2" dy="2.7" font-weight="normal">v</tspan></text>
<text transform="translate(607.8,346)" font-size="6.8" text-anchor="middle" font-family="&quot;Liberation Sans&quot;, sans-serif" font-weight="bold" fill="#111" >Times (d)</text>
<defs><linearGradient id="tl" x1="0" y1="0" x2="1" y2="0"><stop offset="0" stop-color="#f3f6f9"/><stop offset="0.45" stop-color="#ebf2e6"/><stop offset="0.62" stop-color="#dfedd6"/><stop offset="0.76" stop-color="#c9e1b8"/><stop offset="0.86" stop-color="#a6ca8e"/><stop offset="0.93" stop-color="#7eae5e"/><stop offset="1" stop-color="#4e8234"/></linearGradient></defs>
<rect x="44.9" y="349.6" width="578.5" height="6.6" fill="url(#tl)" />
<path d="M623.2,347.9 L629.6,352.9 L623.2,357.9 Z" fill="#4e8234"/>
<line x1="114.4" y1="356.2" x2="114.4" y2="362" stroke="#e4eddd" stroke-width="1.6" />
<text transform="translate(114.4,372.7)" font-size="9.2" text-anchor="middle" font-family="&quot;Liberation Sans&quot;, sans-serif" font-weight="bold" fill="#111" >7</text>
<line x1="344" y1="356.2" x2="344" y2="362" stroke="#d2e7c4" stroke-width="1.6" />
<text transform="translate(344,372.7)" font-size="9.2" text-anchor="middle" font-family="&quot;Liberation Sans&quot;, sans-serif" font-weight="bold" fill="#111" >14</text>
<line x1="558" y1="356.2" x2="558" y2="362" stroke="#bedaa6" stroke-width="1.6" />
<text transform="translate(558,372.7)" font-size="9.2" text-anchor="middle" font-family="&quot;Liberation Sans&quot;, sans-serif" font-weight="bold" fill="#111" >28</text>
<rect x="68.4" y="403.9" width="247.2" height="124.1" fill="#efeeea" />
<clipPath id="cc"><rect x="68.4" y="403.9" width="247.2" height="124.1"/></clipPath>
<path d="M68.4,528 L274.4,403.9 L315.6,403.9 L315.6,428.72 Z" fill="#cdd8e1" clip-path="url(#cc)"/>
<line x1="68.4" y1="528" x2="315.6" y2="403.9" stroke="#6f808c" stroke-width="0.75" />
<line x1="68.4" y1="528" x2="274.4" y2="403.9" stroke="#5050c8" stroke-width="0.8" stroke-dasharray="1.4 1.2"/>
<line x1="68.4" y1="528" x2="315.6" y2="428.72" stroke="#5050c8" stroke-width="0.8" stroke-dasharray="1.4 1.2"/>
<circle cx="186.5" cy="466" r="2.2" fill="#7a50e8" fill-opacity="0.8"/>
<circle cx="188" cy="465.6" r="2.2" fill="#40b4f0" fill-opacity="0.8"/>
<circle cx="190.5" cy="466.3" r="2.2" fill="#9048f0" fill-opacity="0.8"/>
<circle cx="192.5" cy="467.2" r="2.2" fill="#9a40f0" fill-opacity="0.8"/>
<circle cx="194" cy="466.5" r="2.2" fill="#7a50f0" fill-opacity="0.8"/>
<circle cx="196" cy="467.2" r="2.2" fill="#a048f0" fill-opacity="0.8"/>
<circle cx="198" cy="466.2" r="2.2" fill="#9050f0" fill-opacity="0.8"/>
<circle cx="199.3" cy="465.5" r="2.2" fill="#a458f0" fill-opacity="0.8"/>
<circle cx="191.5" cy="465" r="2.2" fill="#6080f0" fill-opacity="0.8"/>
<circle cx="195.5" cy="467.6" r="2.2" fill="#9440e8" fill-opacity="0.8"/>
<circle cx="237" cy="443" r="2.2" fill="#7a60f0" fill-opacity="0.8"/>
<circle cx="239" cy="442" r="2.2" fill="#6a80f0" fill-opacity="0.8"/>
<circle cx="241" cy="441.5" r="2.2" fill="#58a0f0" fill-opacity="0.8"/>
<circle cx="243" cy="441.2" r="2.2" fill="#8a70f0" fill-opacity="0.8"/>
<circle cx="245" cy="441.5" r="2.2" fill="#7a6af0" fill-opacity="0.8"/>
<circle cx="247" cy="440.5" r="2.2" fill="#8a58e8" fill-opacity="0.8"/>
<circle cx="249" cy="440" r="2.2" fill="#9a60f0" fill-opacity="0.8"/>
<circle cx="238.5" cy="442.8" r="2.2" fill="#8868f0" fill-opacity="0.8"/>
<circle cx="244" cy="440.6" r="2.2" fill="#60b0f0" fill-opacity="0.8"/>
<circle cx="256.8" cy="433" r="2.2" fill="#60d0e8" fill-opacity="0.8"/>
<circle cx="258.5" cy="432.3" r="2.2" fill="#a8e060" fill-opacity="0.8"/>
<circle cx="260" cy="432" r="2.2" fill="#70d890" fill-opacity="0.8"/>
<circle cx="262.5" cy="431.6" r="2.2" fill="#e05050" fill-opacity="0.8"/>
<circle cx="264.5" cy="431" r="2.2" fill="#9a58f0" fill-opacity="0.8"/>
<circle cx="266.3" cy="430.5" r="2.2" fill="#a060f0" fill-opacity="0.8"/>
<circle cx="262.2" cy="432.8" r="2.2" fill="#9060f0" fill-opacity="0.8"/>
<circle cx="258.5" cy="433" r="2.2" fill="#50c8f0" fill-opacity="0.8"/>
<rect x="68.4" y="403.9" width="247.2" height="124.1" fill="none" stroke="#1c1c1c" stroke-width="1"/>
<line x1="66.2" y1="528" x2="68.4" y2="528" stroke="#1c1c1c" stroke-width="0.8" />
<text transform="translate(64.8,530.2) scale(1,0.8)" font-size="8.1" text-anchor="end" font-family="&quot;Liberation Serif&quot;, serif" fill="#1c1c1c" stroke="#1c1c1c" stroke-width="0.28">0</text>
<line x1="68.4" y1="528" x2="68.4" y2="530" stroke="#1c1c1c" stroke-width="0.8" />
<text transform="translate(68.4,537.4) scale(1,0.8)" font-size="8.1" text-anchor="middle" font-family="&quot;Liberation Serif&quot;, serif" fill="#1c1c1c" stroke="#1c1c1c" stroke-width="0.28">0</text>
<line x1="66.2" y1="515.59" x2="68.4" y2="515.59" stroke="#1c1c1c" stroke-width="0.8" />
<text transform="translate(64.8,517.79) scale(1,0.8)" font-size="8.1" text-anchor="end" font-family="&quot;Liberation Serif&quot;, serif" fill="#1c1c1c" stroke="#1c1c1c" stroke-width="0.28">10</text>
<line x1="93.12" y1="528" x2="93.12" y2="530" stroke="#1c1c1c" stroke-width="0.8" />
<text transform="translate(93.12,537.4) scale(1,0.8)" font-size="8.1" text-anchor="middle" font-family="&quot;Liberation Serif&quot;, serif" fill="#1c1c1c" stroke="#1c1c1c" stroke-width="0.28">10</text>
<line x1="66.2" y1="503.18" x2="68.4" y2="503.18" stroke="#1c1c1c" stroke-width="0.8" />
<text transform="translate(64.8,505.38) scale(1,0.8)" font-size="8.1" text-anchor="end" font-family="&quot;Liberation Serif&quot;, serif" fill="#1c1c1c" stroke="#1c1c1c" stroke-width="0.28">20</text>
<line x1="117.84" y1="528" x2="117.84" y2="530" stroke="#1c1c1c" stroke-width="0.8" />
<text transform="translate(117.84,537.4) scale(1,0.8)" font-size="8.1" text-anchor="middle" font-family="&quot;Liberation Serif&quot;, serif" fill="#1c1c1c" stroke="#1c1c1c" stroke-width="0.28">20</text>
<line x1="66.2" y1="490.77" x2="68.4" y2="490.77" stroke="#1c1c1c" stroke-width="0.8" />
<text transform="translate(64.8,492.97) scale(1,0.8)" font-size="8.1" text-anchor="end" font-family="&quot;Liberation Serif&quot;, serif" fill="#1c1c1c" stroke="#1c1c1c" stroke-width="0.28">30</text>
<line x1="142.56" y1="528" x2="142.56" y2="530" stroke="#1c1c1c" stroke-width="0.8" />
<text transform="translate(142.56,537.4) scale(1,0.8)" font-size="8.1" text-anchor="middle" font-family="&quot;Liberation Serif&quot;, serif" fill="#1c1c1c" stroke="#1c1c1c" stroke-width="0.28">30</text>
<line x1="66.2" y1="478.36" x2="68.4" y2="478.36" stroke="#1c1c1c" stroke-width="0.8" />
<text transform="translate(64.8,480.56) scale(1,0.8)" font-size="8.1" text-anchor="end" font-family="&quot;Liberation Serif&quot;, serif" fill="#1c1c1c" stroke="#1c1c1c" stroke-width="0.28">40</text>
<line x1="167.28" y1="528" x2="167.28" y2="530" stroke="#1c1c1c" stroke-width="0.8" />
<text transform="translate(167.28,537.4) scale(1,0.8)" font-size="8.1" text-anchor="middle" font-family="&quot;Liberation Serif&quot;, serif" fill="#1c1c1c" stroke="#1c1c1c" stroke-width="0.28">40</text>
<line x1="66.2" y1="465.95" x2="68.4" y2="465.95" stroke="#1c1c1c" stroke-width="0.8" />
<text transform="translate(64.8,468.15) scale(1,0.8)" font-size="8.1" text-anchor="end" font-family="&quot;Liberation Serif&quot;, serif" fill="#1c1c1c" stroke="#1c1c1c" stroke-width="0.28">50</text>
<line x1="192" y1="528" x2="192" y2="530" stroke="#1c1c1c" stroke-width="0.8" />
<text transform="translate(192,537.4) scale(1,0.8)" font-size="8.1" text-anchor="middle" font-family="&quot;Liberation Serif&quot;, serif" fill="#1c1c1c" stroke="#1c1c1c" stroke-width="0.28">50</text>
<line x1="66.2" y1="453.54" x2="68.4" y2="453.54" stroke="#1c1c1c" stroke-width="0.8" />
<text transform="translate(64.8,455.74) scale(1,0.8)" font-size="8.1" text-anchor="end" font-family="&quot;Liberation Serif&quot;, serif" fill="#1c1c1c" stroke="#1c1c1c" stroke-width="0.28">60</text>
<line x1="216.72" y1="528" x2="216.72" y2="530" stroke="#1c1c1c" stroke-width="0.8" />
<text transform="translate(216.72,537.4) scale(1,0.8)" font-size="8.1" text-anchor="middle" font-family="&quot;Liberation Serif&quot;, serif" fill="#1c1c1c" stroke="#1c1c1c" stroke-width="0.28">60</text>
<line x1="66.2" y1="441.13" x2="68.4" y2="441.13" stroke="#1c1c1c" stroke-width="0.8" />
<text transform="translate(64.8,443.33) scale(1,0.8)" font-size="8.1" text-anchor="end" font-family="&quot;Liberation Serif&quot;, serif" fill="#1c1c1c" stroke="#1c1c1c" stroke-width="0.28">70</text>
<line x1="241.44" y1="528" x2="241.44" y2="530" stroke="#1c1c1c" stroke-width="0.8" />
<text transform="translate(241.44,537.4) scale(1,0.8)" font-size="8.1" text-anchor="middle" font-family="&quot;Liberation Serif&quot;, serif" fill="#1c1c1c" stroke="#1c1c1c" stroke-width="0.28">70</text>
<line x1="66.2" y1="428.72" x2="68.4" y2="428.72" stroke="#1c1c1c" stroke-width="0.8" />
<text transform="translate(64.8,430.92) scale(1,0.8)" font-size="8.1" text-anchor="end" font-family="&quot;Liberation Serif&quot;, serif" fill="#1c1c1c" stroke="#1c1c1c" stroke-width="0.28">80</text>
<line x1="266.16" y1="528" x2="266.16" y2="530" stroke="#1c1c1c" stroke-width="0.8" />
<text transform="translate(266.16,537.4) scale(1,0.8)" font-size="8.1" text-anchor="middle" font-family="&quot;Liberation Serif&quot;, serif" fill="#1c1c1c" stroke="#1c1c1c" stroke-width="0.28">80</text>
<line x1="66.2" y1="416.31" x2="68.4" y2="416.31" stroke="#1c1c1c" stroke-width="0.8" />
<text transform="translate(64.8,418.51) scale(1,0.8)" font-size="8.1" text-anchor="end" font-family="&quot;Liberation Serif&quot;, serif" fill="#1c1c1c" stroke="#1c1c1c" stroke-width="0.28">90</text>
<line x1="290.88" y1="528" x2="290.88" y2="530" stroke="#1c1c1c" stroke-width="0.8" />
<text transform="translate(290.88,537.4) scale(1,0.8)" font-size="8.1" text-anchor="middle" font-family="&quot;Liberation Serif&quot;, serif" fill="#1c1c1c" stroke="#1c1c1c" stroke-width="0.28">90</text>
<line x1="66.2" y1="403.9" x2="68.4" y2="403.9" stroke="#1c1c1c" stroke-width="0.8" />
<text transform="translate(64.8,406.1) scale(1,0.8)" font-size="8.1" text-anchor="end" font-family="&quot;Liberation Serif&quot;, serif" fill="#1c1c1c" stroke="#1c1c1c" stroke-width="0.28">100</text>
<line x1="315.6" y1="528" x2="315.6" y2="530" stroke="#1c1c1c" stroke-width="0.8" />
<text transform="translate(315.6,537.4) scale(1,0.8)" font-size="8.1" text-anchor="middle" font-family="&quot;Liberation Serif&quot;, serif" fill="#1c1c1c" stroke="#1c1c1c" stroke-width="0.28">100</text>
<line x1="67.1" y1="521.79" x2="68.4" y2="521.79" stroke="#1c1c1c" stroke-width="0.7" />
<line x1="80.76" y1="528" x2="80.76" y2="529.3" stroke="#1c1c1c" stroke-width="0.7" />
<line x1="67.1" y1="509.38" x2="68.4" y2="509.38" stroke="#1c1c1c" stroke-width="0.7" />
<line x1="105.48" y1="528" x2="105.48" y2="529.3" stroke="#1c1c1c" stroke-width="0.7" />
<line x1="67.1" y1="496.98" x2="68.4" y2="496.98" stroke="#1c1c1c" stroke-width="0.7" />
<line x1="130.2" y1="528" x2="130.2" y2="529.3" stroke="#1c1c1c" stroke-width="0.7" />
<line x1="67.1" y1="484.56" x2="68.4" y2="484.56" stroke="#1c1c1c" stroke-width="0.7" />
<line x1="154.92" y1="528" x2="154.92" y2="529.3" stroke="#1c1c1c" stroke-width="0.7" />
<line x1="67.1" y1="472.15" x2="68.4" y2="472.15" stroke="#1c1c1c" stroke-width="0.7" />
<line x1="179.64" y1="528" x2="179.64" y2="529.3" stroke="#1c1c1c" stroke-width="0.7" />
<line x1="67.1" y1="459.75" x2="68.4" y2="459.75" stroke="#1c1c1c" stroke-width="0.7" />
<line x1="204.36" y1="528" x2="204.36" y2="529.3" stroke="#1c1c1c" stroke-width="0.7" />
<line x1="67.1" y1="447.33" x2="68.4" y2="447.33" stroke="#1c1c1c" stroke-width="0.7" />
<line x1="229.08" y1="528" x2="229.08" y2="529.3" stroke="#1c1c1c" stroke-width="0.7" />
<line x1="67.1" y1="434.92" x2="68.4" y2="434.92" stroke="#1c1c1c" stroke-width="0.7" />
<line x1="253.8" y1="528" x2="253.8" y2="529.3" stroke="#1c1c1c" stroke-width="0.7" />
<line x1="67.1" y1="422.51" x2="68.4" y2="422.51" stroke="#1c1c1c" stroke-width="0.7" />
<line x1="278.52" y1="528" x2="278.52" y2="529.3" stroke="#1c1c1c" stroke-width="0.7" />
<line x1="67.1" y1="410.11" x2="68.4" y2="410.11" stroke="#1c1c1c" stroke-width="0.7" />
<line x1="303.24" y1="528" x2="303.24" y2="529.3" stroke="#1c1c1c" stroke-width="0.7" />
<defs><linearGradient id="rb" x1="0" y1="1" x2="0" y2="0"><stop offset="0" stop-color="#8a10f0"/><stop offset="0.2" stop-color="#4a20f0"/><stop offset="0.33" stop-color="#2060ff"/><stop offset="0.44" stop-color="#00e0f0"/><stop offset="0.56" stop-color="#30f040"/><stop offset="0.7" stop-color="#f0f000"/><stop offset="0.82" stop-color="#ff8000"/><stop offset="0.95" stop-color="#ff1010"/><stop offset="1" stop-color="#ff0000"/></linearGradient></defs>
<rect x="316.8" y="404.1" width="6.4" height="123.9" fill="url(#rb)" />
<text transform="translate(328.7,465.7) rotate(-90)" font-size="6.5" text-anchor="middle" font-family="&quot;Liberation Serif&quot;, serif" fill="#1c1c1c" stroke="#1c1c1c" stroke-width="0.2">Increasing Density →</text>
<text transform="translate(197.7,442)" font-size="7.6" text-anchor="middle" font-family="&quot;Liberation Sans&quot;, sans-serif" font-weight="bold" fill="#111" >+20%</text>
<text transform="translate(247.6,470.5)" font-size="7.6" text-anchor="middle" font-family="&quot;Liberation Sans&quot;, sans-serif" font-weight="bold" fill="#111" >-20%</text>
<text transform="translate(47.7,464) rotate(-90)" font-size="14.6" text-anchor="middle" font-family="&quot;Liberation Serif&quot;, serif" font-style="italic" fill="#1a1a1a"  stroke="#1a1a1a" stroke-width="0.26">P<tspan font-size="9" dy="3.2">v</tspan></text>
<text transform="translate(193.3,550.7)" font-size="14.6" text-anchor="middle" font-family="&quot;Liberation Serif&quot;, serif" font-style="italic" fill="#1a1a1a"  stroke="#1a1a1a" stroke-width="0.26">T<tspan font-size="9" dy="3.2">v</tspan></text>
<line x1="421.3" y1="401.3" x2="421.3" y2="530.6" stroke="#1c1c1c" stroke-width="1" />
<line x1="421.3" y1="530.6" x2="491.8" y2="530.6" stroke="#1c1c1c" stroke-width="1" />
<line x1="419" y1="530.6" x2="421.3" y2="530.6" stroke="#1c1c1c" stroke-width="0.9" />
<text transform="translate(417.3,533.5) scale(1,0.72)" font-size="10.5" text-anchor="end" font-family="&quot;Liberation Serif&quot;, serif" fill="#1c1c1c" stroke="#1c1c1c" stroke-width="0.28">0.0</text>
<line x1="420" y1="518.85" x2="421.3" y2="518.85" stroke="#1c1c1c" stroke-width="0.7" />
<line x1="419" y1="507.1" x2="421.3" y2="507.1" stroke="#1c1c1c" stroke-width="0.9" />
<text transform="translate(417.3,510) scale(1,0.72)" font-size="10.5" text-anchor="end" font-family="&quot;Liberation Serif&quot;, serif" fill="#1c1c1c" stroke="#1c1c1c" stroke-width="0.28">0.2</text>
<line x1="420" y1="495.35" x2="421.3" y2="495.35" stroke="#1c1c1c" stroke-width="0.7" />
<line x1="419" y1="483.6" x2="421.3" y2="483.6" stroke="#1c1c1c" stroke-width="0.9" />
<text transform="translate(417.3,486.5) scale(1,0.72)" font-size="10.5" text-anchor="end" font-family="&quot;Liberation Serif&quot;, serif" fill="#1c1c1c" stroke="#1c1c1c" stroke-width="0.28">0.4</text>
<line x1="420" y1="471.85" x2="421.3" y2="471.85" stroke="#1c1c1c" stroke-width="0.7" />
<line x1="419" y1="460.1" x2="421.3" y2="460.1" stroke="#1c1c1c" stroke-width="0.9" />
<text transform="translate(417.3,463) scale(1,0.72)" font-size="10.5" text-anchor="end" font-family="&quot;Liberation Serif&quot;, serif" fill="#1c1c1c" stroke="#1c1c1c" stroke-width="0.28">0.6</text>
<line x1="420" y1="448.35" x2="421.3" y2="448.35" stroke="#1c1c1c" stroke-width="0.7" />
<line x1="419" y1="436.6" x2="421.3" y2="436.6" stroke="#1c1c1c" stroke-width="0.9" />
<text transform="translate(417.3,439.5) scale(1,0.72)" font-size="10.5" text-anchor="end" font-family="&quot;Liberation Serif&quot;, serif" fill="#1c1c1c" stroke="#1c1c1c" stroke-width="0.28">0.8</text>
<line x1="420" y1="424.85" x2="421.3" y2="424.85" stroke="#1c1c1c" stroke-width="0.7" />
<line x1="419" y1="413.1" x2="421.3" y2="413.1" stroke="#1c1c1c" stroke-width="0.9" />
<text transform="translate(417.3,416) scale(1,0.72)" font-size="10.5" text-anchor="end" font-family="&quot;Liberation Serif&quot;, serif" fill="#1c1c1c" stroke="#1c1c1c" stroke-width="0.28">1.0</text>
<rect x="422.6" y="420" width="5.3" height="110.6" fill="#e09e98" />
<rect x="428.5" y="420" width="5.1" height="110.6" fill="#95b0d3" />
<rect x="437" y="525.1" width="5.1" height="5.5" fill="#e09e98" />
<rect x="442.8" y="525.1" width="4.9" height="5.5" fill="#95b0d3" />
<line x1="428.5" y1="530.6" x2="428.5" y2="532.8" stroke="#1c1c1c" stroke-width="0.9" />
<text transform="translate(428.5,543.2)" font-size="10.5" text-anchor="middle" font-family="&quot;Liberation Serif&quot;, serif" font-weight="bold" font-style="italic" fill="#111"  stroke="#111" stroke-width="0.25">r</text>
<line x1="442.3" y1="530.6" x2="442.3" y2="532.8" stroke="#1c1c1c" stroke-width="0.9" />
<text transform="translate(442.3,543.2)" font-size="10.5" text-anchor="middle" font-family="&quot;Liberation Serif&quot;, serif" font-weight="bold" font-style="italic" fill="#111"  stroke="#111" stroke-width="0.25">v</text>
<line x1="456.2" y1="530.6" x2="456.2" y2="532.8" stroke="#1c1c1c" stroke-width="0.9" />
<text transform="translate(456.2,543.2)" font-size="10.5" text-anchor="middle" font-family="&quot;Liberation Serif&quot;, serif" font-weight="bold" font-style="italic" fill="#111"  stroke="#111" stroke-width="0.25">a</text>
<line x1="470.4" y1="530.6" x2="470.4" y2="532.8" stroke="#1c1c1c" stroke-width="0.9" />
<text transform="translate(470.4,543.2)" font-size="10.5" text-anchor="middle" font-family="&quot;Liberation Serif&quot;, serif" font-weight="bold" font-style="italic" fill="#111"  stroke="#111" stroke-width="0.25">k</text>
<line x1="484.3" y1="530.6" x2="484.3" y2="532.8" stroke="#1c1c1c" stroke-width="0.9" />
<text transform="translate(484.3,543.2)" font-size="10.5" text-anchor="middle" font-family="&quot;Liberation Serif&quot;, serif" font-weight="bold" font-style="italic" fill="#111"  stroke="#111" stroke-width="0.25">m</text>
<line x1="435.4" y1="530.6" x2="435.4" y2="531.9" stroke="#1c1c1c" stroke-width="0.7" />
<line x1="449.3" y1="530.6" x2="449.3" y2="531.9" stroke="#1c1c1c" stroke-width="0.7" />
<line x1="463.3" y1="530.6" x2="463.3" y2="531.9" stroke="#1c1c1c" stroke-width="0.7" />
<line x1="477.4" y1="530.6" x2="477.4" y2="531.9" stroke="#1c1c1c" stroke-width="0.7" />
<text transform="translate(454,555.8)" font-size="12" text-anchor="middle" font-family="&quot;Liberation Serif&quot;, serif" fill="#1c1c1c"  stroke="#1c1c1c" stroke-width="0.26">indices</text>
<text transform="translate(396,473.7) rotate(-90)" font-size="11.9" text-anchor="middle" font-family="&quot;Liberation Serif&quot;, serif" fill="#1c1c1c"  stroke="#1c1c1c" stroke-width="0.26">Value</text>
<rect x="467" y="409.2" width="11.2" height="5.1" fill="#8eaad0" />
<rect x="467" y="422.9" width="11.2" height="5" fill="#e09c96" />
<text transform="translate(481.4,414)" font-size="10.4" font-family="&quot;Liberation Serif&quot;, serif" font-weight="bold" fill="#111"  stroke="#111" stroke-width="0.25">S<tspan font-size="6" dy="1.5">I</tspan></text>
<text transform="translate(481.4,427.6)" font-size="10.4" font-family="&quot;Liberation Serif&quot;, serif" font-weight="bold" fill="#111"  stroke="#111" stroke-width="0.25">S<tspan font-size="6" dy="1.8">TI</tspan></text>
<rect x="555.6" y="401.2" width="91.9" height="100.8" fill="#f5ece6" />
<defs><pattern id="hat" width="2" height="2" patternUnits="userSpaceOnUse"><rect width="2" height="2" fill="none"/><rect x="0" y="1.5" width="2" height="0.5" fill="#ffffff" fill-opacity="0.2"/><rect x="1.5" y="0" width="0.5" height="2" fill="#ffffff" fill-opacity="0.12"/></pattern></defs>
<defs><linearGradient id="g1" x1="0" y1="0" x2="0" y2="1"><stop offset="0" stop-color="#bd6660"/><stop offset="0.5" stop-color="#d6b2ae"/><stop offset="0.8" stop-color="#e3dbd9"/><stop offset="1" stop-color="#e6e6e6"/></linearGradient></defs>
<rect x="569.3" y="407.1" width="14.5" height="94.9" fill="#e4e2e0" />
<rect x="569.3" y="407.1" width="14.5" height="94.9" fill="url(#g1)" />
<rect x="569.3" y="407.1" width="14.5" height="94.9" fill="url(#hat)" />
<defs><linearGradient id="g2" x1="0" y1="0" x2="0" y2="1"><stop offset="0" stop-color="#dcc66e"/><stop offset="0.5" stop-color="#e2d8b4"/><stop offset="0.8" stop-color="#e5e2da"/><stop offset="1" stop-color="#e6e6e6"/></linearGradient></defs>
<rect x="594" y="451.2" width="14.7" height="50.8" fill="#e4e2e0" />
<rect x="594" y="451.2" width="14.7" height="50.8" fill="url(#g2)" />
<rect x="594" y="451.2" width="14.7" height="50.8" fill="url(#hat)" />
<defs><linearGradient id="g3" x1="0" y1="0" x2="0" y2="1"><stop offset="0" stop-color="#6e8fc0"/><stop offset="0.5" stop-color="#b6c2d4"/><stop offset="0.8" stop-color="#dedee0"/><stop offset="1" stop-color="#e6e6e6"/></linearGradient></defs>
<rect x="619.2" y="457.1" width="13.9" height="44.9" fill="#e4e2e0" />
<rect x="619.2" y="457.1" width="13.9" height="44.9" fill="url(#g3)" />
<rect x="619.2" y="457.1" width="13.9" height="44.9" fill="url(#hat)" />
<rect x="555.6" y="401.2" width="91.9" height="100.8" fill="none" stroke="#7a7070" stroke-width="0.9"/>
<line x1="553.6" y1="502" x2="555.6" y2="502" stroke="#444" stroke-width="0.8" />
<text transform="translate(552.4,504.1) scale(1,0.72)" font-size="8.4" text-anchor="end" font-family="&quot;Liberation Serif&quot;, serif" fill="#1c1c1c" stroke="#1c1c1c" stroke-width="0.28">0.0</text>
<line x1="554.4" y1="492.35" x2="555.6" y2="492.35" stroke="#444" stroke-width="0.6" />
<line x1="553.6" y1="482.71" x2="555.6" y2="482.71" stroke="#444" stroke-width="0.8" />
<text transform="translate(552.4,484.81) scale(1,0.72)" font-size="8.4" text-anchor="end" font-family="&quot;Liberation Serif&quot;, serif" fill="#1c1c1c" stroke="#1c1c1c" stroke-width="0.28">0.2</text>
<line x1="554.4" y1="473.06" x2="555.6" y2="473.06" stroke="#444" stroke-width="0.6" />
<line x1="553.6" y1="463.42" x2="555.6" y2="463.42" stroke="#444" stroke-width="0.8" />
<text transform="translate(552.4,465.52) scale(1,0.72)" font-size="8.4" text-anchor="end" font-family="&quot;Liberation Serif&quot;, serif" fill="#1c1c1c" stroke="#1c1c1c" stroke-width="0.28">0.4</text>
<line x1="554.4" y1="453.77" x2="555.6" y2="453.77" stroke="#444" stroke-width="0.6" />
<line x1="553.6" y1="444.12" x2="555.6" y2="444.12" stroke="#444" stroke-width="0.8" />
<text transform="translate(552.4,446.22) scale(1,0.72)" font-size="8.4" text-anchor="end" font-family="&quot;Liberation Serif&quot;, serif" fill="#1c1c1c" stroke="#1c1c1c" stroke-width="0.28">0.6</text>
<line x1="554.4" y1="434.48" x2="555.6" y2="434.48" stroke="#444" stroke-width="0.6" />
<line x1="553.6" y1="424.83" x2="555.6" y2="424.83" stroke="#444" stroke-width="0.8" />
<text transform="translate(552.4,426.93) scale(1,0.72)" font-size="8.4" text-anchor="end" font-family="&quot;Liberation Serif&quot;, serif" fill="#1c1c1c" stroke="#1c1c1c" stroke-width="0.28">0.8</text>
<line x1="554.4" y1="415.19" x2="555.6" y2="415.19" stroke="#444" stroke-width="0.6" />
<line x1="553.6" y1="405.54" x2="555.6" y2="405.54" stroke="#444" stroke-width="0.8" />
<text transform="translate(552.4,407.64) scale(1,0.72)" font-size="8.4" text-anchor="end" font-family="&quot;Liberation Serif&quot;, serif" fill="#1c1c1c" stroke="#1c1c1c" stroke-width="0.28">1.0</text>
<rect x="555.6" y="502" width="91.9" height="39.4" fill="#ebebeb" stroke="#5a5a5a" stroke-width="0.8"/>
<line x1="555.6" y1="520.5" x2="647.5" y2="520.5" stroke="#5a5a5a" stroke-width="0.8" />
<line x1="589.4" y1="502" x2="589.4" y2="520.5" stroke="#5a5a5a" stroke-width="0.8" />
<line x1="613.5" y1="502" x2="613.5" y2="520.5" stroke="#5a5a5a" stroke-width="0.8" />
<line x1="553.6" y1="502" x2="647.5" y2="502" stroke="#333" stroke-width="1.0" />
<text transform="translate(572.6,515.3)" font-size="7.8" text-anchor="middle" font-family="&quot;Liberation Serif&quot;, serif" fill="#1c1c1c"  stroke="#1c1c1c" stroke-width="0.19">R<tspan font-size="5.2" dy="-3.2">2</tspan></text>
<text transform="translate(602,515.2)" font-size="7.7" text-anchor="middle" font-family="&quot;Liberation Serif&quot;, serif" fill="#1c1c1c"  stroke="#1c1c1c" stroke-width="0.18">RMSE</text>
<text transform="translate(631.2,515.2)" font-size="7.4" text-anchor="middle" font-family="&quot;Liberation Serif&quot;, serif" fill="#1c1c1c"  stroke="#1c1c1c" stroke-width="0.18">MAE</text>
<text transform="translate(602,535.1)" font-size="10" text-anchor="middle" font-family="&quot;Liberation Serif&quot;, serif" fill="#1c1c1c"  stroke="#1c1c1c" stroke-width="0.24">Model evaluation</text>
<text transform="translate(536.3,456.2) rotate(-90)" font-size="10.5" text-anchor="middle" font-family="&quot;Liberation Serif&quot;, serif" fill="#1c1c1c"  stroke="#1c1c1c" stroke-width="0.25">Value</text>
<rect x="0" y="562.1" width="685" height="2" fill="#fbfbfb" />
<line x1="0" y1="0.55" x2="685" y2="0.55" stroke="#d3dcc3" stroke-width="1.15" />
<line x1="0" y1="0.55" x2="685" y2="0.55" stroke="#17347a" stroke-width="1.15" stroke-dasharray="3.9 2.12" stroke-dashoffset="2.22"/>
<line x1="0" y1="561.4" x2="685" y2="561.4" stroke="#d3dcc3" stroke-width="1.15" />
<line x1="0" y1="561.4" x2="685" y2="561.4" stroke="#17347a" stroke-width="1.15" stroke-dasharray="3.9 2.12" stroke-dashoffset="2.22"/>
<line x1="0.55" y1="0" x2="0.55" y2="562" stroke="#d3dcc3" stroke-width="1.15" />
<line x1="0.55" y1="0" x2="0.55" y2="562" stroke="#17347a" stroke-width="1.15" stroke-dasharray="3.7 2.3" stroke-dashoffset="0.2"/>
<line x1="684.45" y1="0" x2="684.45" y2="562" stroke="#d3dcc3" stroke-width="1.15" />
<line x1="684.45" y1="0" x2="684.45" y2="562" stroke="#17347a" stroke-width="1.15" stroke-dasharray="3.7 2.3" stroke-dashoffset="0.2"/>
</svg>
</body></html>
